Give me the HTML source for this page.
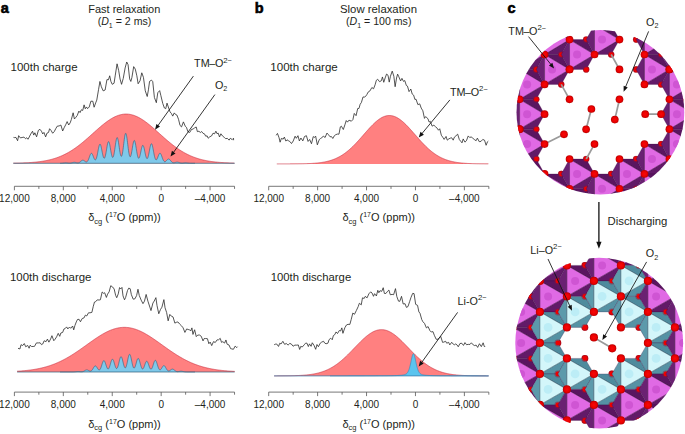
<!DOCTYPE html><html><head><meta charset="utf-8"><style>html,body{margin:0;padding:0;background:#fff;}svg{display:block;}</style></head><body>
<svg width="685" height="434" viewBox="0 0 685 434" font-family='"Liberation Sans", sans-serif' fill="#231f20">
<defs><clipPath id="ct"><ellipse cx="600.4" cy="112.2" rx="83.9" ry="82.2"/></clipPath><clipPath id="cb"><ellipse cx="599.2" cy="343.1" rx="83.9" ry="85.3"/></clipPath><radialGradient id="rg" cx="0.5" cy="0.5" r="0.5"><stop offset="0" stop-color="#f80808"/><stop offset="0.65" stop-color="#ea0000"/><stop offset="1" stop-color="#b80000"/></radialGradient></defs>
<rect width="685" height="434" fill="#fff"/>
<text x="0.8" y="12.9" font-size="14.5" font-weight="bold" fill="#000" stroke="#000" stroke-width="0.6">a</text>
<text x="254.8" y="12.9" font-size="14.5" font-weight="bold" fill="#000" stroke="#000" stroke-width="0.6">b</text>
<text x="507.4" y="12.9" font-size="14.5" font-weight="bold" fill="#000" stroke="#000" stroke-width="0.6">c</text>
<text x="88.3" y="12.9" font-size="10.9" textLength="72" lengthAdjust="spacingAndGlyphs">Fast relaxation</text>
<text x="124.5" y="25.3" text-anchor="middle" font-size="10.6">(<tspan font-style="italic">D</tspan><tspan font-size="7" dy="2.9">1</tspan><tspan dy="-2.9"> = 2 ms)</tspan></text>
<text x="340" y="13.4" font-size="10.9" textLength="77" lengthAdjust="spacingAndGlyphs">Slow relaxation</text>
<text x="378.7" y="25.3" text-anchor="middle" font-size="10.6">(<tspan font-style="italic">D</tspan><tspan font-size="7" dy="2.9">1</tspan><tspan dy="-2.9"> = 100 ms)</tspan></text>
<text x="10.6" y="70.6" font-size="11.2" textLength="67" lengthAdjust="spacingAndGlyphs">100th charge</text>
<text x="10.0" y="281" font-size="11.2" textLength="81.5" lengthAdjust="spacingAndGlyphs">100th discharge</text>
<text x="270.3" y="70.8" font-size="11.2" textLength="67.5" lengthAdjust="spacingAndGlyphs">100th charge</text>
<text x="270.7" y="280.7" font-size="11.2" textLength="80.5" lengthAdjust="spacingAndGlyphs">100th discharge</text>
<path d="M13.3,163.3 L13.3,163.15 L13.8,163.14 L14.3,163.13 L14.8,163.12 L15.3,163.11 L15.8,163.1 L16.3,163.09 L16.8,163.08 L17.3,163.07 L17.8,163.06 L18.3,163.05 L18.8,163.03 L19.3,163.02 L19.8,163.01 L20.3,162.99 L20.8,162.98 L21.3,162.96 L21.8,162.95 L22.3,162.93 L22.8,162.91 L23.3,162.89 L23.8,162.87 L24.3,162.85 L24.8,162.83 L25.3,162.81 L25.8,162.79 L26.3,162.76 L26.8,162.74 L27.3,162.71 L27.8,162.69 L28.3,162.66 L28.8,162.63 L29.3,162.6 L29.8,162.57 L30.3,162.53 L30.8,162.5 L31.3,162.46 L31.8,162.43 L32.3,162.39 L32.8,162.35 L33.3,162.31 L33.8,162.27 L34.3,162.22 L34.8,162.18 L35.3,162.13 L35.8,162.08 L36.3,162.03 L36.8,161.98 L37.3,161.92 L37.8,161.87 L38.3,161.81 L38.8,161.75 L39.3,161.69 L39.8,161.62 L40.3,161.55 L40.8,161.48 L41.3,161.41 L41.8,161.34 L42.3,161.26 L42.8,161.18 L43.3,161.1 L43.8,161.02 L44.3,160.93 L44.8,160.84 L45.3,160.75 L45.8,160.66 L46.3,160.56 L46.8,160.46 L47.3,160.35 L47.8,160.25 L48.3,160.14 L48.8,160.02 L49.3,159.91 L49.8,159.79 L50.3,159.67 L50.8,159.54 L51.3,159.41 L51.8,159.27 L52.3,159.14 L52.8,159 L53.3,158.85 L53.8,158.7 L54.3,158.55 L54.8,158.39 L55.3,158.23 L55.8,158.07 L56.3,157.9 L56.8,157.72 L57.3,157.55 L57.8,157.37 L58.3,157.18 L58.8,156.99 L59.3,156.79 L59.8,156.59 L60.3,156.39 L60.8,156.18 L61.3,155.97 L61.8,155.75 L62.3,155.53 L62.8,155.3 L63.3,155.07 L63.8,154.83 L64.3,154.59 L64.8,154.34 L65.3,154.09 L65.8,153.84 L66.3,153.57 L66.8,153.31 L67.3,153.04 L67.8,152.76 L68.3,152.48 L68.8,152.19 L69.3,151.9 L69.8,151.61 L70.3,151.3 L70.8,151 L71.3,150.69 L71.8,150.37 L72.3,150.05 L72.8,149.73 L73.3,149.39 L73.8,149.06 L74.3,148.72 L74.8,148.37 L75.3,148.02 L75.8,147.67 L76.3,147.31 L76.8,146.95 L77.3,146.58 L77.8,146.21 L78.3,145.83 L78.8,145.45 L79.3,145.06 L79.8,144.68 L80.3,144.28 L80.8,143.89 L81.3,143.48 L81.8,143.08 L82.3,142.67 L82.8,142.26 L83.3,141.85 L83.8,141.43 L84.3,141.01 L84.8,140.58 L85.3,140.15 L85.8,139.72 L86.3,139.29 L86.8,138.86 L87.3,138.42 L87.8,137.98 L88.3,137.54 L88.8,137.1 L89.3,136.66 L89.8,136.21 L90.3,135.76 L90.8,135.32 L91.3,134.87 L91.8,134.42 L92.3,133.97 L92.8,133.52 L93.3,133.07 L93.8,132.62 L94.3,132.17 L94.8,131.72 L95.3,131.27 L95.8,130.83 L96.3,130.38 L96.8,129.94 L97.3,129.49 L97.8,129.05 L98.3,128.61 L98.8,128.18 L99.3,127.74 L99.8,127.31 L100.3,126.89 L100.8,126.46 L101.3,126.04 L101.8,125.62 L102.3,125.21 L102.8,124.8 L103.3,124.4 L103.8,124 L104.3,123.6 L104.8,123.21 L105.3,122.83 L105.8,122.45 L106.3,122.07 L106.8,121.71 L107.3,121.35 L107.8,120.99 L108.3,120.64 L108.8,120.3 L109.3,119.97 L109.8,119.64 L110.3,119.32 L110.8,119.01 L111.3,118.71 L111.8,118.41 L112.3,118.13 L112.8,117.85 L113.3,117.58 L113.8,117.32 L114.3,117.06 L114.8,116.82 L115.3,116.59 L115.8,116.36 L116.3,116.15 L116.8,115.94 L117.3,115.75 L117.8,115.57 L118.3,115.39 L118.8,115.23 L119.3,115.07 L119.8,114.93 L120.3,114.8 L120.8,114.67 L121.3,114.56 L121.8,114.46 L122.3,114.37 L122.8,114.29 L123.3,114.22 L123.8,114.17 L124.3,114.12 L124.8,114.09 L125.3,114.06 L125.8,114.05 L126.3,114.05 L126.8,114.06 L127.3,114.08 L127.8,114.11 L128.3,114.16 L128.8,114.21 L129.3,114.28 L129.8,114.35 L130.3,114.44 L130.8,114.54 L131.3,114.65 L131.8,114.77 L132.3,114.9 L132.8,115.04 L133.3,115.19 L133.8,115.36 L134.3,115.53 L134.8,115.71 L135.3,115.91 L135.8,116.11 L136.3,116.32 L136.8,116.54 L137.3,116.77 L137.8,117.02 L138.3,117.27 L138.8,117.52 L139.3,117.79 L139.8,118.07 L140.3,118.35 L140.8,118.65 L141.3,118.95 L141.8,119.26 L142.3,119.58 L142.8,119.9 L143.3,120.24 L143.8,120.57 L144.3,120.92 L144.8,121.27 L145.3,121.63 L145.8,122 L146.3,122.37 L146.8,122.75 L147.3,123.13 L147.8,123.52 L148.3,123.92 L148.8,124.32 L149.3,124.72 L149.8,125.13 L150.3,125.54 L150.8,125.96 L151.3,126.38 L151.8,126.8 L152.3,127.23 L152.8,127.66 L153.3,128.09 L153.8,128.53 L154.3,128.96 L154.8,129.41 L155.3,129.85 L155.8,130.29 L156.3,130.74 L156.8,131.18 L157.3,131.63 L157.8,132.08 L158.3,132.53 L158.8,132.98 L159.3,133.43 L159.8,133.88 L160.3,134.33 L160.8,134.78 L161.3,135.23 L161.8,135.67 L162.3,136.12 L162.8,136.57 L163.3,137.01 L163.8,137.45 L164.3,137.89 L164.8,138.33 L165.3,138.77 L165.8,139.21 L166.3,139.64 L166.8,140.07 L167.3,140.5 L167.8,140.92 L168.3,141.34 L168.8,141.76 L169.3,142.18 L169.8,142.59 L170.3,143 L170.8,143.4 L171.3,143.81 L171.8,144.2 L172.3,144.6 L172.8,144.99 L173.3,145.37 L173.8,145.75 L174.3,146.13 L174.8,146.51 L175.3,146.87 L175.8,147.24 L176.3,147.6 L176.8,147.95 L177.3,148.3 L177.8,148.65 L178.3,148.99 L178.8,149.33 L179.3,149.66 L179.8,149.99 L180.3,150.31 L180.8,150.62 L181.3,150.94 L181.8,151.24 L182.3,151.55 L182.8,151.84 L183.3,152.14 L183.8,152.42 L184.3,152.7 L184.8,152.98 L185.3,153.25 L185.8,153.52 L186.3,153.78 L186.8,154.04 L187.3,154.29 L187.8,154.54 L188.3,154.78 L188.8,155.02 L189.3,155.26 L189.8,155.48 L190.3,155.71 L190.8,155.93 L191.3,156.14 L191.8,156.35 L192.3,156.55 L192.8,156.75 L193.3,156.95 L193.8,157.14 L194.3,157.33 L194.8,157.51 L195.3,157.69 L195.8,157.86 L196.3,158.03 L196.8,158.2 L197.3,158.36 L197.8,158.52 L198.3,158.67 L198.8,158.82 L199.3,158.97 L199.8,159.11 L200.3,159.25 L200.8,159.38 L201.3,159.51 L201.8,159.64 L202.3,159.76 L202.8,159.88 L203.3,160 L203.8,160.12 L204.3,160.23 L204.8,160.33 L205.3,160.44 L205.8,160.54 L206.3,160.64 L206.8,160.73 L207.3,160.83 L207.8,160.92 L208.3,161 L208.8,161.09 L209.3,161.17 L209.8,161.25 L210.3,161.32 L210.8,161.4 L211.3,161.47 L211.8,161.54 L212.3,161.61 L212.8,161.67 L213.3,161.74 L213.8,161.8 L214.3,161.86 L214.8,161.91 L215.3,161.97 L215.8,162.02 L216.3,162.07 L216.8,162.12 L217.3,162.17 L217.8,162.21 L218.3,162.26 L218.8,162.3 L219.3,162.34 L219.8,162.38 L220.3,162.42 L220.8,162.46 L221.3,162.49 L221.8,162.53 L222.3,162.56 L222.8,162.59 L223.3,162.62 L223.8,162.65 L224.3,162.68 L224.8,162.71 L225.3,162.73 L225.8,162.76 L226.3,162.78 L226.8,162.8 L227.3,162.83 L227.8,162.85 L228.3,162.87 L228.8,162.89 L229.3,162.91 L229.8,162.93 L230.3,162.94 L230.8,162.96 L231.3,162.97 L231.8,162.99 L232.3,163 L232.8,163.02 L233.3,163.03 L233.8,163.04 L234.3,163.06 L234.7,163.3 Z" fill="#ff8080"/><path d="M13.3,163.15 L13.8,163.14 L14.3,163.13 L14.8,163.12 L15.3,163.11 L15.8,163.1 L16.3,163.09 L16.8,163.08 L17.3,163.07 L17.8,163.06 L18.3,163.05 L18.8,163.03 L19.3,163.02 L19.8,163.01 L20.3,162.99 L20.8,162.98 L21.3,162.96 L21.8,162.95 L22.3,162.93 L22.8,162.91 L23.3,162.89 L23.8,162.87 L24.3,162.85 L24.8,162.83 L25.3,162.81 L25.8,162.79 L26.3,162.76 L26.8,162.74 L27.3,162.71 L27.8,162.69 L28.3,162.66 L28.8,162.63 L29.3,162.6 L29.8,162.57 L30.3,162.53 L30.8,162.5 L31.3,162.46 L31.8,162.43 L32.3,162.39 L32.8,162.35 L33.3,162.31 L33.8,162.27 L34.3,162.22 L34.8,162.18 L35.3,162.13 L35.8,162.08 L36.3,162.03 L36.8,161.98 L37.3,161.92 L37.8,161.87 L38.3,161.81 L38.8,161.75 L39.3,161.69 L39.8,161.62 L40.3,161.55 L40.8,161.48 L41.3,161.41 L41.8,161.34 L42.3,161.26 L42.8,161.18 L43.3,161.1 L43.8,161.02 L44.3,160.93 L44.8,160.84 L45.3,160.75 L45.8,160.66 L46.3,160.56 L46.8,160.46 L47.3,160.35 L47.8,160.25 L48.3,160.14 L48.8,160.02 L49.3,159.91 L49.8,159.79 L50.3,159.67 L50.8,159.54 L51.3,159.41 L51.8,159.27 L52.3,159.14 L52.8,159 L53.3,158.85 L53.8,158.7 L54.3,158.55 L54.8,158.39 L55.3,158.23 L55.8,158.07 L56.3,157.9 L56.8,157.72 L57.3,157.55 L57.8,157.37 L58.3,157.18 L58.8,156.99 L59.3,156.79 L59.8,156.59 L60.3,156.39 L60.8,156.18 L61.3,155.97 L61.8,155.75 L62.3,155.53 L62.8,155.3 L63.3,155.07 L63.8,154.83 L64.3,154.59 L64.8,154.34 L65.3,154.09 L65.8,153.84 L66.3,153.57 L66.8,153.31 L67.3,153.04 L67.8,152.76 L68.3,152.48 L68.8,152.19 L69.3,151.9 L69.8,151.61 L70.3,151.3 L70.8,151 L71.3,150.69 L71.8,150.37 L72.3,150.05 L72.8,149.73 L73.3,149.39 L73.8,149.06 L74.3,148.72 L74.8,148.37 L75.3,148.02 L75.8,147.67 L76.3,147.31 L76.8,146.95 L77.3,146.58 L77.8,146.21 L78.3,145.83 L78.8,145.45 L79.3,145.06 L79.8,144.68 L80.3,144.28 L80.8,143.89 L81.3,143.48 L81.8,143.08 L82.3,142.67 L82.8,142.26 L83.3,141.85 L83.8,141.43 L84.3,141.01 L84.8,140.58 L85.3,140.15 L85.8,139.72 L86.3,139.29 L86.8,138.86 L87.3,138.42 L87.8,137.98 L88.3,137.54 L88.8,137.1 L89.3,136.66 L89.8,136.21 L90.3,135.76 L90.8,135.32 L91.3,134.87 L91.8,134.42 L92.3,133.97 L92.8,133.52 L93.3,133.07 L93.8,132.62 L94.3,132.17 L94.8,131.72 L95.3,131.27 L95.8,130.83 L96.3,130.38 L96.8,129.94 L97.3,129.49 L97.8,129.05 L98.3,128.61 L98.8,128.18 L99.3,127.74 L99.8,127.31 L100.3,126.89 L100.8,126.46 L101.3,126.04 L101.8,125.62 L102.3,125.21 L102.8,124.8 L103.3,124.4 L103.8,124 L104.3,123.6 L104.8,123.21 L105.3,122.83 L105.8,122.45 L106.3,122.07 L106.8,121.71 L107.3,121.35 L107.8,120.99 L108.3,120.64 L108.8,120.3 L109.3,119.97 L109.8,119.64 L110.3,119.32 L110.8,119.01 L111.3,118.71 L111.8,118.41 L112.3,118.13 L112.8,117.85 L113.3,117.58 L113.8,117.32 L114.3,117.06 L114.8,116.82 L115.3,116.59 L115.8,116.36 L116.3,116.15 L116.8,115.94 L117.3,115.75 L117.8,115.57 L118.3,115.39 L118.8,115.23 L119.3,115.07 L119.8,114.93 L120.3,114.8 L120.8,114.67 L121.3,114.56 L121.8,114.46 L122.3,114.37 L122.8,114.29 L123.3,114.22 L123.8,114.17 L124.3,114.12 L124.8,114.09 L125.3,114.06 L125.8,114.05 L126.3,114.05 L126.8,114.06 L127.3,114.08 L127.8,114.11 L128.3,114.16 L128.8,114.21 L129.3,114.28 L129.8,114.35 L130.3,114.44 L130.8,114.54 L131.3,114.65 L131.8,114.77 L132.3,114.9 L132.8,115.04 L133.3,115.19 L133.8,115.36 L134.3,115.53 L134.8,115.71 L135.3,115.91 L135.8,116.11 L136.3,116.32 L136.8,116.54 L137.3,116.77 L137.8,117.02 L138.3,117.27 L138.8,117.52 L139.3,117.79 L139.8,118.07 L140.3,118.35 L140.8,118.65 L141.3,118.95 L141.8,119.26 L142.3,119.58 L142.8,119.9 L143.3,120.24 L143.8,120.57 L144.3,120.92 L144.8,121.27 L145.3,121.63 L145.8,122 L146.3,122.37 L146.8,122.75 L147.3,123.13 L147.8,123.52 L148.3,123.92 L148.8,124.32 L149.3,124.72 L149.8,125.13 L150.3,125.54 L150.8,125.96 L151.3,126.38 L151.8,126.8 L152.3,127.23 L152.8,127.66 L153.3,128.09 L153.8,128.53 L154.3,128.96 L154.8,129.41 L155.3,129.85 L155.8,130.29 L156.3,130.74 L156.8,131.18 L157.3,131.63 L157.8,132.08 L158.3,132.53 L158.8,132.98 L159.3,133.43 L159.8,133.88 L160.3,134.33 L160.8,134.78 L161.3,135.23 L161.8,135.67 L162.3,136.12 L162.8,136.57 L163.3,137.01 L163.8,137.45 L164.3,137.89 L164.8,138.33 L165.3,138.77 L165.8,139.21 L166.3,139.64 L166.8,140.07 L167.3,140.5 L167.8,140.92 L168.3,141.34 L168.8,141.76 L169.3,142.18 L169.8,142.59 L170.3,143 L170.8,143.4 L171.3,143.81 L171.8,144.2 L172.3,144.6 L172.8,144.99 L173.3,145.37 L173.8,145.75 L174.3,146.13 L174.8,146.51 L175.3,146.87 L175.8,147.24 L176.3,147.6 L176.8,147.95 L177.3,148.3 L177.8,148.65 L178.3,148.99 L178.8,149.33 L179.3,149.66 L179.8,149.99 L180.3,150.31 L180.8,150.62 L181.3,150.94 L181.8,151.24 L182.3,151.55 L182.8,151.84 L183.3,152.14 L183.8,152.42 L184.3,152.7 L184.8,152.98 L185.3,153.25 L185.8,153.52 L186.3,153.78 L186.8,154.04 L187.3,154.29 L187.8,154.54 L188.3,154.78 L188.8,155.02 L189.3,155.26 L189.8,155.48 L190.3,155.71 L190.8,155.93 L191.3,156.14 L191.8,156.35 L192.3,156.55 L192.8,156.75 L193.3,156.95 L193.8,157.14 L194.3,157.33 L194.8,157.51 L195.3,157.69 L195.8,157.86 L196.3,158.03 L196.8,158.2 L197.3,158.36 L197.8,158.52 L198.3,158.67 L198.8,158.82 L199.3,158.97 L199.8,159.11 L200.3,159.25 L200.8,159.38 L201.3,159.51 L201.8,159.64 L202.3,159.76 L202.8,159.88 L203.3,160 L203.8,160.12 L204.3,160.23 L204.8,160.33 L205.3,160.44 L205.8,160.54 L206.3,160.64 L206.8,160.73 L207.3,160.83 L207.8,160.92 L208.3,161 L208.8,161.09 L209.3,161.17 L209.8,161.25 L210.3,161.32 L210.8,161.4 L211.3,161.47 L211.8,161.54 L212.3,161.61 L212.8,161.67 L213.3,161.74 L213.8,161.8 L214.3,161.86 L214.8,161.91 L215.3,161.97 L215.8,162.02 L216.3,162.07 L216.8,162.12 L217.3,162.17 L217.8,162.21 L218.3,162.26 L218.8,162.3 L219.3,162.34 L219.8,162.38 L220.3,162.42 L220.8,162.46 L221.3,162.49 L221.8,162.53 L222.3,162.56 L222.8,162.59 L223.3,162.62 L223.8,162.65 L224.3,162.68 L224.8,162.71 L225.3,162.73 L225.8,162.76 L226.3,162.78 L226.8,162.8 L227.3,162.83 L227.8,162.85 L228.3,162.87 L228.8,162.89 L229.3,162.91 L229.8,162.93 L230.3,162.94 L230.8,162.96 L231.3,162.97 L231.8,162.99 L232.3,163 L232.8,163.02 L233.3,163.03 L233.8,163.04 L234.3,163.06" fill="none" stroke="#c8283a" stroke-width="0.6"/><path d="M60,163.3 L60,163.29 L60.25,163.28 L60.5,163.28 L60.75,163.27 L61,163.26 L61.25,163.25 L61.5,163.23 L61.75,163.22 L62,163.19 L62.25,163.17 L62.5,163.14 L62.75,163.11 L63,163.08 L63.25,163.05 L63.5,163.01 L63.75,162.98 L64,162.94 L64.25,162.91 L64.5,162.88 L64.75,162.85 L65,162.83 L65.25,162.81 L65.5,162.8 L65.75,162.8 L66,162.8 L66.25,162.82 L66.5,162.83 L66.75,162.86 L67,162.88 L67.25,162.91 L67.5,162.95 L67.75,162.98 L68,163.01 L68.25,163.04 L68.5,163.07 L68.75,163.09 L69,163.11 L69.25,163.12 L69.5,163.13 L69.75,163.12 L70,163.11 L70.25,163.09 L70.5,163.07 L70.75,163.03 L71,162.98 L71.25,162.93 L71.5,162.87 L71.75,162.81 L72,162.74 L72.25,162.67 L72.5,162.6 L72.75,162.53 L73,162.47 L73.25,162.41 L73.5,162.37 L73.75,162.33 L74,162.31 L74.25,162.3 L74.5,162.3 L74.75,162.32 L75,162.35 L75.25,162.4 L75.5,162.45 L75.75,162.51 L76,162.57 L76.25,162.63 L76.5,162.7 L76.75,162.75 L77,162.8 L77.25,162.84 L77.5,162.87 L77.75,162.88 L78,162.88 L78.25,162.85 L78.5,162.8 L78.75,162.74 L79,162.64 L79.25,162.53 L79.5,162.39 L79.75,162.22 L80,162.04 L80.25,161.84 L80.5,161.63 L80.75,161.41 L81,161.19 L81.25,160.98 L81.5,160.78 L81.75,160.6 L82,160.44 L82.25,160.32 L82.5,160.24 L82.75,160.2 L83,160.2 L83.25,160.25 L83.5,160.34 L83.75,160.46 L84,160.61 L84.25,160.79 L84.5,160.98 L84.75,161.18 L85,161.37 L85.25,161.55 L85.5,161.71 L85.75,161.84 L86,161.94 L86.25,161.98 L86.5,161.97 L86.75,161.9 L87,161.77 L87.25,161.56 L87.5,161.28 L87.75,160.92 L88,160.49 L88.25,159.99 L88.5,159.41 L88.75,158.78 L89,158.11 L89.25,157.41 L89.5,156.7 L89.75,156 L90,155.33 L90.25,154.73 L90.5,154.21 L90.75,153.79 L91,153.49 L91.25,153.33 L91.5,153.3 L91.75,153.41 L92,153.66 L92.25,154.03 L92.5,154.51 L92.75,155.07 L93,155.69 L93.25,156.35 L93.5,157.02 L93.75,157.67 L94,158.27 L94.25,158.81 L94.5,159.26 L94.75,159.61 L95,159.83 L95.25,159.91 L95.5,159.84 L95.75,159.62 L96,159.23 L96.25,158.68 L96.5,157.96 L96.75,157.09 L97,156.08 L97.25,154.93 L97.5,153.69 L97.75,152.38 L98,151.04 L98.25,149.7 L98.5,148.42 L98.75,147.23 L99,146.19 L99.25,145.34 L99.5,144.7 L99.75,144.32 L100,144.19 L100.25,144.34 L100.5,144.74 L100.75,145.39 L101,146.25 L101.25,147.3 L101.5,148.47 L101.75,149.74 L102,151.05 L102.25,152.36 L102.5,153.61 L102.75,154.77 L103,155.81 L103.25,156.69 L103.5,157.38 L103.75,157.88 L104,158.16 L104.25,158.22 L104.5,158.05 L104.75,157.65 L105,157.03 L105.25,156.2 L105.5,155.18 L105.75,153.99 L106,152.66 L106.25,151.23 L106.5,149.73 L106.75,148.23 L107,146.76 L107.25,145.39 L107.5,144.16 L107.75,143.13 L108,142.34 L108.25,141.82 L108.5,141.6 L108.75,141.68 L109,142.05 L109.25,142.72 L109.5,143.63 L109.75,144.76 L110,146.07 L110.25,147.48 L110.5,148.96 L110.75,150.45 L111,151.89 L111.25,153.24 L111.5,154.45 L111.75,155.49 L112,156.33 L112.25,156.94 L112.5,157.31 L112.75,157.42 L113,157.26 L113.25,156.84 L113.5,156.17 L113.75,155.24 L114,154.08 L114.25,152.71 L114.5,151.17 L114.75,149.5 L115,147.74 L115.25,145.95 L115.5,144.19 L115.75,142.53 L116,141.02 L116.25,139.73 L116.5,138.71 L116.75,138 L117,137.64 L117.25,137.63 L117.5,137.98 L117.75,138.67 L118,139.68 L118.25,140.95 L118.5,142.44 L118.75,144.09 L119,145.83 L119.25,147.59 L119.5,149.32 L119.75,150.96 L120,152.45 L120.25,153.74 L120.5,154.81 L120.75,155.62 L121,156.14 L121.25,156.37 L121.5,156.29 L121.75,155.9 L122,155.2 L122.25,154.2 L122.5,152.93 L122.75,151.4 L123,149.66 L123.25,147.74 L123.5,145.71 L123.75,143.63 L124,141.56 L124.25,139.58 L124.5,137.76 L124.75,136.18 L125,134.9 L125.25,133.96 L125.5,133.42 L125.75,133.3 L126,133.59 L126.25,134.29 L126.5,135.37 L126.75,136.79 L127,138.47 L127.25,140.37 L127.5,142.4 L127.75,144.49 L128,146.57 L128.25,148.57 L128.5,150.44 L128.75,152.13 L129,153.59 L129.25,154.8 L129.5,155.74 L129.75,156.38 L130,156.73 L130.25,156.78 L130.5,156.55 L130.75,156.04 L131,155.28 L131.25,154.28 L131.5,153.09 L131.75,151.73 L132,150.25 L132.25,148.71 L132.5,147.16 L132.75,145.65 L133,144.24 L133.25,142.99 L133.5,141.95 L133.75,141.17 L134,140.67 L134.25,140.49 L134.5,140.62 L134.75,141.07 L135,141.82 L135.25,142.83 L135.5,144.05 L135.75,145.45 L136,146.97 L136.25,148.55 L136.5,150.14 L136.75,151.68 L137,153.13 L137.25,154.45 L137.5,155.6 L137.75,156.57 L138,157.33 L138.25,157.86 L138.5,158.17 L138.75,158.26 L139,158.11 L139.25,157.75 L139.5,157.19 L139.75,156.45 L140,155.54 L140.25,154.49 L140.5,153.35 L140.75,152.14 L141,150.9 L141.25,149.69 L141.5,148.55 L141.75,147.53 L142,146.66 L142.25,145.98 L142.5,145.52 L142.75,145.31 L143,145.34 L143.25,145.63 L143.5,146.15 L143.75,146.89 L144,147.81 L144.25,148.87 L144.5,150.04 L144.75,151.27 L145,152.51 L145.25,153.72 L145.5,154.86 L145.75,155.89 L146,156.79 L146.25,157.53 L146.5,158.08 L146.75,158.45 L147,158.61 L147.25,158.56 L147.5,158.3 L147.75,157.84 L148,157.18 L148.25,156.33 L148.5,155.32 L148.75,154.17 L149,152.91 L149.25,151.58 L149.5,150.22 L149.75,148.88 L150,147.6 L150.25,146.44 L150.5,145.43 L150.75,144.63 L151,144.06 L151.25,143.75 L151.5,143.71 L151.75,143.95 L152,144.45 L152.25,145.19 L152.5,146.15 L152.75,147.28 L153,148.54 L153.25,149.89 L153.5,151.27 L153.75,152.64 L154,153.96 L154.25,155.2 L154.5,156.33 L154.75,157.31 L155,158.15 L155.25,158.82 L155.5,159.32 L155.75,159.66 L156,159.83 L156.25,159.84 L156.5,159.7 L156.75,159.43 L157,159.04 L157.25,158.55 L157.5,157.98 L157.75,157.35 L158,156.68 L158.25,156.01 L158.5,155.36 L158.75,154.75 L159,154.21 L159.25,153.77 L159.5,153.45 L159.75,153.25 L160,153.19 L160.25,153.28 L160.5,153.5 L160.75,153.85 L161,154.32 L161.25,154.88 L161.5,155.51 L161.75,156.2 L162,156.91 L162.25,157.62 L162.5,158.32 L162.75,158.97 L163,159.58 L163.25,160.12 L163.5,160.58 L163.75,160.97 L164,161.27 L164.25,161.49 L164.5,161.63 L164.75,161.7 L165,161.69 L165.25,161.62 L165.5,161.48 L165.75,161.3 L166,161.08 L166.25,160.82 L166.5,160.55 L166.75,160.27 L167,159.99 L167.25,159.72 L167.5,159.49 L167.75,159.29 L168,159.14 L168.25,159.04 L168.5,159 L168.75,159.02 L169,159.1 L169.25,159.23 L169.5,159.42 L169.75,159.64 L170,159.91 L170.25,160.2 L170.5,160.5 L170.75,160.8 L171,161.11 L171.25,161.39 L171.5,161.66 L171.75,161.91 L172,162.12 L172.25,162.31 L172.5,162.46 L172.75,162.58 L173,162.67 L173.25,162.73 L173.5,162.76 L173.75,162.77 L174,162.75 L174.25,162.72 L174.5,162.67 L174.75,162.61 L175,162.54 L175.25,162.47 L175.5,162.39 L175.75,162.32 L176,162.25 L176.25,162.19 L176.5,162.15 L176.75,162.12 L177,162.1 L177.25,162.1 L177.5,162.12 L177.75,162.15 L178,162.2 L178.25,162.26 L178.5,162.33 L178.75,162.41 L179,162.49 L179.25,162.58 L179.5,162.66 L179.75,162.74 L180,162.82 L180.25,162.89 L180.5,162.95 L180.75,163 L181,163.04 L181.25,163.07 L181.5,163.1 L181.75,163.11 L182,163.11 L182.25,163.11 L182.5,163.1 L182.75,163.08 L183,163.06 L183.25,163.03 L183.5,163 L183.75,162.97 L184,162.93 L184.25,162.9 L184.5,162.87 L184.75,162.85 L185,162.83 L185.25,162.81 L185.5,162.8 L185.75,162.8 L186,162.81 L186.25,162.82 L186.5,162.84 L186.75,162.86 L187,162.89 L187.25,162.92 L187.5,162.96 L187.75,162.99 L188,163.03 L188.25,163.06 L188.5,163.1 L188.75,163.13 L189,163.16 L189.25,163.18 L189.5,163.2 L189.75,163.22 L190,163.24 L190.25,163.25 L190.5,163.26 L190.75,163.27 L191,163.28 L191.25,163.28 L191.5,163.29 L191.75,163.29 L192,163.29 L192.25,163.3 L192.5,163.3 L192.75,163.3 L193,163.3 L193.25,163.3 L193.5,163.3 L193.75,163.3 L194,163.3 L194.25,163.3 L194.5,163.3 L194.75,163.3 L195,163.3 L195,163.3 Z" fill="#7fc9ea"/><path d="M60,163.29 L60.25,163.28 L60.5,163.28 L60.75,163.27 L61,163.26 L61.25,163.25 L61.5,163.23 L61.75,163.22 L62,163.19 L62.25,163.17 L62.5,163.14 L62.75,163.11 L63,163.08 L63.25,163.05 L63.5,163.01 L63.75,162.98 L64,162.94 L64.25,162.91 L64.5,162.88 L64.75,162.85 L65,162.83 L65.25,162.81 L65.5,162.8 L65.75,162.8 L66,162.8 L66.25,162.82 L66.5,162.83 L66.75,162.86 L67,162.88 L67.25,162.91 L67.5,162.95 L67.75,162.98 L68,163.01 L68.25,163.04 L68.5,163.07 L68.75,163.09 L69,163.11 L69.25,163.12 L69.5,163.13 L69.75,163.12 L70,163.11 L70.25,163.09 L70.5,163.07 L70.75,163.03 L71,162.98 L71.25,162.93 L71.5,162.87 L71.75,162.81 L72,162.74 L72.25,162.67 L72.5,162.6 L72.75,162.53 L73,162.47 L73.25,162.41 L73.5,162.37 L73.75,162.33 L74,162.31 L74.25,162.3 L74.5,162.3 L74.75,162.32 L75,162.35 L75.25,162.4 L75.5,162.45 L75.75,162.51 L76,162.57 L76.25,162.63 L76.5,162.7 L76.75,162.75 L77,162.8 L77.25,162.84 L77.5,162.87 L77.75,162.88 L78,162.88 L78.25,162.85 L78.5,162.8 L78.75,162.74 L79,162.64 L79.25,162.53 L79.5,162.39 L79.75,162.22 L80,162.04 L80.25,161.84 L80.5,161.63 L80.75,161.41 L81,161.19 L81.25,160.98 L81.5,160.78 L81.75,160.6 L82,160.44 L82.25,160.32 L82.5,160.24 L82.75,160.2 L83,160.2 L83.25,160.25 L83.5,160.34 L83.75,160.46 L84,160.61 L84.25,160.79 L84.5,160.98 L84.75,161.18 L85,161.37 L85.25,161.55 L85.5,161.71 L85.75,161.84 L86,161.94 L86.25,161.98 L86.5,161.97 L86.75,161.9 L87,161.77 L87.25,161.56 L87.5,161.28 L87.75,160.92 L88,160.49 L88.25,159.99 L88.5,159.41 L88.75,158.78 L89,158.11 L89.25,157.41 L89.5,156.7 L89.75,156 L90,155.33 L90.25,154.73 L90.5,154.21 L90.75,153.79 L91,153.49 L91.25,153.33 L91.5,153.3 L91.75,153.41 L92,153.66 L92.25,154.03 L92.5,154.51 L92.75,155.07 L93,155.69 L93.25,156.35 L93.5,157.02 L93.75,157.67 L94,158.27 L94.25,158.81 L94.5,159.26 L94.75,159.61 L95,159.83 L95.25,159.91 L95.5,159.84 L95.75,159.62 L96,159.23 L96.25,158.68 L96.5,157.96 L96.75,157.09 L97,156.08 L97.25,154.93 L97.5,153.69 L97.75,152.38 L98,151.04 L98.25,149.7 L98.5,148.42 L98.75,147.23 L99,146.19 L99.25,145.34 L99.5,144.7 L99.75,144.32 L100,144.19 L100.25,144.34 L100.5,144.74 L100.75,145.39 L101,146.25 L101.25,147.3 L101.5,148.47 L101.75,149.74 L102,151.05 L102.25,152.36 L102.5,153.61 L102.75,154.77 L103,155.81 L103.25,156.69 L103.5,157.38 L103.75,157.88 L104,158.16 L104.25,158.22 L104.5,158.05 L104.75,157.65 L105,157.03 L105.25,156.2 L105.5,155.18 L105.75,153.99 L106,152.66 L106.25,151.23 L106.5,149.73 L106.75,148.23 L107,146.76 L107.25,145.39 L107.5,144.16 L107.75,143.13 L108,142.34 L108.25,141.82 L108.5,141.6 L108.75,141.68 L109,142.05 L109.25,142.72 L109.5,143.63 L109.75,144.76 L110,146.07 L110.25,147.48 L110.5,148.96 L110.75,150.45 L111,151.89 L111.25,153.24 L111.5,154.45 L111.75,155.49 L112,156.33 L112.25,156.94 L112.5,157.31 L112.75,157.42 L113,157.26 L113.25,156.84 L113.5,156.17 L113.75,155.24 L114,154.08 L114.25,152.71 L114.5,151.17 L114.75,149.5 L115,147.74 L115.25,145.95 L115.5,144.19 L115.75,142.53 L116,141.02 L116.25,139.73 L116.5,138.71 L116.75,138 L117,137.64 L117.25,137.63 L117.5,137.98 L117.75,138.67 L118,139.68 L118.25,140.95 L118.5,142.44 L118.75,144.09 L119,145.83 L119.25,147.59 L119.5,149.32 L119.75,150.96 L120,152.45 L120.25,153.74 L120.5,154.81 L120.75,155.62 L121,156.14 L121.25,156.37 L121.5,156.29 L121.75,155.9 L122,155.2 L122.25,154.2 L122.5,152.93 L122.75,151.4 L123,149.66 L123.25,147.74 L123.5,145.71 L123.75,143.63 L124,141.56 L124.25,139.58 L124.5,137.76 L124.75,136.18 L125,134.9 L125.25,133.96 L125.5,133.42 L125.75,133.3 L126,133.59 L126.25,134.29 L126.5,135.37 L126.75,136.79 L127,138.47 L127.25,140.37 L127.5,142.4 L127.75,144.49 L128,146.57 L128.25,148.57 L128.5,150.44 L128.75,152.13 L129,153.59 L129.25,154.8 L129.5,155.74 L129.75,156.38 L130,156.73 L130.25,156.78 L130.5,156.55 L130.75,156.04 L131,155.28 L131.25,154.28 L131.5,153.09 L131.75,151.73 L132,150.25 L132.25,148.71 L132.5,147.16 L132.75,145.65 L133,144.24 L133.25,142.99 L133.5,141.95 L133.75,141.17 L134,140.67 L134.25,140.49 L134.5,140.62 L134.75,141.07 L135,141.82 L135.25,142.83 L135.5,144.05 L135.75,145.45 L136,146.97 L136.25,148.55 L136.5,150.14 L136.75,151.68 L137,153.13 L137.25,154.45 L137.5,155.6 L137.75,156.57 L138,157.33 L138.25,157.86 L138.5,158.17 L138.75,158.26 L139,158.11 L139.25,157.75 L139.5,157.19 L139.75,156.45 L140,155.54 L140.25,154.49 L140.5,153.35 L140.75,152.14 L141,150.9 L141.25,149.69 L141.5,148.55 L141.75,147.53 L142,146.66 L142.25,145.98 L142.5,145.52 L142.75,145.31 L143,145.34 L143.25,145.63 L143.5,146.15 L143.75,146.89 L144,147.81 L144.25,148.87 L144.5,150.04 L144.75,151.27 L145,152.51 L145.25,153.72 L145.5,154.86 L145.75,155.89 L146,156.79 L146.25,157.53 L146.5,158.08 L146.75,158.45 L147,158.61 L147.25,158.56 L147.5,158.3 L147.75,157.84 L148,157.18 L148.25,156.33 L148.5,155.32 L148.75,154.17 L149,152.91 L149.25,151.58 L149.5,150.22 L149.75,148.88 L150,147.6 L150.25,146.44 L150.5,145.43 L150.75,144.63 L151,144.06 L151.25,143.75 L151.5,143.71 L151.75,143.95 L152,144.45 L152.25,145.19 L152.5,146.15 L152.75,147.28 L153,148.54 L153.25,149.89 L153.5,151.27 L153.75,152.64 L154,153.96 L154.25,155.2 L154.5,156.33 L154.75,157.31 L155,158.15 L155.25,158.82 L155.5,159.32 L155.75,159.66 L156,159.83 L156.25,159.84 L156.5,159.7 L156.75,159.43 L157,159.04 L157.25,158.55 L157.5,157.98 L157.75,157.35 L158,156.68 L158.25,156.01 L158.5,155.36 L158.75,154.75 L159,154.21 L159.25,153.77 L159.5,153.45 L159.75,153.25 L160,153.19 L160.25,153.28 L160.5,153.5 L160.75,153.85 L161,154.32 L161.25,154.88 L161.5,155.51 L161.75,156.2 L162,156.91 L162.25,157.62 L162.5,158.32 L162.75,158.97 L163,159.58 L163.25,160.12 L163.5,160.58 L163.75,160.97 L164,161.27 L164.25,161.49 L164.5,161.63 L164.75,161.7 L165,161.69 L165.25,161.62 L165.5,161.48 L165.75,161.3 L166,161.08 L166.25,160.82 L166.5,160.55 L166.75,160.27 L167,159.99 L167.25,159.72 L167.5,159.49 L167.75,159.29 L168,159.14 L168.25,159.04 L168.5,159 L168.75,159.02 L169,159.1 L169.25,159.23 L169.5,159.42 L169.75,159.64 L170,159.91 L170.25,160.2 L170.5,160.5 L170.75,160.8 L171,161.11 L171.25,161.39 L171.5,161.66 L171.75,161.91 L172,162.12 L172.25,162.31 L172.5,162.46 L172.75,162.58 L173,162.67 L173.25,162.73 L173.5,162.76 L173.75,162.77 L174,162.75 L174.25,162.72 L174.5,162.67 L174.75,162.61 L175,162.54 L175.25,162.47 L175.5,162.39 L175.75,162.32 L176,162.25 L176.25,162.19 L176.5,162.15 L176.75,162.12 L177,162.1 L177.25,162.1 L177.5,162.12 L177.75,162.15 L178,162.2 L178.25,162.26 L178.5,162.33 L178.75,162.41 L179,162.49 L179.25,162.58 L179.5,162.66 L179.75,162.74 L180,162.82 L180.25,162.89 L180.5,162.95 L180.75,163 L181,163.04 L181.25,163.07 L181.5,163.1 L181.75,163.11 L182,163.11 L182.25,163.11 L182.5,163.1 L182.75,163.08 L183,163.06 L183.25,163.03 L183.5,163 L183.75,162.97 L184,162.93 L184.25,162.9 L184.5,162.87 L184.75,162.85 L185,162.83 L185.25,162.81 L185.5,162.8 L185.75,162.8 L186,162.81 L186.25,162.82 L186.5,162.84 L186.75,162.86 L187,162.89 L187.25,162.92 L187.5,162.96 L187.75,162.99 L188,163.03 L188.25,163.06 L188.5,163.1 L188.75,163.13 L189,163.16 L189.25,163.18 L189.5,163.2 L189.75,163.22 L190,163.24 L190.25,163.25 L190.5,163.26 L190.75,163.27 L191,163.28 L191.25,163.28 L191.5,163.29 L191.75,163.29 L192,163.29 L192.25,163.3 L192.5,163.3 L192.75,163.3 L193,163.3 L193.25,163.3 L193.5,163.3 L193.75,163.3 L194,163.3 L194.25,163.3 L194.5,163.3 L194.75,163.3 L195,163.3" fill="none" stroke="#2e5b78" stroke-width="0.6"/><path d="M13.3,163.3H234.7" stroke="#2e5b78" stroke-width="0.7"/>
<path d="M13.5,137.4 L14.67,137.61 L15.95,137.42 L17.59,140.71 L18.66,135.67 L20.4,137.9 L22.1,137.51 L23.96,137.07 L25.5,138.73 L26.74,137.74 L27.99,139.28 L29.25,136.96 L30.71,134.06 L32.52,131.24 L33.74,135.09 L34.89,132.78 L36.58,136.82 L38.38,130.33 L39.96,129.31 L41.46,131.22 L42.73,133.94 L43.94,132.42 L45.6,136.89 L47.1,133 L48.51,132.48 L49.6,128.73 L51.18,130.61 L52.68,133.26 L54.22,131.63 L55.73,128.72 L57.19,126.21 L59.11,125.93 L60.89,125.04 L62.67,130.97 L64.11,127.75 L65.67,124.8 L67.15,121.58 L68.69,125.01 L70.15,122.85 L71.36,119.47 L73.13,112.79 L74.41,118.98 L75.53,117.74 L77.26,115.46 L78.88,111.09 L80.07,112.58 L81.37,109.75 L82.71,110.43 L84.1,104.86 L85.25,108.77 L86.49,106.96 L87.56,108.67 L89.26,106.96 L90.92,101.16 L92.84,101.27 L94.1,107.22 L95.66,102.88 L96.77,100.12 L98.6,89.28 L99.93,81.46 L101.36,86.77 L103.2,90.89 L105.11,90.01 L106.95,79.59 L108.45,79.75 L109.69,75.79 L110.91,81.49 L112.23,84.33 L114.06,83.24 L115.3,75.12 L117.05,63.82 L118.71,70.73 L120.07,79.07 L121.55,84.34 L123.26,78.39 L125.13,67.92 L126.72,61.99 L128.07,64.69 L129.67,78.91 L130.84,81.44 L131.92,77.44 L133.68,66.63 L135.29,69.14 L136.85,75.81 L138.14,83.77 L140.02,80.81 L141.78,72.81 L143.43,77.31 L145.28,90.8 L147.22,96.51 L148.42,89.83 L149.56,81.39 L151.49,80.13 L152.76,81.65 L154.4,97.46 L156.33,102.69 L157.79,92.72 L159.66,90.61 L160.81,95.33 L162.74,103.38 L164.39,107.99 L165.72,108.71 L167.02,103.12 L168.66,108.02 L170.06,111.89 L171.39,113.46 L172.71,116.12 L174.29,112.9 L175.35,114.3 L176.9,115.06 L178.52,119.25 L180.02,125.41 L181.52,126.9 L183.42,121.88 L185.36,126.44 L186.5,127.4 L187.82,131.64 L189.69,132.45 L191.55,129.44 L193.36,128.98 L194.57,127.74 L196.26,127.06 L197.37,131.62 L198.91,131.25 L200.37,132.53 L201.65,131.52 L203.08,133.39 L204.45,133.83 L205.73,136.21 L207.14,135.87 L208.2,138.24 L209.83,136.76 L211.54,135.97 L213.02,133.2 L214.58,133.84 L215.87,131.15 L216.99,133.69 L218.18,133.07 L219.51,136.97 L220.9,133.79 L222.48,135.94 L224.4,137.51 L225.67,138.61 L227.4,138.41 L229.1,140.15 L230.3,138.28 L232.23,139.62 L233.52,138.21 L233.6,140.2" fill="none" stroke="#2a2a2a" stroke-width="0.8" stroke-linejoin="round"/>
<path d="M14.4,186.3H234.54" stroke="#555" stroke-width="0.8" fill="none"/>
<path d="M14.4,186.3v4" stroke="#555" stroke-width="0.8"/>
<text x="14.4" y="201.7" text-anchor="middle" font-size="10">12,000</text>
<path d="M38.86,186.3v2.6" stroke="#555" stroke-width="0.8"/>
<path d="M63.32,186.3v4" stroke="#555" stroke-width="0.8"/>
<text x="63.32" y="201.7" text-anchor="middle" font-size="10">8,000</text>
<path d="M87.78,186.3v2.6" stroke="#555" stroke-width="0.8"/>
<path d="M112.24,186.3v4" stroke="#555" stroke-width="0.8"/>
<text x="112.24" y="201.7" text-anchor="middle" font-size="10">4,000</text>
<path d="M136.7,186.3v2.6" stroke="#555" stroke-width="0.8"/>
<path d="M161.16,186.3v4" stroke="#555" stroke-width="0.8"/>
<text x="161.16" y="201.7" text-anchor="middle" font-size="10">0</text>
<path d="M185.62,186.3v2.6" stroke="#555" stroke-width="0.8"/>
<path d="M210.08,186.3v4" stroke="#555" stroke-width="0.8"/>
<text x="210.08" y="201.7" text-anchor="middle" font-size="10">–4,000</text>
<path d="M234.54,186.3v2.6" stroke="#555" stroke-width="0.8"/>
<text x="124.5" y="221.2" text-anchor="middle" font-size="11">δ<tspan font-size="7.5" dy="2.5">cg</tspan><tspan dy="-2.5"> (</tspan><tspan font-size="7" dy="-4">17</tspan><tspan dy="4">O (ppm))</tspan></text>
<path d="M17.1,372 L17.1,371.21 L17.6,371.18 L18.1,371.15 L18.6,371.12 L19.1,371.09 L19.6,371.05 L20.1,371.02 L20.6,370.98 L21.1,370.94 L21.6,370.9 L22.1,370.86 L22.6,370.82 L23.1,370.78 L23.6,370.73 L24.1,370.69 L24.6,370.64 L25.1,370.59 L25.6,370.54 L26.1,370.49 L26.6,370.44 L27.1,370.38 L27.6,370.33 L28.1,370.27 L28.6,370.21 L29.1,370.15 L29.6,370.09 L30.1,370.02 L30.6,369.96 L31.1,369.89 L31.6,369.82 L32.1,369.75 L32.6,369.67 L33.1,369.6 L33.6,369.52 L34.1,369.44 L34.6,369.36 L35.1,369.27 L35.6,369.19 L36.1,369.1 L36.6,369.01 L37.1,368.91 L37.6,368.82 L38.1,368.72 L38.6,368.62 L39.1,368.52 L39.6,368.41 L40.1,368.3 L40.6,368.19 L41.1,368.08 L41.6,367.96 L42.1,367.84 L42.6,367.72 L43.1,367.6 L43.6,367.47 L44.1,367.34 L44.6,367.21 L45.1,367.07 L45.6,366.93 L46.1,366.79 L46.6,366.65 L47.1,366.5 L47.6,366.35 L48.1,366.2 L48.6,366.04 L49.1,365.88 L49.6,365.72 L50.1,365.55 L50.6,365.38 L51.1,365.21 L51.6,365.03 L52.1,364.85 L52.6,364.67 L53.1,364.48 L53.6,364.29 L54.1,364.1 L54.6,363.9 L55.1,363.7 L55.6,363.5 L56.1,363.29 L56.6,363.08 L57.1,362.87 L57.6,362.65 L58.1,362.43 L58.6,362.2 L59.1,361.98 L59.6,361.75 L60.1,361.51 L60.6,361.27 L61.1,361.03 L61.6,360.79 L62.1,360.54 L62.6,360.28 L63.1,360.03 L63.6,359.77 L64.1,359.51 L64.6,359.24 L65.1,358.97 L65.6,358.7 L66.1,358.42 L66.6,358.14 L67.1,357.86 L67.6,357.58 L68.1,357.29 L68.6,356.99 L69.1,356.7 L69.6,356.4 L70.1,356.1 L70.6,355.8 L71.1,355.49 L71.6,355.18 L72.1,354.87 L72.6,354.55 L73.1,354.23 L73.6,353.91 L74.1,353.59 L74.6,353.26 L75.1,352.93 L75.6,352.6 L76.1,352.27 L76.6,351.93 L77.1,351.6 L77.6,351.26 L78.1,350.92 L78.6,350.57 L79.1,350.23 L79.6,349.88 L80.1,349.53 L80.6,349.18 L81.1,348.83 L81.6,348.48 L82.1,348.13 L82.6,347.77 L83.1,347.42 L83.6,347.06 L84.1,346.7 L84.6,346.35 L85.1,345.99 L85.6,345.63 L86.1,345.27 L86.6,344.91 L87.1,344.55 L87.6,344.19 L88.1,343.84 L88.6,343.48 L89.1,343.12 L89.6,342.76 L90.1,342.41 L90.6,342.05 L91.1,341.7 L91.6,341.35 L92.1,340.99 L92.6,340.64 L93.1,340.29 L93.6,339.95 L94.1,339.6 L94.6,339.26 L95.1,338.92 L95.6,338.58 L96.1,338.25 L96.6,337.91 L97.1,337.58 L97.6,337.25 L98.1,336.93 L98.6,336.61 L99.1,336.29 L99.6,335.97 L100.1,335.66 L100.6,335.36 L101.1,335.05 L101.6,334.75 L102.1,334.46 L102.6,334.17 L103.1,333.88 L103.6,333.6 L104.1,333.32 L104.6,333.05 L105.1,332.78 L105.6,332.52 L106.1,332.26 L106.6,332.01 L107.1,331.76 L107.6,331.52 L108.1,331.29 L108.6,331.06 L109.1,330.84 L109.6,330.62 L110.1,330.41 L110.6,330.2 L111.1,330.01 L111.6,329.81 L112.1,329.63 L112.6,329.45 L113.1,329.28 L113.6,329.11 L114.1,328.95 L114.6,328.8 L115.1,328.66 L115.6,328.52 L116.1,328.39 L116.6,328.27 L117.1,328.15 L117.6,328.05 L118.1,327.95 L118.6,327.85 L119.1,327.77 L119.6,327.69 L120.1,327.62 L120.6,327.56 L121.1,327.5 L121.6,327.46 L122.1,327.42 L122.6,327.39 L123.1,327.36 L123.6,327.35 L124.1,327.34 L124.6,327.34 L125.1,327.35 L125.6,327.36 L126.1,327.39 L126.6,327.42 L127.1,327.46 L127.6,327.51 L128.1,327.56 L128.6,327.62 L129.1,327.69 L129.6,327.77 L130.1,327.86 L130.6,327.95 L131.1,328.05 L131.6,328.16 L132.1,328.27 L132.6,328.4 L133.1,328.53 L133.6,328.66 L134.1,328.81 L134.6,328.96 L135.1,329.12 L135.6,329.28 L136.1,329.46 L136.6,329.64 L137.1,329.82 L137.6,330.01 L138.1,330.21 L138.6,330.42 L139.1,330.63 L139.6,330.85 L140.1,331.07 L140.6,331.3 L141.1,331.53 L141.6,331.77 L142.1,332.02 L142.6,332.27 L143.1,332.53 L143.6,332.79 L144.1,333.06 L144.6,333.33 L145.1,333.61 L145.6,333.89 L146.1,334.18 L146.6,334.47 L147.1,334.77 L147.6,335.07 L148.1,335.37 L148.6,335.68 L149.1,335.99 L149.6,336.3 L150.1,336.62 L150.6,336.94 L151.1,337.27 L151.6,337.59 L152.1,337.93 L152.6,338.26 L153.1,338.59 L153.6,338.93 L154.1,339.27 L154.6,339.62 L155.1,339.96 L155.6,340.31 L156.1,340.66 L156.6,341.01 L157.1,341.36 L157.6,341.71 L158.1,342.07 L158.6,342.42 L159.1,342.78 L159.6,343.13 L160.1,343.49 L160.6,343.85 L161.1,344.21 L161.6,344.57 L162.1,344.93 L162.6,345.29 L163.1,345.64 L163.6,346 L164.1,346.36 L164.6,346.72 L165.1,347.08 L165.6,347.43 L166.1,347.79 L166.6,348.14 L167.1,348.49 L167.6,348.85 L168.1,349.2 L168.6,349.55 L169.1,349.9 L169.6,350.24 L170.1,350.59 L170.6,350.93 L171.1,351.27 L171.6,351.61 L172.1,351.95 L172.6,352.28 L173.1,352.62 L173.6,352.95 L174.1,353.27 L174.6,353.6 L175.1,353.92 L175.6,354.24 L176.1,354.56 L176.6,354.88 L177.1,355.19 L177.6,355.5 L178.1,355.81 L178.6,356.11 L179.1,356.41 L179.6,356.71 L180.1,357.01 L180.6,357.3 L181.1,357.59 L181.6,357.87 L182.1,358.16 L182.6,358.43 L183.1,358.71 L183.6,358.98 L184.1,359.25 L184.6,359.52 L185.1,359.78 L185.6,360.04 L186.1,360.29 L186.6,360.55 L187.1,360.79 L187.6,361.04 L188.1,361.28 L188.6,361.52 L189.1,361.75 L189.6,361.99 L190.1,362.21 L190.6,362.44 L191.1,362.66 L191.6,362.88 L192.1,363.09 L192.6,363.3 L193.1,363.51 L193.6,363.71 L194.1,363.91 L194.6,364.11 L195.1,364.3 L195.6,364.49 L196.1,364.67 L196.6,364.86 L197.1,365.04 L197.6,365.21 L198.1,365.39 L198.6,365.56 L199.1,365.72 L199.6,365.89 L200.1,366.05 L200.6,366.2 L201.1,366.36 L201.6,366.51 L202.1,366.65 L202.6,366.8 L203.1,366.94 L203.6,367.08 L204.1,367.21 L204.6,367.35 L205.1,367.48 L205.6,367.6 L206.1,367.73 L206.6,367.85 L207.1,367.97 L207.6,368.08 L208.1,368.2 L208.6,368.31 L209.1,368.41 L209.6,368.52 L210.1,368.62 L210.6,368.72 L211.1,368.82 L211.6,368.92 L212.1,369.01 L212.6,369.1 L213.1,369.19 L213.6,369.28 L214.1,369.36 L214.6,369.44 L215.1,369.52 L215.6,369.6 L216.1,369.68 L216.6,369.75 L217.1,369.82 L217.6,369.89 L218.1,369.96 L218.6,370.03 L219.1,370.09 L219.6,370.15 L220.1,370.21 L220.6,370.27 L221.1,370.33 L221.6,370.39 L222.1,370.44 L222.6,370.49 L223.1,370.54 L223.6,370.59 L224.1,370.64 L224.6,370.69 L225.1,370.74 L225.6,370.78 L226.1,370.82 L226.6,370.86 L227.1,370.9 L227.6,370.94 L228.1,370.98 L228.6,371.02 L229.1,371.05 L229.6,371.09 L230.1,371.12 L230.6,371.15 L231.1,371.18 L231.6,371.21 L232.1,371.24 L232.6,371.27 L233.1,371.3 L233.6,371.32 L234.1,371.35 L234.6,371.37 L234.7,372 Z" fill="#ff8080"/><path d="M17.1,371.21 L17.6,371.18 L18.1,371.15 L18.6,371.12 L19.1,371.09 L19.6,371.05 L20.1,371.02 L20.6,370.98 L21.1,370.94 L21.6,370.9 L22.1,370.86 L22.6,370.82 L23.1,370.78 L23.6,370.73 L24.1,370.69 L24.6,370.64 L25.1,370.59 L25.6,370.54 L26.1,370.49 L26.6,370.44 L27.1,370.38 L27.6,370.33 L28.1,370.27 L28.6,370.21 L29.1,370.15 L29.6,370.09 L30.1,370.02 L30.6,369.96 L31.1,369.89 L31.6,369.82 L32.1,369.75 L32.6,369.67 L33.1,369.6 L33.6,369.52 L34.1,369.44 L34.6,369.36 L35.1,369.27 L35.6,369.19 L36.1,369.1 L36.6,369.01 L37.1,368.91 L37.6,368.82 L38.1,368.72 L38.6,368.62 L39.1,368.52 L39.6,368.41 L40.1,368.3 L40.6,368.19 L41.1,368.08 L41.6,367.96 L42.1,367.84 L42.6,367.72 L43.1,367.6 L43.6,367.47 L44.1,367.34 L44.6,367.21 L45.1,367.07 L45.6,366.93 L46.1,366.79 L46.6,366.65 L47.1,366.5 L47.6,366.35 L48.1,366.2 L48.6,366.04 L49.1,365.88 L49.6,365.72 L50.1,365.55 L50.6,365.38 L51.1,365.21 L51.6,365.03 L52.1,364.85 L52.6,364.67 L53.1,364.48 L53.6,364.29 L54.1,364.1 L54.6,363.9 L55.1,363.7 L55.6,363.5 L56.1,363.29 L56.6,363.08 L57.1,362.87 L57.6,362.65 L58.1,362.43 L58.6,362.2 L59.1,361.98 L59.6,361.75 L60.1,361.51 L60.6,361.27 L61.1,361.03 L61.6,360.79 L62.1,360.54 L62.6,360.28 L63.1,360.03 L63.6,359.77 L64.1,359.51 L64.6,359.24 L65.1,358.97 L65.6,358.7 L66.1,358.42 L66.6,358.14 L67.1,357.86 L67.6,357.58 L68.1,357.29 L68.6,356.99 L69.1,356.7 L69.6,356.4 L70.1,356.1 L70.6,355.8 L71.1,355.49 L71.6,355.18 L72.1,354.87 L72.6,354.55 L73.1,354.23 L73.6,353.91 L74.1,353.59 L74.6,353.26 L75.1,352.93 L75.6,352.6 L76.1,352.27 L76.6,351.93 L77.1,351.6 L77.6,351.26 L78.1,350.92 L78.6,350.57 L79.1,350.23 L79.6,349.88 L80.1,349.53 L80.6,349.18 L81.1,348.83 L81.6,348.48 L82.1,348.13 L82.6,347.77 L83.1,347.42 L83.6,347.06 L84.1,346.7 L84.6,346.35 L85.1,345.99 L85.6,345.63 L86.1,345.27 L86.6,344.91 L87.1,344.55 L87.6,344.19 L88.1,343.84 L88.6,343.48 L89.1,343.12 L89.6,342.76 L90.1,342.41 L90.6,342.05 L91.1,341.7 L91.6,341.35 L92.1,340.99 L92.6,340.64 L93.1,340.29 L93.6,339.95 L94.1,339.6 L94.6,339.26 L95.1,338.92 L95.6,338.58 L96.1,338.25 L96.6,337.91 L97.1,337.58 L97.6,337.25 L98.1,336.93 L98.6,336.61 L99.1,336.29 L99.6,335.97 L100.1,335.66 L100.6,335.36 L101.1,335.05 L101.6,334.75 L102.1,334.46 L102.6,334.17 L103.1,333.88 L103.6,333.6 L104.1,333.32 L104.6,333.05 L105.1,332.78 L105.6,332.52 L106.1,332.26 L106.6,332.01 L107.1,331.76 L107.6,331.52 L108.1,331.29 L108.6,331.06 L109.1,330.84 L109.6,330.62 L110.1,330.41 L110.6,330.2 L111.1,330.01 L111.6,329.81 L112.1,329.63 L112.6,329.45 L113.1,329.28 L113.6,329.11 L114.1,328.95 L114.6,328.8 L115.1,328.66 L115.6,328.52 L116.1,328.39 L116.6,328.27 L117.1,328.15 L117.6,328.05 L118.1,327.95 L118.6,327.85 L119.1,327.77 L119.6,327.69 L120.1,327.62 L120.6,327.56 L121.1,327.5 L121.6,327.46 L122.1,327.42 L122.6,327.39 L123.1,327.36 L123.6,327.35 L124.1,327.34 L124.6,327.34 L125.1,327.35 L125.6,327.36 L126.1,327.39 L126.6,327.42 L127.1,327.46 L127.6,327.51 L128.1,327.56 L128.6,327.62 L129.1,327.69 L129.6,327.77 L130.1,327.86 L130.6,327.95 L131.1,328.05 L131.6,328.16 L132.1,328.27 L132.6,328.4 L133.1,328.53 L133.6,328.66 L134.1,328.81 L134.6,328.96 L135.1,329.12 L135.6,329.28 L136.1,329.46 L136.6,329.64 L137.1,329.82 L137.6,330.01 L138.1,330.21 L138.6,330.42 L139.1,330.63 L139.6,330.85 L140.1,331.07 L140.6,331.3 L141.1,331.53 L141.6,331.77 L142.1,332.02 L142.6,332.27 L143.1,332.53 L143.6,332.79 L144.1,333.06 L144.6,333.33 L145.1,333.61 L145.6,333.89 L146.1,334.18 L146.6,334.47 L147.1,334.77 L147.6,335.07 L148.1,335.37 L148.6,335.68 L149.1,335.99 L149.6,336.3 L150.1,336.62 L150.6,336.94 L151.1,337.27 L151.6,337.59 L152.1,337.93 L152.6,338.26 L153.1,338.59 L153.6,338.93 L154.1,339.27 L154.6,339.62 L155.1,339.96 L155.6,340.31 L156.1,340.66 L156.6,341.01 L157.1,341.36 L157.6,341.71 L158.1,342.07 L158.6,342.42 L159.1,342.78 L159.6,343.13 L160.1,343.49 L160.6,343.85 L161.1,344.21 L161.6,344.57 L162.1,344.93 L162.6,345.29 L163.1,345.64 L163.6,346 L164.1,346.36 L164.6,346.72 L165.1,347.08 L165.6,347.43 L166.1,347.79 L166.6,348.14 L167.1,348.49 L167.6,348.85 L168.1,349.2 L168.6,349.55 L169.1,349.9 L169.6,350.24 L170.1,350.59 L170.6,350.93 L171.1,351.27 L171.6,351.61 L172.1,351.95 L172.6,352.28 L173.1,352.62 L173.6,352.95 L174.1,353.27 L174.6,353.6 L175.1,353.92 L175.6,354.24 L176.1,354.56 L176.6,354.88 L177.1,355.19 L177.6,355.5 L178.1,355.81 L178.6,356.11 L179.1,356.41 L179.6,356.71 L180.1,357.01 L180.6,357.3 L181.1,357.59 L181.6,357.87 L182.1,358.16 L182.6,358.43 L183.1,358.71 L183.6,358.98 L184.1,359.25 L184.6,359.52 L185.1,359.78 L185.6,360.04 L186.1,360.29 L186.6,360.55 L187.1,360.79 L187.6,361.04 L188.1,361.28 L188.6,361.52 L189.1,361.75 L189.6,361.99 L190.1,362.21 L190.6,362.44 L191.1,362.66 L191.6,362.88 L192.1,363.09 L192.6,363.3 L193.1,363.51 L193.6,363.71 L194.1,363.91 L194.6,364.11 L195.1,364.3 L195.6,364.49 L196.1,364.67 L196.6,364.86 L197.1,365.04 L197.6,365.21 L198.1,365.39 L198.6,365.56 L199.1,365.72 L199.6,365.89 L200.1,366.05 L200.6,366.2 L201.1,366.36 L201.6,366.51 L202.1,366.65 L202.6,366.8 L203.1,366.94 L203.6,367.08 L204.1,367.21 L204.6,367.35 L205.1,367.48 L205.6,367.6 L206.1,367.73 L206.6,367.85 L207.1,367.97 L207.6,368.08 L208.1,368.2 L208.6,368.31 L209.1,368.41 L209.6,368.52 L210.1,368.62 L210.6,368.72 L211.1,368.82 L211.6,368.92 L212.1,369.01 L212.6,369.1 L213.1,369.19 L213.6,369.28 L214.1,369.36 L214.6,369.44 L215.1,369.52 L215.6,369.6 L216.1,369.68 L216.6,369.75 L217.1,369.82 L217.6,369.89 L218.1,369.96 L218.6,370.03 L219.1,370.09 L219.6,370.15 L220.1,370.21 L220.6,370.27 L221.1,370.33 L221.6,370.39 L222.1,370.44 L222.6,370.49 L223.1,370.54 L223.6,370.59 L224.1,370.64 L224.6,370.69 L225.1,370.74 L225.6,370.78 L226.1,370.82 L226.6,370.86 L227.1,370.9 L227.6,370.94 L228.1,370.98 L228.6,371.02 L229.1,371.05 L229.6,371.09 L230.1,371.12 L230.6,371.15 L231.1,371.18 L231.6,371.21 L232.1,371.24 L232.6,371.27 L233.1,371.3 L233.6,371.32 L234.1,371.35 L234.6,371.37" fill="none" stroke="#c8283a" stroke-width="0.6"/><path d="M60,372 L60,372 L60.25,372 L60.5,372 L60.75,372 L61,372 L61.25,372 L61.5,372 L61.75,372 L62,372 L62.25,372 L62.5,372 L62.75,372 L63,372 L63.25,372 L63.5,372 L63.75,372 L64,372 L64.25,372 L64.5,372 L64.75,372 L65,372 L65.25,372 L65.5,372 L65.75,372 L66,372 L66.25,372 L66.5,372 L66.75,372 L67,372 L67.25,372 L67.5,372 L67.75,372 L68,372 L68.25,372 L68.5,372 L68.75,372 L69,372 L69.25,372 L69.5,372 L69.75,372 L70,372 L70.25,372 L70.5,372 L70.75,372 L71,372 L71.25,372 L71.5,372 L71.75,372 L72,371.99 L72.25,371.99 L72.5,371.99 L72.75,371.99 L73,371.98 L73.25,371.97 L73.5,371.97 L73.75,371.96 L74,371.94 L74.25,371.93 L74.5,371.91 L74.75,371.89 L75,371.87 L75.25,371.85 L75.5,371.82 L75.75,371.8 L76,371.77 L76.25,371.74 L76.5,371.71 L76.75,371.68 L77,371.66 L77.25,371.64 L77.5,371.62 L77.75,371.61 L78,371.6 L78.25,371.6 L78.5,371.6 L78.75,371.61 L79,371.63 L79.25,371.65 L79.5,371.67 L79.75,371.69 L80,371.71 L80.25,371.74 L80.5,371.76 L80.75,371.78 L81,371.79 L81.25,371.79 L81.5,371.79 L81.75,371.78 L82,371.76 L82.25,371.73 L82.5,371.68 L82.75,371.62 L83,371.54 L83.25,371.45 L83.5,371.35 L83.75,371.23 L84,371.1 L84.25,370.96 L84.5,370.81 L84.75,370.66 L85,370.51 L85.25,370.37 L85.5,370.24 L85.75,370.12 L86,370.03 L86.25,369.96 L86.5,369.91 L86.75,369.9 L87,369.91 L87.25,369.95 L87.5,370.02 L87.75,370.12 L88,370.23 L88.25,370.35 L88.5,370.48 L88.75,370.62 L89,370.75 L89.25,370.87 L89.5,370.98 L89.75,371.06 L90,371.12 L90.25,371.15 L90.5,371.14 L90.75,371.09 L91,370.99 L91.25,370.86 L91.5,370.67 L91.75,370.44 L92,370.16 L92.25,369.84 L92.5,369.47 L92.75,369.08 L93,368.66 L93.25,368.23 L93.5,367.8 L93.75,367.38 L94,366.99 L94.25,366.64 L94.5,366.34 L94.75,366.12 L95,365.97 L95.25,365.9 L95.5,365.92 L95.75,366.02 L96,366.2 L96.25,366.45 L96.5,366.77 L96.75,367.13 L97,367.52 L97.25,367.92 L97.5,368.33 L97.75,368.72 L98,369.07 L98.25,369.39 L98.5,369.64 L98.75,369.82 L99,369.93 L99.25,369.95 L99.5,369.88 L99.75,369.71 L100,369.44 L100.25,369.07 L100.5,368.61 L100.75,368.06 L101,367.42 L101.25,366.71 L101.5,365.95 L101.75,365.16 L102,364.36 L102.25,363.57 L102.5,362.82 L102.75,362.15 L103,361.57 L103.25,361.11 L103.5,360.79 L103.75,360.62 L104,360.61 L104.25,360.76 L104.5,361.06 L104.75,361.5 L105,362.06 L105.25,362.72 L105.5,363.45 L105.75,364.22 L106,365.01 L106.25,365.78 L106.5,366.51 L106.75,367.17 L107,367.76 L107.25,368.24 L107.5,368.61 L107.75,368.86 L108,368.98 L108.25,368.96 L108.5,368.81 L108.75,368.53 L109,368.12 L109.25,367.58 L109.5,366.94 L109.75,366.2 L110,365.39 L110.25,364.53 L110.5,363.64 L110.75,362.76 L111,361.91 L111.25,361.13 L111.5,360.45 L111.75,359.9 L112,359.5 L112.25,359.26 L112.5,359.2 L112.75,359.31 L113,359.61 L113.25,360.06 L113.5,360.65 L113.75,361.36 L114,362.16 L114.25,363.02 L114.5,363.89 L114.75,364.76 L115,365.59 L115.25,366.36 L115.5,367.03 L115.75,367.6 L116,368.04 L116.25,368.34 L116.5,368.49 L116.75,368.49 L117,368.34 L117.25,368.02 L117.5,367.56 L117.75,366.95 L118,366.2 L118.25,365.34 L118.5,364.39 L118.75,363.37 L119,362.31 L119.25,361.25 L119.5,360.22 L119.75,359.26 L120,358.41 L120.25,357.71 L120.5,357.17 L120.75,356.83 L121,356.69 L121.25,356.78 L121.5,357.07 L121.75,357.56 L122,358.22 L122.25,359.04 L122.5,359.97 L122.75,360.97 L123,362.02 L123.25,363.07 L123.5,364.08 L123.75,365.02 L124,365.87 L124.25,366.59 L124.5,367.17 L124.75,367.58 L125,367.83 L125.25,367.9 L125.5,367.78 L125.75,367.48 L126,367 L126.25,366.34 L126.5,365.53 L126.75,364.58 L127,363.51 L127.25,362.35 L127.5,361.13 L127.75,359.9 L128,358.7 L128.25,357.56 L128.5,356.54 L128.75,355.67 L129,355 L129.25,354.54 L129.5,354.31 L129.75,354.34 L130,354.61 L130.25,355.12 L130.5,355.84 L130.75,356.74 L131,357.79 L131.25,358.94 L131.5,360.16 L131.75,361.39 L132,362.61 L132.25,363.76 L132.5,364.82 L132.75,365.77 L133,366.57 L133.25,367.22 L133.5,367.7 L133.75,368 L134,368.14 L134.25,368.09 L134.5,367.88 L134.75,367.51 L135,367 L135.25,366.35 L135.5,365.6 L135.75,364.76 L136,363.86 L136.25,362.93 L136.5,362.01 L136.75,361.13 L137,360.32 L137.25,359.62 L137.5,359.06 L137.75,358.66 L138,358.44 L138.25,358.4 L138.5,358.56 L138.75,358.9 L139,359.41 L139.25,360.07 L139.5,360.84 L139.75,361.71 L140,362.63 L140.25,363.58 L140.5,364.52 L140.75,365.42 L141,366.26 L141.25,367.01 L141.5,367.65 L141.75,368.18 L142,368.58 L142.25,368.84 L142.5,368.97 L142.75,368.96 L143,368.82 L143.25,368.56 L143.5,368.17 L143.75,367.68 L144,367.1 L144.25,366.45 L144.5,365.74 L144.75,365.01 L145,364.27 L145.25,363.56 L145.5,362.9 L145.75,362.32 L146,361.84 L146.25,361.48 L146.5,361.26 L146.75,361.19 L147,361.28 L147.25,361.51 L147.5,361.87 L147.75,362.36 L148,362.95 L148.25,363.62 L148.5,364.34 L148.75,365.08 L149,365.82 L149.25,366.53 L149.5,367.19 L149.75,367.78 L150,368.28 L150.25,368.69 L150.5,368.98 L150.75,369.15 L151,369.2 L151.25,369.12 L151.5,368.92 L151.75,368.59 L152,368.15 L152.25,367.61 L152.5,366.97 L152.75,366.25 L153,365.48 L153.25,364.68 L153.5,363.87 L153.75,363.08 L154,362.34 L154.25,361.68 L154.5,361.13 L154.75,360.7 L155,360.42 L155.25,360.3 L155.5,360.34 L155.75,360.55 L156,360.91 L156.25,361.41 L156.5,362.02 L156.75,362.73 L157,363.51 L157.25,364.32 L157.5,365.14 L157.75,365.95 L158,366.72 L158.25,367.43 L158.5,368.07 L158.75,368.62 L159,369.07 L159.25,369.42 L159.5,369.67 L159.75,369.82 L160,369.87 L160.25,369.83 L160.5,369.7 L160.75,369.48 L161,369.2 L161.25,368.86 L161.5,368.48 L161.75,368.07 L162,367.64 L162.25,367.21 L162.5,366.81 L162.75,366.44 L163,366.12 L163.25,365.87 L163.5,365.7 L163.75,365.61 L164,365.61 L164.25,365.7 L164.5,365.87 L164.75,366.12 L165,366.44 L165.25,366.82 L165.5,367.23 L165.75,367.68 L166,368.13 L166.25,368.58 L166.5,369.01 L166.75,369.41 L167,369.78 L167.25,370.1 L167.5,370.37 L167.75,370.59 L168,370.76 L168.25,370.87 L168.5,370.94 L168.75,370.95 L169,370.92 L169.25,370.85 L169.5,370.74 L169.75,370.6 L170,370.44 L170.25,370.26 L170.5,370.07 L170.75,369.88 L171,369.69 L171.25,369.52 L171.5,369.37 L171.75,369.25 L172,369.16 L172.25,369.11 L172.5,369.1 L172.75,369.13 L173,369.2 L173.25,369.3 L173.5,369.44 L173.75,369.6 L174,369.79 L174.25,369.99 L174.5,370.19 L174.75,370.4 L175,370.6 L175.25,370.79 L175.5,370.96 L175.75,371.12 L176,371.26 L176.25,371.38 L176.5,371.47 L176.75,371.54 L177,371.59 L177.25,371.63 L177.5,371.64 L177.75,371.64 L178,371.63 L178.25,371.6 L178.5,371.56 L178.75,371.52 L179,371.47 L179.25,371.42 L179.5,371.37 L179.75,371.33 L180,371.28 L180.25,371.25 L180.5,371.22 L180.75,371.21 L181,371.2 L181.25,371.2 L181.5,371.22 L181.75,371.25 L182,371.28 L182.25,371.33 L182.5,371.38 L182.75,371.43 L183,371.49 L183.25,371.54 L183.5,371.6 L183.75,371.66 L184,371.71 L184.25,371.75 L184.5,371.8 L184.75,371.83 L185,371.87 L185.25,371.89 L185.5,371.92 L185.75,371.94 L186,371.95 L186.25,371.96 L186.5,371.97 L186.75,371.98 L187,371.99 L187.25,371.99 L187.5,371.99 L187.75,372 L188,372 L188.25,372 L188.5,372 L188.75,372 L189,372 L189.25,372 L189.5,372 L189.75,372 L190,372 L190.25,372 L190.5,372 L190.75,372 L191,372 L191.25,372 L191.5,372 L191.75,372 L192,372 L192.25,372 L192.5,372 L192.75,372 L193,372 L193.25,372 L193.5,372 L193.75,372 L194,372 L194.25,372 L194.5,372 L194.75,372 L195,372 L195,372 Z" fill="#7fc9ea"/><path d="M60,372 L60.25,372 L60.5,372 L60.75,372 L61,372 L61.25,372 L61.5,372 L61.75,372 L62,372 L62.25,372 L62.5,372 L62.75,372 L63,372 L63.25,372 L63.5,372 L63.75,372 L64,372 L64.25,372 L64.5,372 L64.75,372 L65,372 L65.25,372 L65.5,372 L65.75,372 L66,372 L66.25,372 L66.5,372 L66.75,372 L67,372 L67.25,372 L67.5,372 L67.75,372 L68,372 L68.25,372 L68.5,372 L68.75,372 L69,372 L69.25,372 L69.5,372 L69.75,372 L70,372 L70.25,372 L70.5,372 L70.75,372 L71,372 L71.25,372 L71.5,372 L71.75,372 L72,371.99 L72.25,371.99 L72.5,371.99 L72.75,371.99 L73,371.98 L73.25,371.97 L73.5,371.97 L73.75,371.96 L74,371.94 L74.25,371.93 L74.5,371.91 L74.75,371.89 L75,371.87 L75.25,371.85 L75.5,371.82 L75.75,371.8 L76,371.77 L76.25,371.74 L76.5,371.71 L76.75,371.68 L77,371.66 L77.25,371.64 L77.5,371.62 L77.75,371.61 L78,371.6 L78.25,371.6 L78.5,371.6 L78.75,371.61 L79,371.63 L79.25,371.65 L79.5,371.67 L79.75,371.69 L80,371.71 L80.25,371.74 L80.5,371.76 L80.75,371.78 L81,371.79 L81.25,371.79 L81.5,371.79 L81.75,371.78 L82,371.76 L82.25,371.73 L82.5,371.68 L82.75,371.62 L83,371.54 L83.25,371.45 L83.5,371.35 L83.75,371.23 L84,371.1 L84.25,370.96 L84.5,370.81 L84.75,370.66 L85,370.51 L85.25,370.37 L85.5,370.24 L85.75,370.12 L86,370.03 L86.25,369.96 L86.5,369.91 L86.75,369.9 L87,369.91 L87.25,369.95 L87.5,370.02 L87.75,370.12 L88,370.23 L88.25,370.35 L88.5,370.48 L88.75,370.62 L89,370.75 L89.25,370.87 L89.5,370.98 L89.75,371.06 L90,371.12 L90.25,371.15 L90.5,371.14 L90.75,371.09 L91,370.99 L91.25,370.86 L91.5,370.67 L91.75,370.44 L92,370.16 L92.25,369.84 L92.5,369.47 L92.75,369.08 L93,368.66 L93.25,368.23 L93.5,367.8 L93.75,367.38 L94,366.99 L94.25,366.64 L94.5,366.34 L94.75,366.12 L95,365.97 L95.25,365.9 L95.5,365.92 L95.75,366.02 L96,366.2 L96.25,366.45 L96.5,366.77 L96.75,367.13 L97,367.52 L97.25,367.92 L97.5,368.33 L97.75,368.72 L98,369.07 L98.25,369.39 L98.5,369.64 L98.75,369.82 L99,369.93 L99.25,369.95 L99.5,369.88 L99.75,369.71 L100,369.44 L100.25,369.07 L100.5,368.61 L100.75,368.06 L101,367.42 L101.25,366.71 L101.5,365.95 L101.75,365.16 L102,364.36 L102.25,363.57 L102.5,362.82 L102.75,362.15 L103,361.57 L103.25,361.11 L103.5,360.79 L103.75,360.62 L104,360.61 L104.25,360.76 L104.5,361.06 L104.75,361.5 L105,362.06 L105.25,362.72 L105.5,363.45 L105.75,364.22 L106,365.01 L106.25,365.78 L106.5,366.51 L106.75,367.17 L107,367.76 L107.25,368.24 L107.5,368.61 L107.75,368.86 L108,368.98 L108.25,368.96 L108.5,368.81 L108.75,368.53 L109,368.12 L109.25,367.58 L109.5,366.94 L109.75,366.2 L110,365.39 L110.25,364.53 L110.5,363.64 L110.75,362.76 L111,361.91 L111.25,361.13 L111.5,360.45 L111.75,359.9 L112,359.5 L112.25,359.26 L112.5,359.2 L112.75,359.31 L113,359.61 L113.25,360.06 L113.5,360.65 L113.75,361.36 L114,362.16 L114.25,363.02 L114.5,363.89 L114.75,364.76 L115,365.59 L115.25,366.36 L115.5,367.03 L115.75,367.6 L116,368.04 L116.25,368.34 L116.5,368.49 L116.75,368.49 L117,368.34 L117.25,368.02 L117.5,367.56 L117.75,366.95 L118,366.2 L118.25,365.34 L118.5,364.39 L118.75,363.37 L119,362.31 L119.25,361.25 L119.5,360.22 L119.75,359.26 L120,358.41 L120.25,357.71 L120.5,357.17 L120.75,356.83 L121,356.69 L121.25,356.78 L121.5,357.07 L121.75,357.56 L122,358.22 L122.25,359.04 L122.5,359.97 L122.75,360.97 L123,362.02 L123.25,363.07 L123.5,364.08 L123.75,365.02 L124,365.87 L124.25,366.59 L124.5,367.17 L124.75,367.58 L125,367.83 L125.25,367.9 L125.5,367.78 L125.75,367.48 L126,367 L126.25,366.34 L126.5,365.53 L126.75,364.58 L127,363.51 L127.25,362.35 L127.5,361.13 L127.75,359.9 L128,358.7 L128.25,357.56 L128.5,356.54 L128.75,355.67 L129,355 L129.25,354.54 L129.5,354.31 L129.75,354.34 L130,354.61 L130.25,355.12 L130.5,355.84 L130.75,356.74 L131,357.79 L131.25,358.94 L131.5,360.16 L131.75,361.39 L132,362.61 L132.25,363.76 L132.5,364.82 L132.75,365.77 L133,366.57 L133.25,367.22 L133.5,367.7 L133.75,368 L134,368.14 L134.25,368.09 L134.5,367.88 L134.75,367.51 L135,367 L135.25,366.35 L135.5,365.6 L135.75,364.76 L136,363.86 L136.25,362.93 L136.5,362.01 L136.75,361.13 L137,360.32 L137.25,359.62 L137.5,359.06 L137.75,358.66 L138,358.44 L138.25,358.4 L138.5,358.56 L138.75,358.9 L139,359.41 L139.25,360.07 L139.5,360.84 L139.75,361.71 L140,362.63 L140.25,363.58 L140.5,364.52 L140.75,365.42 L141,366.26 L141.25,367.01 L141.5,367.65 L141.75,368.18 L142,368.58 L142.25,368.84 L142.5,368.97 L142.75,368.96 L143,368.82 L143.25,368.56 L143.5,368.17 L143.75,367.68 L144,367.1 L144.25,366.45 L144.5,365.74 L144.75,365.01 L145,364.27 L145.25,363.56 L145.5,362.9 L145.75,362.32 L146,361.84 L146.25,361.48 L146.5,361.26 L146.75,361.19 L147,361.28 L147.25,361.51 L147.5,361.87 L147.75,362.36 L148,362.95 L148.25,363.62 L148.5,364.34 L148.75,365.08 L149,365.82 L149.25,366.53 L149.5,367.19 L149.75,367.78 L150,368.28 L150.25,368.69 L150.5,368.98 L150.75,369.15 L151,369.2 L151.25,369.12 L151.5,368.92 L151.75,368.59 L152,368.15 L152.25,367.61 L152.5,366.97 L152.75,366.25 L153,365.48 L153.25,364.68 L153.5,363.87 L153.75,363.08 L154,362.34 L154.25,361.68 L154.5,361.13 L154.75,360.7 L155,360.42 L155.25,360.3 L155.5,360.34 L155.75,360.55 L156,360.91 L156.25,361.41 L156.5,362.02 L156.75,362.73 L157,363.51 L157.25,364.32 L157.5,365.14 L157.75,365.95 L158,366.72 L158.25,367.43 L158.5,368.07 L158.75,368.62 L159,369.07 L159.25,369.42 L159.5,369.67 L159.75,369.82 L160,369.87 L160.25,369.83 L160.5,369.7 L160.75,369.48 L161,369.2 L161.25,368.86 L161.5,368.48 L161.75,368.07 L162,367.64 L162.25,367.21 L162.5,366.81 L162.75,366.44 L163,366.12 L163.25,365.87 L163.5,365.7 L163.75,365.61 L164,365.61 L164.25,365.7 L164.5,365.87 L164.75,366.12 L165,366.44 L165.25,366.82 L165.5,367.23 L165.75,367.68 L166,368.13 L166.25,368.58 L166.5,369.01 L166.75,369.41 L167,369.78 L167.25,370.1 L167.5,370.37 L167.75,370.59 L168,370.76 L168.25,370.87 L168.5,370.94 L168.75,370.95 L169,370.92 L169.25,370.85 L169.5,370.74 L169.75,370.6 L170,370.44 L170.25,370.26 L170.5,370.07 L170.75,369.88 L171,369.69 L171.25,369.52 L171.5,369.37 L171.75,369.25 L172,369.16 L172.25,369.11 L172.5,369.1 L172.75,369.13 L173,369.2 L173.25,369.3 L173.5,369.44 L173.75,369.6 L174,369.79 L174.25,369.99 L174.5,370.19 L174.75,370.4 L175,370.6 L175.25,370.79 L175.5,370.96 L175.75,371.12 L176,371.26 L176.25,371.38 L176.5,371.47 L176.75,371.54 L177,371.59 L177.25,371.63 L177.5,371.64 L177.75,371.64 L178,371.63 L178.25,371.6 L178.5,371.56 L178.75,371.52 L179,371.47 L179.25,371.42 L179.5,371.37 L179.75,371.33 L180,371.28 L180.25,371.25 L180.5,371.22 L180.75,371.21 L181,371.2 L181.25,371.2 L181.5,371.22 L181.75,371.25 L182,371.28 L182.25,371.33 L182.5,371.38 L182.75,371.43 L183,371.49 L183.25,371.54 L183.5,371.6 L183.75,371.66 L184,371.71 L184.25,371.75 L184.5,371.8 L184.75,371.83 L185,371.87 L185.25,371.89 L185.5,371.92 L185.75,371.94 L186,371.95 L186.25,371.96 L186.5,371.97 L186.75,371.98 L187,371.99 L187.25,371.99 L187.5,371.99 L187.75,372 L188,372 L188.25,372 L188.5,372 L188.75,372 L189,372 L189.25,372 L189.5,372 L189.75,372 L190,372 L190.25,372 L190.5,372 L190.75,372 L191,372 L191.25,372 L191.5,372 L191.75,372 L192,372 L192.25,372 L192.5,372 L192.75,372 L193,372 L193.25,372 L193.5,372 L193.75,372 L194,372 L194.25,372 L194.5,372 L194.75,372 L195,372" fill="none" stroke="#2e5b78" stroke-width="0.6"/><path d="M17.1,372H234.7" stroke="#2e5b78" stroke-width="0.7"/>
<path d="M18,348.3 L19.91,348.96 L21.04,344.7 L22.69,345.51 L24.29,343.56 L25.72,346.77 L27.67,345.43 L29.12,348.22 L30.19,345.21 L31.59,346.53 L33.14,346.46 L34.48,346.39 L36.43,342.91 L38.29,342.93 L40.15,342.81 L41.52,344.68 L42.72,344 L44.18,340.75 L46.06,341.66 L47.43,339.08 L48.9,342.17 L50.6,339.06 L51.94,335.7 L53.81,340.72 L55.14,339.17 L56.64,336.77 L58.22,333.34 L59.73,336.33 L60.85,332.99 L62.71,332.37 L63.82,329.14 L65.07,328.65 L66.59,326.92 L67.83,328.93 L69.53,327.01 L70.73,328.3 L72.64,326.01 L73.71,329.85 L74.9,325.57 L76.3,321.92 L77.48,319.49 L79.09,319.3 L80.44,321.75 L82.18,318.52 L83.91,317.99 L85.39,315.11 L86.72,315.96 L88.56,312.76 L89.96,312.82 L91.87,312.41 L93.3,306.27 L94.48,302.06 L95.67,301.68 L97.18,299.88 L99.13,300.01 L100.4,299.75 L102.17,291.98 L103.6,293.32 L104.69,292.74 L106.39,297.43 L107.6,294.11 L109.12,291.86 L110.75,285.72 L112.66,287.03 L114.17,289 L115.6,295.24 L116.73,297.72 L118.25,293.87 L119.56,287.58 L120.63,288.97 L121.95,287.41 L123.02,295.87 L124.51,299.8 L125.62,297.47 L127.51,290.51 L128.74,288.14 L130.2,288.71 L131.36,294.62 L133.18,299.17 L134.85,298.86 L136.6,295.61 L137.97,289.26 L139.27,295.52 L141.17,300.12 L142.98,303.67 L144.47,301.18 L146.13,294.45 L147.91,301.16 L149.86,307.14 L150.97,310.59 L152.91,303.07 L154.23,301.02 L155.89,297.65 L157.04,305.69 L158.77,313.76 L160.47,309.54 L161.93,307.19 L163.88,299.64 L165.06,307.8 L166.64,312.56 L168.15,320.82 L169.84,314.41 L171.32,316.14 L173.04,316.91 L174.86,323.14 L176.27,322.34 L177.89,321.93 L179.58,323.98 L181.36,325.66 L183.07,327.78 L184.92,332.41 L186.66,328.94 L188.23,329.52 L189.41,329.66 L190.69,331.03 L191.92,327.89 L192.97,334.43 L194.62,329.76 L196.27,336.61 L197.78,335.06 L199.51,335.06 L201.26,336.3 L203.02,340.91 L204.22,338.5 L205.53,338.49 L207.45,338.71 L208.85,343.74 L210.17,342.06 L211.71,345.6 L213.5,341.63 L215.27,342.47 L217.07,339.85 L218.47,339.84 L220.24,338.37 L221.5,342.35 L222.8,341.68 L224.59,343.09 L225.93,339.97 L227.13,344.23 L228.98,344.95 L230.61,348.61 L231.75,348.9 L233.41,349.3 L235.17,346.12 L236.79,347.59 L237.5,346.7" fill="none" stroke="#2a2a2a" stroke-width="0.8" stroke-linejoin="round"/>
<path d="M14.4,392.1H234.54" stroke="#555" stroke-width="0.8" fill="none"/>
<path d="M14.4,392.1v4" stroke="#555" stroke-width="0.8"/>
<text x="14.4" y="407.8" text-anchor="middle" font-size="10">12,000</text>
<path d="M38.86,392.1v2.6" stroke="#555" stroke-width="0.8"/>
<path d="M63.32,392.1v4" stroke="#555" stroke-width="0.8"/>
<text x="63.32" y="407.8" text-anchor="middle" font-size="10">8,000</text>
<path d="M87.78,392.1v2.6" stroke="#555" stroke-width="0.8"/>
<path d="M112.24,392.1v4" stroke="#555" stroke-width="0.8"/>
<text x="112.24" y="407.8" text-anchor="middle" font-size="10">4,000</text>
<path d="M136.7,392.1v2.6" stroke="#555" stroke-width="0.8"/>
<path d="M161.16,392.1v4" stroke="#555" stroke-width="0.8"/>
<text x="161.16" y="407.8" text-anchor="middle" font-size="10">0</text>
<path d="M185.62,392.1v2.6" stroke="#555" stroke-width="0.8"/>
<path d="M210.08,392.1v4" stroke="#555" stroke-width="0.8"/>
<text x="210.08" y="407.8" text-anchor="middle" font-size="10">–4,000</text>
<path d="M234.54,392.1v2.6" stroke="#555" stroke-width="0.8"/>
<text x="124.5" y="427.7" text-anchor="middle" font-size="11">δ<tspan font-size="7.5" dy="2.5">cg</tspan><tspan dy="-2.5"> (</tspan><tspan font-size="7" dy="-4">17</tspan><tspan dy="4">O (ppm))</tspan></text>
<path d="M276.8,163.9 L276.8,163.9 L277.3,163.9 L277.8,163.9 L278.3,163.9 L278.8,163.9 L279.3,163.9 L279.8,163.89 L280.3,163.89 L280.8,163.89 L281.3,163.89 L281.8,163.89 L282.3,163.89 L282.8,163.89 L283.3,163.89 L283.8,163.89 L284.3,163.89 L284.8,163.89 L285.3,163.89 L285.8,163.89 L286.3,163.89 L286.8,163.88 L287.3,163.88 L287.8,163.88 L288.3,163.88 L288.8,163.88 L289.3,163.88 L289.8,163.88 L290.3,163.87 L290.8,163.87 L291.3,163.87 L291.8,163.87 L292.3,163.86 L292.8,163.86 L293.3,163.86 L293.8,163.85 L294.3,163.85 L294.8,163.85 L295.3,163.84 L295.8,163.84 L296.3,163.84 L296.8,163.83 L297.3,163.83 L297.8,163.82 L298.3,163.81 L298.8,163.81 L299.3,163.8 L299.8,163.79 L300.3,163.79 L300.8,163.78 L301.3,163.77 L301.8,163.76 L302.3,163.75 L302.8,163.74 L303.3,163.73 L303.8,163.72 L304.3,163.71 L304.8,163.69 L305.3,163.68 L305.8,163.67 L306.3,163.65 L306.8,163.63 L307.3,163.62 L307.8,163.6 L308.3,163.58 L308.8,163.56 L309.3,163.54 L309.8,163.52 L310.3,163.49 L310.8,163.47 L311.3,163.44 L311.8,163.41 L312.3,163.38 L312.8,163.35 L313.3,163.32 L313.8,163.28 L314.3,163.25 L314.8,163.21 L315.3,163.17 L315.8,163.12 L316.3,163.08 L316.8,163.03 L317.3,162.98 L317.8,162.93 L318.3,162.88 L318.8,162.82 L319.3,162.76 L319.8,162.7 L320.3,162.63 L320.8,162.56 L321.3,162.49 L321.8,162.42 L322.3,162.34 L322.8,162.26 L323.3,162.17 L323.8,162.08 L324.3,161.99 L324.8,161.89 L325.3,161.79 L325.8,161.69 L326.3,161.58 L326.8,161.46 L327.3,161.35 L327.8,161.22 L328.3,161.09 L328.8,160.96 L329.3,160.82 L329.8,160.68 L330.3,160.53 L330.8,160.37 L331.3,160.21 L331.8,160.05 L332.3,159.87 L332.8,159.7 L333.3,159.51 L333.8,159.32 L334.3,159.12 L334.8,158.92 L335.3,158.71 L335.8,158.49 L336.3,158.26 L336.8,158.03 L337.3,157.79 L337.8,157.55 L338.3,157.29 L338.8,157.03 L339.3,156.76 L339.8,156.49 L340.3,156.2 L340.8,155.91 L341.3,155.61 L341.8,155.3 L342.3,154.98 L342.8,154.66 L343.3,154.33 L343.8,153.99 L344.3,153.64 L344.8,153.28 L345.3,152.91 L345.8,152.54 L346.3,152.16 L346.8,151.77 L347.3,151.37 L347.8,150.96 L348.3,150.55 L348.8,150.13 L349.3,149.7 L349.8,149.26 L350.3,148.81 L350.8,148.36 L351.3,147.9 L351.8,147.43 L352.3,146.95 L352.8,146.47 L353.3,145.98 L353.8,145.48 L354.3,144.98 L354.8,144.47 L355.3,143.95 L355.8,143.43 L356.3,142.9 L356.8,142.37 L357.3,141.83 L357.8,141.29 L358.3,140.74 L358.8,140.19 L359.3,139.63 L359.8,139.07 L360.3,138.51 L360.8,137.95 L361.3,137.38 L361.8,136.81 L362.3,136.24 L362.8,135.67 L363.3,135.09 L363.8,134.52 L364.3,133.95 L364.8,133.37 L365.3,132.8 L365.8,132.23 L366.3,131.66 L366.8,131.1 L367.3,130.53 L367.8,129.97 L368.3,129.41 L368.8,128.86 L369.3,128.31 L369.8,127.77 L370.3,127.23 L370.8,126.7 L371.3,126.18 L371.8,125.66 L372.3,125.15 L372.8,124.65 L373.3,124.16 L373.8,123.68 L374.3,123.21 L374.8,122.74 L375.3,122.29 L375.8,121.85 L376.3,121.42 L376.8,121 L377.3,120.6 L377.8,120.2 L378.3,119.82 L378.8,119.46 L379.3,119.11 L379.8,118.77 L380.3,118.45 L380.8,118.14 L381.3,117.85 L381.8,117.57 L382.3,117.31 L382.8,117.07 L383.3,116.84 L383.8,116.63 L384.3,116.44 L384.8,116.27 L385.3,116.11 L385.8,115.97 L386.3,115.85 L386.8,115.74 L387.3,115.66 L387.8,115.59 L388.3,115.54 L388.8,115.51 L389.3,115.5 L389.8,115.51 L390.3,115.53 L390.8,115.58 L391.3,115.64 L391.8,115.72 L392.3,115.82 L392.8,115.93 L393.3,116.07 L393.8,116.22 L394.3,116.39 L394.8,116.58 L395.3,116.78 L395.8,117 L396.3,117.24 L396.8,117.5 L397.3,117.77 L397.8,118.06 L398.3,118.36 L398.8,118.68 L399.3,119.01 L399.8,119.36 L400.3,119.72 L400.8,120.1 L401.3,120.48 L401.8,120.89 L402.3,121.3 L402.8,121.73 L403.3,122.17 L403.8,122.61 L404.3,123.07 L404.8,123.55 L405.3,124.03 L405.8,124.51 L406.3,125.01 L406.8,125.52 L407.3,126.03 L407.8,126.56 L408.3,127.09 L408.8,127.62 L409.3,128.16 L409.8,128.71 L410.3,129.26 L410.8,129.82 L411.3,130.37 L411.8,130.94 L412.3,131.5 L412.8,132.07 L413.3,132.64 L413.8,133.21 L414.3,133.79 L414.8,134.36 L415.3,134.93 L415.8,135.51 L416.3,136.08 L416.8,136.65 L417.3,137.22 L417.8,137.79 L418.3,138.35 L418.8,138.92 L419.3,139.48 L419.8,140.03 L420.3,140.59 L420.8,141.13 L421.3,141.68 L421.8,142.22 L422.3,142.75 L422.8,143.28 L423.3,143.8 L423.8,144.32 L424.3,144.83 L424.8,145.34 L425.3,145.84 L425.8,146.33 L426.3,146.82 L426.8,147.29 L427.3,147.76 L427.8,148.23 L428.3,148.68 L428.8,149.13 L429.3,149.57 L429.8,150.01 L430.3,150.43 L430.8,150.85 L431.3,151.26 L431.8,151.66 L432.3,152.05 L432.8,152.43 L433.3,152.81 L433.8,153.18 L434.3,153.54 L434.8,153.89 L435.3,154.23 L435.8,154.57 L436.3,154.89 L436.8,155.21 L437.3,155.52 L437.8,155.83 L438.3,156.12 L438.8,156.41 L439.3,156.69 L439.8,156.96 L440.3,157.22 L440.8,157.48 L441.3,157.73 L441.8,157.97 L442.3,158.2 L442.8,158.43 L443.3,158.65 L443.8,158.86 L444.3,159.07 L444.8,159.27 L445.3,159.46 L445.8,159.64 L446.3,159.83 L446.8,160 L447.3,160.17 L447.8,160.33 L448.3,160.49 L448.8,160.64 L449.3,160.78 L449.8,160.92 L450.3,161.06 L450.8,161.19 L451.3,161.31 L451.8,161.43 L452.3,161.55 L452.8,161.66 L453.3,161.76 L453.8,161.87 L454.3,161.96 L454.8,162.06 L455.3,162.15 L455.8,162.23 L456.3,162.32 L456.8,162.4 L457.3,162.47 L457.8,162.54 L458.3,162.61 L458.8,162.68 L459.3,162.74 L459.8,162.8 L460.3,162.86 L460.8,162.92 L461.3,162.97 L461.8,163.02 L462.3,163.07 L462.8,163.11 L463.3,163.15 L463.8,163.2 L464.3,163.23 L464.8,163.27 L465.3,163.31 L465.8,163.34 L466.3,163.37 L466.8,163.4 L467.3,163.43 L467.8,163.46 L468.3,163.48 L468.8,163.51 L469.3,163.53 L469.8,163.55 L470.3,163.57 L470.8,163.59 L471.3,163.61 L471.8,163.63 L472.3,163.65 L472.8,163.66 L473.3,163.68 L473.8,163.69 L474.3,163.7 L474.8,163.72 L475.3,163.73 L475.8,163.74 L476.3,163.75 L476.8,163.76 L477.3,163.77 L477.8,163.78 L478.3,163.78 L478.8,163.79 L479.3,163.8 L479.8,163.81 L480.3,163.81 L480.8,163.82 L481.3,163.82 L481.8,163.83 L482.3,163.83 L482.8,163.84 L483.3,163.84 L483.8,163.85 L484.3,163.85 L484.8,163.85 L485.3,163.86 L485.8,163.86 L486.3,163.86 L486.8,163.87 L487.3,163.87 L487.8,163.87 L488.3,163.87 L488.7,163.9 Z" fill="#ff8080"/>
<path d="M276.8,163.9 L277.3,163.9 L277.8,163.9 L278.3,163.9 L278.8,163.9 L279.3,163.9 L279.8,163.89 L280.3,163.89 L280.8,163.89 L281.3,163.89 L281.8,163.89 L282.3,163.89 L282.8,163.89 L283.3,163.89 L283.8,163.89 L284.3,163.89 L284.8,163.89 L285.3,163.89 L285.8,163.89 L286.3,163.89 L286.8,163.88 L287.3,163.88 L287.8,163.88 L288.3,163.88 L288.8,163.88 L289.3,163.88 L289.8,163.88 L290.3,163.87 L290.8,163.87 L291.3,163.87 L291.8,163.87 L292.3,163.86 L292.8,163.86 L293.3,163.86 L293.8,163.85 L294.3,163.85 L294.8,163.85 L295.3,163.84 L295.8,163.84 L296.3,163.84 L296.8,163.83 L297.3,163.83 L297.8,163.82 L298.3,163.81 L298.8,163.81 L299.3,163.8 L299.8,163.79 L300.3,163.79 L300.8,163.78 L301.3,163.77 L301.8,163.76 L302.3,163.75 L302.8,163.74 L303.3,163.73 L303.8,163.72 L304.3,163.71 L304.8,163.69 L305.3,163.68 L305.8,163.67 L306.3,163.65 L306.8,163.63 L307.3,163.62 L307.8,163.6 L308.3,163.58 L308.8,163.56 L309.3,163.54 L309.8,163.52 L310.3,163.49 L310.8,163.47 L311.3,163.44 L311.8,163.41 L312.3,163.38 L312.8,163.35 L313.3,163.32 L313.8,163.28 L314.3,163.25 L314.8,163.21 L315.3,163.17 L315.8,163.12 L316.3,163.08 L316.8,163.03 L317.3,162.98 L317.8,162.93 L318.3,162.88 L318.8,162.82 L319.3,162.76 L319.8,162.7 L320.3,162.63 L320.8,162.56 L321.3,162.49 L321.8,162.42 L322.3,162.34 L322.8,162.26 L323.3,162.17 L323.8,162.08 L324.3,161.99 L324.8,161.89 L325.3,161.79 L325.8,161.69 L326.3,161.58 L326.8,161.46 L327.3,161.35 L327.8,161.22 L328.3,161.09 L328.8,160.96 L329.3,160.82 L329.8,160.68 L330.3,160.53 L330.8,160.37 L331.3,160.21 L331.8,160.05 L332.3,159.87 L332.8,159.7 L333.3,159.51 L333.8,159.32 L334.3,159.12 L334.8,158.92 L335.3,158.71 L335.8,158.49 L336.3,158.26 L336.8,158.03 L337.3,157.79 L337.8,157.55 L338.3,157.29 L338.8,157.03 L339.3,156.76 L339.8,156.49 L340.3,156.2 L340.8,155.91 L341.3,155.61 L341.8,155.3 L342.3,154.98 L342.8,154.66 L343.3,154.33 L343.8,153.99 L344.3,153.64 L344.8,153.28 L345.3,152.91 L345.8,152.54 L346.3,152.16 L346.8,151.77 L347.3,151.37 L347.8,150.96 L348.3,150.55 L348.8,150.13 L349.3,149.7 L349.8,149.26 L350.3,148.81 L350.8,148.36 L351.3,147.9 L351.8,147.43 L352.3,146.95 L352.8,146.47 L353.3,145.98 L353.8,145.48 L354.3,144.98 L354.8,144.47 L355.3,143.95 L355.8,143.43 L356.3,142.9 L356.8,142.37 L357.3,141.83 L357.8,141.29 L358.3,140.74 L358.8,140.19 L359.3,139.63 L359.8,139.07 L360.3,138.51 L360.8,137.95 L361.3,137.38 L361.8,136.81 L362.3,136.24 L362.8,135.67 L363.3,135.09 L363.8,134.52 L364.3,133.95 L364.8,133.37 L365.3,132.8 L365.8,132.23 L366.3,131.66 L366.8,131.1 L367.3,130.53 L367.8,129.97 L368.3,129.41 L368.8,128.86 L369.3,128.31 L369.8,127.77 L370.3,127.23 L370.8,126.7 L371.3,126.18 L371.8,125.66 L372.3,125.15 L372.8,124.65 L373.3,124.16 L373.8,123.68 L374.3,123.21 L374.8,122.74 L375.3,122.29 L375.8,121.85 L376.3,121.42 L376.8,121 L377.3,120.6 L377.8,120.2 L378.3,119.82 L378.8,119.46 L379.3,119.11 L379.8,118.77 L380.3,118.45 L380.8,118.14 L381.3,117.85 L381.8,117.57 L382.3,117.31 L382.8,117.07 L383.3,116.84 L383.8,116.63 L384.3,116.44 L384.8,116.27 L385.3,116.11 L385.8,115.97 L386.3,115.85 L386.8,115.74 L387.3,115.66 L387.8,115.59 L388.3,115.54 L388.8,115.51 L389.3,115.5 L389.8,115.51 L390.3,115.53 L390.8,115.58 L391.3,115.64 L391.8,115.72 L392.3,115.82 L392.8,115.93 L393.3,116.07 L393.8,116.22 L394.3,116.39 L394.8,116.58 L395.3,116.78 L395.8,117 L396.3,117.24 L396.8,117.5 L397.3,117.77 L397.8,118.06 L398.3,118.36 L398.8,118.68 L399.3,119.01 L399.8,119.36 L400.3,119.72 L400.8,120.1 L401.3,120.48 L401.8,120.89 L402.3,121.3 L402.8,121.73 L403.3,122.17 L403.8,122.61 L404.3,123.07 L404.8,123.55 L405.3,124.03 L405.8,124.51 L406.3,125.01 L406.8,125.52 L407.3,126.03 L407.8,126.56 L408.3,127.09 L408.8,127.62 L409.3,128.16 L409.8,128.71 L410.3,129.26 L410.8,129.82 L411.3,130.37 L411.8,130.94 L412.3,131.5 L412.8,132.07 L413.3,132.64 L413.8,133.21 L414.3,133.79 L414.8,134.36 L415.3,134.93 L415.8,135.51 L416.3,136.08 L416.8,136.65 L417.3,137.22 L417.8,137.79 L418.3,138.35 L418.8,138.92 L419.3,139.48 L419.8,140.03 L420.3,140.59 L420.8,141.13 L421.3,141.68 L421.8,142.22 L422.3,142.75 L422.8,143.28 L423.3,143.8 L423.8,144.32 L424.3,144.83 L424.8,145.34 L425.3,145.84 L425.8,146.33 L426.3,146.82 L426.8,147.29 L427.3,147.76 L427.8,148.23 L428.3,148.68 L428.8,149.13 L429.3,149.57 L429.8,150.01 L430.3,150.43 L430.8,150.85 L431.3,151.26 L431.8,151.66 L432.3,152.05 L432.8,152.43 L433.3,152.81 L433.8,153.18 L434.3,153.54 L434.8,153.89 L435.3,154.23 L435.8,154.57 L436.3,154.89 L436.8,155.21 L437.3,155.52 L437.8,155.83 L438.3,156.12 L438.8,156.41 L439.3,156.69 L439.8,156.96 L440.3,157.22 L440.8,157.48 L441.3,157.73 L441.8,157.97 L442.3,158.2 L442.8,158.43 L443.3,158.65 L443.8,158.86 L444.3,159.07 L444.8,159.27 L445.3,159.46 L445.8,159.64 L446.3,159.83 L446.8,160 L447.3,160.17 L447.8,160.33 L448.3,160.49 L448.8,160.64 L449.3,160.78 L449.8,160.92 L450.3,161.06 L450.8,161.19 L451.3,161.31 L451.8,161.43 L452.3,161.55 L452.8,161.66 L453.3,161.76 L453.8,161.87 L454.3,161.96 L454.8,162.06 L455.3,162.15 L455.8,162.23 L456.3,162.32 L456.8,162.4 L457.3,162.47 L457.8,162.54 L458.3,162.61 L458.8,162.68 L459.3,162.74 L459.8,162.8 L460.3,162.86 L460.8,162.92 L461.3,162.97 L461.8,163.02 L462.3,163.07 L462.8,163.11 L463.3,163.15 L463.8,163.2 L464.3,163.23 L464.8,163.27 L465.3,163.31 L465.8,163.34 L466.3,163.37 L466.8,163.4 L467.3,163.43 L467.8,163.46 L468.3,163.48 L468.8,163.51 L469.3,163.53 L469.8,163.55 L470.3,163.57 L470.8,163.59 L471.3,163.61 L471.8,163.63 L472.3,163.65 L472.8,163.66 L473.3,163.68 L473.8,163.69 L474.3,163.7 L474.8,163.72 L475.3,163.73 L475.8,163.74 L476.3,163.75 L476.8,163.76 L477.3,163.77 L477.8,163.78 L478.3,163.78 L478.8,163.79 L479.3,163.8 L479.8,163.81 L480.3,163.81 L480.8,163.82 L481.3,163.82 L481.8,163.83 L482.3,163.83 L482.8,163.84 L483.3,163.84 L483.8,163.85 L484.3,163.85 L484.8,163.85 L485.3,163.86 L485.8,163.86 L486.3,163.86 L486.8,163.87 L487.3,163.87 L487.8,163.87 L488.3,163.87" fill="none" stroke="#c8283a" stroke-width="0.6"/>
<path d="M276.2,135.3 L277.46,133.43 L279.06,137.72 L280.12,142.19 L281.38,138.43 L283.18,139.12 L284.37,137.07 L285.89,141.11 L287,139.8 L288.32,140.65 L289.79,141.48 L291.49,143.56 L293.26,140.96 L295.1,136.19 L296.34,138.28 L297.96,135.69 L299.35,140.93 L300.93,138.03 L302.82,140.9 L304.47,136.52 L306.39,135.68 L308.08,141.44 L309.65,139.48 L311.47,143.72 L313.24,136.62 L314.55,137.41 L315.64,136.12 L317.34,144.82 L319.27,139.58 L320.6,138.47 L321.68,137.95 L323.28,136.07 L325.11,137.47 L326.96,133.05 L328.48,134.73 L330.04,136.75 L331.54,136.64 L332.81,138.47 L334.33,135.76 L335.75,134.68 L337.35,134.09 L338.97,134.17 L340.34,126.87 L341.41,126.19 L343.32,129.5 L344.91,124.76 L346.24,120.54 L347.56,122.15 L348.63,120.48 L349.96,120.4 L351.23,121.29 L352.9,119.59 L354.25,113.43 L356.07,115.66 L357.71,108.53 L358.96,108.46 L360.18,104.19 L361.4,102.51 L363.03,96.92 L364.19,97.17 L365.49,96.53 L366.91,94.47 L368.11,92.1 L369.95,90.9 L371.85,87.53 L373.57,88.78 L375.09,84.8 L376.35,80.3 L377.65,79.23 L379.52,81.68 L381.37,80.74 L382.44,76.95 L383.76,82.29 L385.18,77.9 L386.54,74.07 L388.01,75.22 L389.24,82.12 L390.45,76.25 L392.22,71.11 L393.84,76.16 L395.13,86.73 L396.56,78 L397.61,74.14 L398.78,76.64 L400.6,80.96 L401.93,78.35 L403.56,81.43 L404.78,80.54 L406.33,85.46 L407.46,86.1 L409.05,91.63 L410.82,89.04 L412.21,94.06 L413.63,95.17 L414.9,99.46 L416.02,99.2 L417.86,104.61 L419.72,103.87 L421.19,108.06 L422.83,110.76 L424.48,118.36 L425.63,116.63 L426.81,117.67 L427.94,118.73 L429.15,122.08 L430.31,121.3 L432.11,126.15 L433.88,125.18 L435.39,126.64 L437.11,128.14 L438.46,130.23 L439.72,128.76 L441.33,135.23 L442.71,137.18 L444.14,139.38 L446.06,136.44 L447.26,140.16 L448.91,138.8 L450.54,138.05 L451.68,137.75 L453.19,140.16 L454.41,137.09 L455.99,135.77 L457.66,134.15 L459.34,139.56 L460.92,141.49 L461.99,142.86 L463.2,138.93 L464.94,142.15 L466.42,140.74 L468.23,135.94 L469.71,137.51 L471.12,136.91 L472.59,138 L474.29,139.48 L476.1,140.73 L477.39,138.1 L479.21,141.67 L481.04,141.35 L482.74,139.46 L484.54,140.19 L486.12,145.27 L487.47,141.77 L488.3,141.1" fill="none" stroke="#2a2a2a" stroke-width="0.8" stroke-linejoin="round"/>
<path d="M268.7,186.3H488.84" stroke="#555" stroke-width="0.8" fill="none"/>
<path d="M268.7,186.3v4" stroke="#555" stroke-width="0.8"/>
<text x="268.7" y="201.7" text-anchor="middle" font-size="10">12,000</text>
<path d="M293.16,186.3v2.6" stroke="#555" stroke-width="0.8"/>
<path d="M317.62,186.3v4" stroke="#555" stroke-width="0.8"/>
<text x="317.62" y="201.7" text-anchor="middle" font-size="10">8,000</text>
<path d="M342.08,186.3v2.6" stroke="#555" stroke-width="0.8"/>
<path d="M366.54,186.3v4" stroke="#555" stroke-width="0.8"/>
<text x="366.54" y="201.7" text-anchor="middle" font-size="10">4,000</text>
<path d="M391,186.3v2.6" stroke="#555" stroke-width="0.8"/>
<path d="M415.46,186.3v4" stroke="#555" stroke-width="0.8"/>
<text x="415.46" y="201.7" text-anchor="middle" font-size="10">0</text>
<path d="M439.92,186.3v2.6" stroke="#555" stroke-width="0.8"/>
<path d="M464.38,186.3v4" stroke="#555" stroke-width="0.8"/>
<text x="464.38" y="201.7" text-anchor="middle" font-size="10">–4,000</text>
<path d="M488.84,186.3v2.6" stroke="#555" stroke-width="0.8"/>
<text x="378.7" y="221.2" text-anchor="middle" font-size="11">δ<tspan font-size="7.5" dy="2.5">cg</tspan><tspan dy="-2.5"> (</tspan><tspan font-size="7" dy="-4">17</tspan><tspan dy="4">O (ppm))</tspan></text>
<path d="M274.1,375.9 L274.1,375.88 L274.6,375.88 L275.1,375.88 L275.6,375.88 L276.1,375.88 L276.6,375.88 L277.1,375.88 L277.6,375.87 L278.1,375.87 L278.6,375.87 L279.1,375.87 L279.6,375.86 L280.1,375.86 L280.6,375.86 L281.1,375.86 L281.6,375.85 L282.1,375.85 L282.6,375.85 L283.1,375.84 L283.6,375.84 L284.1,375.83 L284.6,375.83 L285.1,375.82 L285.6,375.82 L286.1,375.81 L286.6,375.81 L287.1,375.8 L287.6,375.79 L288.1,375.79 L288.6,375.78 L289.1,375.77 L289.6,375.76 L290.1,375.76 L290.6,375.75 L291.1,375.74 L291.6,375.73 L292.1,375.71 L292.6,375.7 L293.1,375.69 L293.6,375.68 L294.1,375.66 L294.6,375.65 L295.1,375.63 L295.6,375.62 L296.1,375.6 L296.6,375.58 L297.1,375.56 L297.6,375.54 L298.1,375.52 L298.6,375.5 L299.1,375.47 L299.6,375.45 L300.1,375.42 L300.6,375.39 L301.1,375.37 L301.6,375.34 L302.1,375.3 L302.6,375.27 L303.1,375.23 L303.6,375.2 L304.1,375.16 L304.6,375.12 L305.1,375.08 L305.6,375.03 L306.1,374.99 L306.6,374.94 L307.1,374.89 L307.6,374.83 L308.1,374.78 L308.6,374.72 L309.1,374.66 L309.6,374.59 L310.1,374.53 L310.6,374.46 L311.1,374.39 L311.6,374.31 L312.1,374.23 L312.6,374.15 L313.1,374.07 L313.6,373.98 L314.1,373.89 L314.6,373.79 L315.1,373.69 L315.6,373.59 L316.1,373.48 L316.6,373.37 L317.1,373.25 L317.6,373.13 L318.1,373.01 L318.6,372.88 L319.1,372.75 L319.6,372.61 L320.1,372.47 L320.6,372.32 L321.1,372.17 L321.6,372.01 L322.1,371.84 L322.6,371.67 L323.1,371.5 L323.6,371.32 L324.1,371.13 L324.6,370.94 L325.1,370.74 L325.6,370.54 L326.1,370.33 L326.6,370.11 L327.1,369.89 L327.6,369.66 L328.1,369.43 L328.6,369.19 L329.1,368.94 L329.6,368.68 L330.1,368.42 L330.6,368.15 L331.1,367.88 L331.6,367.59 L332.1,367.3 L332.6,367.01 L333.1,366.7 L333.6,366.39 L334.1,366.07 L334.6,365.75 L335.1,365.42 L335.6,365.08 L336.1,364.73 L336.6,364.38 L337.1,364.02 L337.6,363.65 L338.1,363.27 L338.6,362.89 L339.1,362.5 L339.6,362.11 L340.1,361.71 L340.6,361.3 L341.1,360.88 L341.6,360.46 L342.1,360.03 L342.6,359.6 L343.1,359.16 L343.6,358.71 L344.1,358.26 L344.6,357.8 L345.1,357.34 L345.6,356.87 L346.1,356.39 L346.6,355.91 L347.1,355.43 L347.6,354.94 L348.1,354.45 L348.6,353.95 L349.1,353.45 L349.6,352.95 L350.1,352.44 L350.6,351.93 L351.1,351.42 L351.6,350.91 L352.1,350.39 L352.6,349.87 L353.1,349.35 L353.6,348.83 L354.1,348.31 L354.6,347.79 L355.1,347.27 L355.6,346.75 L356.1,346.23 L356.6,345.71 L357.1,345.19 L357.6,344.67 L358.1,344.16 L358.6,343.65 L359.1,343.14 L359.6,342.64 L360.1,342.14 L360.6,341.64 L361.1,341.15 L361.6,340.67 L362.1,340.19 L362.6,339.71 L363.1,339.24 L363.6,338.78 L364.1,338.33 L364.6,337.88 L365.1,337.44 L365.6,337.01 L366.1,336.59 L366.6,336.18 L367.1,335.78 L367.6,335.38 L368.1,335 L368.6,334.63 L369.1,334.27 L369.6,333.92 L370.1,333.58 L370.6,333.25 L371.1,332.94 L371.6,332.64 L372.1,332.35 L372.6,332.08 L373.1,331.82 L373.6,331.57 L374.1,331.33 L374.6,331.12 L375.1,330.91 L375.6,330.72 L376.1,330.55 L376.6,330.39 L377.1,330.24 L377.6,330.11 L378.1,330 L378.6,329.9 L379.1,329.82 L379.6,329.75 L380.1,329.7 L380.6,329.66 L381.1,329.64 L381.6,329.64 L382.1,329.65 L382.6,329.68 L383.1,329.73 L383.6,329.79 L384.1,329.86 L384.6,329.96 L385.1,330.06 L385.6,330.19 L386.1,330.33 L386.6,330.48 L387.1,330.65 L387.6,330.83 L388.1,331.03 L388.6,331.25 L389.1,331.47 L389.6,331.72 L390.1,331.97 L390.6,332.24 L391.1,332.52 L391.6,332.82 L392.1,333.13 L392.6,333.45 L393.1,333.78 L393.6,334.13 L394.1,334.48 L394.6,334.85 L395.1,335.23 L395.6,335.62 L396.1,336.02 L396.6,336.42 L397.1,336.84 L397.6,337.27 L398.1,337.7 L398.6,338.15 L399.1,338.6 L399.6,339.06 L400.1,339.52 L400.6,339.99 L401.1,340.47 L401.6,340.96 L402.1,341.45 L402.6,341.94 L403.1,342.44 L403.6,342.94 L404.1,343.45 L404.6,343.96 L405.1,344.47 L405.6,344.98 L406.1,345.5 L406.6,346.02 L407.1,346.54 L407.6,347.06 L408.1,347.58 L408.6,348.1 L409.1,348.62 L409.6,349.14 L410.1,349.66 L410.6,350.18 L411.1,350.7 L411.6,351.22 L412.1,351.73 L412.6,352.24 L413.1,352.75 L413.6,353.25 L414.1,353.75 L414.6,354.25 L415.1,354.75 L415.6,355.24 L416.1,355.72 L416.6,356.2 L417.1,356.68 L417.6,357.15 L418.1,357.61 L418.6,358.07 L419.1,358.53 L419.6,358.98 L420.1,359.42 L420.6,359.86 L421.1,360.29 L421.6,360.71 L422.1,361.13 L422.6,361.54 L423.1,361.95 L423.6,362.35 L424.1,362.74 L424.6,363.12 L425.1,363.5 L425.6,363.87 L426.1,364.23 L426.6,364.59 L427.1,364.94 L427.6,365.28 L428.1,365.62 L428.6,365.94 L429.1,366.27 L429.6,366.58 L430.1,366.89 L430.6,367.18 L431.1,367.48 L431.6,367.76 L432.1,368.04 L432.6,368.31 L433.1,368.58 L433.6,368.84 L434.1,369.09 L434.6,369.33 L435.1,369.57 L435.6,369.8 L436.1,370.03 L436.6,370.24 L437.1,370.46 L437.6,370.66 L438.1,370.86 L438.6,371.06 L439.1,371.25 L439.6,371.43 L440.1,371.61 L440.6,371.78 L441.1,371.94 L441.6,372.1 L442.1,372.26 L442.6,372.41 L443.1,372.55 L443.6,372.69 L444.1,372.83 L444.6,372.96 L445.1,373.09 L445.6,373.21 L446.1,373.32 L446.6,373.44 L447.1,373.55 L447.6,373.65 L448.1,373.75 L448.6,373.85 L449.1,373.94 L449.6,374.03 L450.1,374.12 L450.6,374.2 L451.1,374.28 L451.6,374.36 L452.1,374.43 L452.6,374.5 L453.1,374.57 L453.6,374.63 L454.1,374.69 L454.6,374.75 L455.1,374.81 L455.6,374.86 L456.1,374.92 L456.6,374.97 L457.1,375.01 L457.6,375.06 L458.1,375.1 L458.6,375.14 L459.1,375.18 L459.6,375.22 L460.1,375.26 L460.6,375.29 L461.1,375.32 L461.6,375.35 L462.1,375.38 L462.6,375.41 L463.1,375.44 L463.6,375.46 L464.1,375.49 L464.6,375.51 L465.1,375.53 L465.6,375.55 L466.1,375.57 L466.6,375.59 L467.1,375.61 L467.6,375.63 L468.1,375.64 L468.6,375.66 L469.1,375.67 L469.6,375.68 L470.1,375.7 L470.6,375.71 L471.1,375.72 L471.6,375.73 L472.1,375.74 L472.6,375.75 L473.1,375.76 L473.6,375.77 L474.1,375.78 L474.6,375.78 L475.1,375.79 L475.6,375.8 L476.1,375.81 L476.6,375.81 L477.1,375.82 L477.6,375.82 L478.1,375.83 L478.6,375.83 L479.1,375.84 L479.6,375.84 L480.1,375.84 L480.6,375.85 L481.1,375.85 L481.6,375.85 L482.1,375.86 L482.6,375.86 L483.1,375.86 L483.6,375.87 L484.1,375.87 L484.6,375.87 L485.1,375.87 L485.6,375.87 L486.1,375.88 L486.6,375.88 L487.1,375.88 L487.6,375.88 L488.1,375.88 L488.6,375.88 L488.7,375.9 Z" fill="#ff8080"/>
<path d="M274.1,375.88 L274.6,375.88 L275.1,375.88 L275.6,375.88 L276.1,375.88 L276.6,375.88 L277.1,375.88 L277.6,375.87 L278.1,375.87 L278.6,375.87 L279.1,375.87 L279.6,375.86 L280.1,375.86 L280.6,375.86 L281.1,375.86 L281.6,375.85 L282.1,375.85 L282.6,375.85 L283.1,375.84 L283.6,375.84 L284.1,375.83 L284.6,375.83 L285.1,375.82 L285.6,375.82 L286.1,375.81 L286.6,375.81 L287.1,375.8 L287.6,375.79 L288.1,375.79 L288.6,375.78 L289.1,375.77 L289.6,375.76 L290.1,375.76 L290.6,375.75 L291.1,375.74 L291.6,375.73 L292.1,375.71 L292.6,375.7 L293.1,375.69 L293.6,375.68 L294.1,375.66 L294.6,375.65 L295.1,375.63 L295.6,375.62 L296.1,375.6 L296.6,375.58 L297.1,375.56 L297.6,375.54 L298.1,375.52 L298.6,375.5 L299.1,375.47 L299.6,375.45 L300.1,375.42 L300.6,375.39 L301.1,375.37 L301.6,375.34 L302.1,375.3 L302.6,375.27 L303.1,375.23 L303.6,375.2 L304.1,375.16 L304.6,375.12 L305.1,375.08 L305.6,375.03 L306.1,374.99 L306.6,374.94 L307.1,374.89 L307.6,374.83 L308.1,374.78 L308.6,374.72 L309.1,374.66 L309.6,374.59 L310.1,374.53 L310.6,374.46 L311.1,374.39 L311.6,374.31 L312.1,374.23 L312.6,374.15 L313.1,374.07 L313.6,373.98 L314.1,373.89 L314.6,373.79 L315.1,373.69 L315.6,373.59 L316.1,373.48 L316.6,373.37 L317.1,373.25 L317.6,373.13 L318.1,373.01 L318.6,372.88 L319.1,372.75 L319.6,372.61 L320.1,372.47 L320.6,372.32 L321.1,372.17 L321.6,372.01 L322.1,371.84 L322.6,371.67 L323.1,371.5 L323.6,371.32 L324.1,371.13 L324.6,370.94 L325.1,370.74 L325.6,370.54 L326.1,370.33 L326.6,370.11 L327.1,369.89 L327.6,369.66 L328.1,369.43 L328.6,369.19 L329.1,368.94 L329.6,368.68 L330.1,368.42 L330.6,368.15 L331.1,367.88 L331.6,367.59 L332.1,367.3 L332.6,367.01 L333.1,366.7 L333.6,366.39 L334.1,366.07 L334.6,365.75 L335.1,365.42 L335.6,365.08 L336.1,364.73 L336.6,364.38 L337.1,364.02 L337.6,363.65 L338.1,363.27 L338.6,362.89 L339.1,362.5 L339.6,362.11 L340.1,361.71 L340.6,361.3 L341.1,360.88 L341.6,360.46 L342.1,360.03 L342.6,359.6 L343.1,359.16 L343.6,358.71 L344.1,358.26 L344.6,357.8 L345.1,357.34 L345.6,356.87 L346.1,356.39 L346.6,355.91 L347.1,355.43 L347.6,354.94 L348.1,354.45 L348.6,353.95 L349.1,353.45 L349.6,352.95 L350.1,352.44 L350.6,351.93 L351.1,351.42 L351.6,350.91 L352.1,350.39 L352.6,349.87 L353.1,349.35 L353.6,348.83 L354.1,348.31 L354.6,347.79 L355.1,347.27 L355.6,346.75 L356.1,346.23 L356.6,345.71 L357.1,345.19 L357.6,344.67 L358.1,344.16 L358.6,343.65 L359.1,343.14 L359.6,342.64 L360.1,342.14 L360.6,341.64 L361.1,341.15 L361.6,340.67 L362.1,340.19 L362.6,339.71 L363.1,339.24 L363.6,338.78 L364.1,338.33 L364.6,337.88 L365.1,337.44 L365.6,337.01 L366.1,336.59 L366.6,336.18 L367.1,335.78 L367.6,335.38 L368.1,335 L368.6,334.63 L369.1,334.27 L369.6,333.92 L370.1,333.58 L370.6,333.25 L371.1,332.94 L371.6,332.64 L372.1,332.35 L372.6,332.08 L373.1,331.82 L373.6,331.57 L374.1,331.33 L374.6,331.12 L375.1,330.91 L375.6,330.72 L376.1,330.55 L376.6,330.39 L377.1,330.24 L377.6,330.11 L378.1,330 L378.6,329.9 L379.1,329.82 L379.6,329.75 L380.1,329.7 L380.6,329.66 L381.1,329.64 L381.6,329.64 L382.1,329.65 L382.6,329.68 L383.1,329.73 L383.6,329.79 L384.1,329.86 L384.6,329.96 L385.1,330.06 L385.6,330.19 L386.1,330.33 L386.6,330.48 L387.1,330.65 L387.6,330.83 L388.1,331.03 L388.6,331.25 L389.1,331.47 L389.6,331.72 L390.1,331.97 L390.6,332.24 L391.1,332.52 L391.6,332.82 L392.1,333.13 L392.6,333.45 L393.1,333.78 L393.6,334.13 L394.1,334.48 L394.6,334.85 L395.1,335.23 L395.6,335.62 L396.1,336.02 L396.6,336.42 L397.1,336.84 L397.6,337.27 L398.1,337.7 L398.6,338.15 L399.1,338.6 L399.6,339.06 L400.1,339.52 L400.6,339.99 L401.1,340.47 L401.6,340.96 L402.1,341.45 L402.6,341.94 L403.1,342.44 L403.6,342.94 L404.1,343.45 L404.6,343.96 L405.1,344.47 L405.6,344.98 L406.1,345.5 L406.6,346.02 L407.1,346.54 L407.6,347.06 L408.1,347.58 L408.6,348.1 L409.1,348.62 L409.6,349.14 L410.1,349.66 L410.6,350.18 L411.1,350.7 L411.6,351.22 L412.1,351.73 L412.6,352.24 L413.1,352.75 L413.6,353.25 L414.1,353.75 L414.6,354.25 L415.1,354.75 L415.6,355.24 L416.1,355.72 L416.6,356.2 L417.1,356.68 L417.6,357.15 L418.1,357.61 L418.6,358.07 L419.1,358.53 L419.6,358.98 L420.1,359.42 L420.6,359.86 L421.1,360.29 L421.6,360.71 L422.1,361.13 L422.6,361.54 L423.1,361.95 L423.6,362.35 L424.1,362.74 L424.6,363.12 L425.1,363.5 L425.6,363.87 L426.1,364.23 L426.6,364.59 L427.1,364.94 L427.6,365.28 L428.1,365.62 L428.6,365.94 L429.1,366.27 L429.6,366.58 L430.1,366.89 L430.6,367.18 L431.1,367.48 L431.6,367.76 L432.1,368.04 L432.6,368.31 L433.1,368.58 L433.6,368.84 L434.1,369.09 L434.6,369.33 L435.1,369.57 L435.6,369.8 L436.1,370.03 L436.6,370.24 L437.1,370.46 L437.6,370.66 L438.1,370.86 L438.6,371.06 L439.1,371.25 L439.6,371.43 L440.1,371.61 L440.6,371.78 L441.1,371.94 L441.6,372.1 L442.1,372.26 L442.6,372.41 L443.1,372.55 L443.6,372.69 L444.1,372.83 L444.6,372.96 L445.1,373.09 L445.6,373.21 L446.1,373.32 L446.6,373.44 L447.1,373.55 L447.6,373.65 L448.1,373.75 L448.6,373.85 L449.1,373.94 L449.6,374.03 L450.1,374.12 L450.6,374.2 L451.1,374.28 L451.6,374.36 L452.1,374.43 L452.6,374.5 L453.1,374.57 L453.6,374.63 L454.1,374.69 L454.6,374.75 L455.1,374.81 L455.6,374.86 L456.1,374.92 L456.6,374.97 L457.1,375.01 L457.6,375.06 L458.1,375.1 L458.6,375.14 L459.1,375.18 L459.6,375.22 L460.1,375.26 L460.6,375.29 L461.1,375.32 L461.6,375.35 L462.1,375.38 L462.6,375.41 L463.1,375.44 L463.6,375.46 L464.1,375.49 L464.6,375.51 L465.1,375.53 L465.6,375.55 L466.1,375.57 L466.6,375.59 L467.1,375.61 L467.6,375.63 L468.1,375.64 L468.6,375.66 L469.1,375.67 L469.6,375.68 L470.1,375.7 L470.6,375.71 L471.1,375.72 L471.6,375.73 L472.1,375.74 L472.6,375.75 L473.1,375.76 L473.6,375.77 L474.1,375.78 L474.6,375.78 L475.1,375.79 L475.6,375.8 L476.1,375.81 L476.6,375.81 L477.1,375.82 L477.6,375.82 L478.1,375.83 L478.6,375.83 L479.1,375.84 L479.6,375.84 L480.1,375.84 L480.6,375.85 L481.1,375.85 L481.6,375.85 L482.1,375.86 L482.6,375.86 L483.1,375.86 L483.6,375.87 L484.1,375.87 L484.6,375.87 L485.1,375.87 L485.6,375.87 L486.1,375.88 L486.6,375.88 L487.1,375.88 L487.6,375.88 L488.1,375.88 L488.6,375.88" fill="none" stroke="#c8283a" stroke-width="0.6"/>
<path d="M330,375.9 L330,375.88 L330.25,375.88 L330.5,375.88 L330.75,375.88 L331,375.88 L331.25,375.88 L331.5,375.88 L331.75,375.88 L332,375.88 L332.25,375.88 L332.5,375.88 L332.75,375.88 L333,375.88 L333.25,375.88 L333.5,375.88 L333.75,375.88 L334,375.88 L334.25,375.88 L334.5,375.88 L334.75,375.88 L335,375.88 L335.25,375.88 L335.5,375.88 L335.75,375.88 L336,375.88 L336.25,375.88 L336.5,375.88 L336.75,375.88 L337,375.88 L337.25,375.88 L337.5,375.88 L337.75,375.88 L338,375.88 L338.25,375.88 L338.5,375.88 L338.75,375.88 L339,375.88 L339.25,375.88 L339.5,375.88 L339.75,375.88 L340,375.88 L340.25,375.88 L340.5,375.88 L340.75,375.88 L341,375.88 L341.25,375.88 L341.5,375.88 L341.75,375.88 L342,375.88 L342.25,375.88 L342.5,375.88 L342.75,375.88 L343,375.88 L343.25,375.88 L343.5,375.88 L343.75,375.88 L344,375.88 L344.25,375.88 L344.5,375.88 L344.75,375.88 L345,375.88 L345.25,375.88 L345.5,375.88 L345.75,375.88 L346,375.88 L346.25,375.88 L346.5,375.88 L346.75,375.88 L347,375.88 L347.25,375.88 L347.5,375.88 L347.75,375.88 L348,375.88 L348.25,375.87 L348.5,375.87 L348.75,375.87 L349,375.87 L349.25,375.87 L349.5,375.87 L349.75,375.87 L350,375.87 L350.25,375.87 L350.5,375.87 L350.75,375.87 L351,375.87 L351.25,375.87 L351.5,375.87 L351.75,375.87 L352,375.87 L352.25,375.87 L352.5,375.87 L352.75,375.87 L353,375.87 L353.25,375.87 L353.5,375.87 L353.75,375.87 L354,375.87 L354.25,375.87 L354.5,375.87 L354.75,375.87 L355,375.87 L355.25,375.87 L355.5,375.87 L355.75,375.87 L356,375.87 L356.25,375.87 L356.5,375.87 L356.75,375.87 L357,375.87 L357.25,375.87 L357.5,375.87 L357.75,375.87 L358,375.87 L358.25,375.87 L358.5,375.86 L358.75,375.86 L359,375.86 L359.25,375.86 L359.5,375.86 L359.75,375.86 L360,375.86 L360.25,375.86 L360.5,375.86 L360.75,375.86 L361,375.86 L361.25,375.86 L361.5,375.86 L361.75,375.86 L362,375.86 L362.25,375.86 L362.5,375.86 L362.75,375.86 L363,375.86 L363.25,375.86 L363.5,375.86 L363.75,375.86 L364,375.86 L364.25,375.86 L364.5,375.86 L364.75,375.86 L365,375.85 L365.25,375.85 L365.5,375.85 L365.75,375.85 L366,375.85 L366.25,375.85 L366.5,375.85 L366.75,375.85 L367,375.85 L367.25,375.85 L367.5,375.85 L367.75,375.85 L368,375.85 L368.25,375.85 L368.5,375.85 L368.75,375.85 L369,375.85 L369.25,375.85 L369.5,375.84 L369.75,375.84 L370,375.84 L370.25,375.84 L370.5,375.84 L370.75,375.84 L371,375.84 L371.25,375.84 L371.5,375.84 L371.75,375.84 L372,375.84 L372.25,375.84 L372.5,375.84 L372.75,375.84 L373,375.84 L373.25,375.83 L373.5,375.83 L373.75,375.83 L374,375.83 L374.25,375.83 L374.5,375.83 L374.75,375.83 L375,375.83 L375.25,375.83 L375.5,375.83 L375.75,375.83 L376,375.82 L376.25,375.82 L376.5,375.82 L376.75,375.82 L377,375.82 L377.25,375.82 L377.5,375.82 L377.75,375.82 L378,375.82 L378.25,375.81 L378.5,375.81 L378.75,375.81 L379,375.81 L379.25,375.81 L379.5,375.81 L379.75,375.81 L380,375.81 L380.25,375.8 L380.5,375.8 L380.75,375.8 L381,375.8 L381.25,375.8 L381.5,375.8 L381.75,375.79 L382,375.79 L382.25,375.79 L382.5,375.79 L382.75,375.79 L383,375.79 L383.25,375.78 L383.5,375.78 L383.75,375.78 L384,375.78 L384.25,375.78 L384.5,375.77 L384.75,375.77 L385,375.77 L385.25,375.77 L385.5,375.76 L385.75,375.76 L386,375.76 L386.25,375.76 L386.5,375.75 L386.75,375.75 L387,375.75 L387.25,375.75 L387.5,375.74 L387.75,375.74 L388,375.74 L388.25,375.73 L388.5,375.73 L388.75,375.73 L389,375.72 L389.25,375.72 L389.5,375.72 L389.75,375.71 L390,375.71 L390.25,375.7 L390.5,375.7 L390.75,375.7 L391,375.69 L391.25,375.69 L391.5,375.68 L391.75,375.68 L392,375.67 L392.25,375.67 L392.5,375.66 L392.75,375.66 L393,375.65 L393.25,375.64 L393.5,375.64 L393.75,375.63 L394,375.62 L394.25,375.62 L394.5,375.61 L394.75,375.6 L395,375.59 L395.25,375.59 L395.5,375.58 L395.75,375.57 L396,375.56 L396.25,375.55 L396.5,375.54 L396.75,375.53 L397,375.52 L397.25,375.51 L397.5,375.49 L397.75,375.48 L398,375.47 L398.25,375.45 L398.5,375.44 L398.75,375.42 L399,375.41 L399.25,375.39 L399.5,375.37 L399.75,375.36 L400,375.34 L400.25,375.32 L400.5,375.29 L400.75,375.27 L401,375.25 L401.25,375.22 L401.5,375.19 L401.75,375.17 L402,375.13 L402.25,375.1 L402.5,375.07 L402.75,375.03 L403,374.99 L403.25,374.95 L403.5,374.9 L403.75,374.85 L404,374.79 L404.25,374.73 L404.5,374.66 L404.75,374.59 L405,374.5 L405.25,374.41 L405.5,374.3 L405.75,374.17 L406,374.03 L406.25,373.87 L406.5,373.68 L406.75,373.46 L407,373.22 L407.25,372.93 L407.5,372.6 L407.75,372.23 L408,371.8 L408.25,371.32 L408.5,370.77 L408.75,370.16 L409,369.48 L409.25,368.73 L409.5,367.91 L409.75,367.01 L410,366.05 L410.25,365.02 L410.5,363.94 L410.75,362.81 L411,361.64 L411.25,360.46 L411.5,359.28 L411.75,358.13 L412,357.05 L412.25,356.05 L412.5,355.19 L412.75,354.5 L413,354.01 L413.25,353.74 L413.5,353.72 L413.75,353.94 L414,354.39 L414.25,355.04 L414.5,355.87 L414.75,356.84 L415,357.91 L415.25,359.05 L415.5,360.22 L415.75,361.4 L416,362.57 L416.25,363.71 L416.5,364.81 L416.75,365.85 L417,366.82 L417.25,367.73 L417.5,368.57 L417.75,369.33 L418,370.03 L418.25,370.65 L418.5,371.21 L418.75,371.71 L419,372.15 L419.25,372.53 L419.5,372.87 L419.75,373.16 L420,373.42 L420.25,373.64 L420.5,373.83 L420.75,374 L421,374.15 L421.25,374.27 L421.5,374.39 L421.75,374.48 L422,374.57 L422.25,374.65 L422.5,374.72 L422.75,374.78 L423,374.84 L423.25,374.89 L423.5,374.94 L423.75,374.98 L424,375.02 L424.25,375.06 L424.5,375.1 L424.75,375.13 L425,375.16 L425.25,375.19 L425.5,375.22 L425.75,375.24 L426,375.27 L426.25,375.29 L426.5,375.31 L426.75,375.33 L427,375.35 L427.25,375.37 L427.5,375.39 L427.75,375.41 L428,375.42 L428.25,375.44 L428.5,375.45 L428.75,375.47 L429,375.48 L429.25,375.49 L429.5,375.5 L429.75,375.51 L430,375.53 L430.25,375.54 L430.5,375.55 L430.75,375.56 L431,375.57 L431.25,375.58 L431.5,375.58 L431.75,375.59 L432,375.6 L432.25,375.61 L432.5,375.62 L432.75,375.62 L433,375.63 L433.25,375.64 L433.5,375.64 L433.75,375.65 L434,375.65 L434.25,375.66 L434.5,375.67 L434.75,375.67 L435,375.68 L435.25,375.68 L435.5,375.69 L435.75,375.69 L436,375.7 L436.25,375.7 L436.5,375.7 L436.75,375.71 L437,375.71 L437.25,375.72 L437.5,375.72 L437.75,375.72 L438,375.73 L438.25,375.73 L438.5,375.73 L438.75,375.74 L439,375.74 L439.25,375.74 L439.5,375.75 L439.75,375.75 L440,375.75 L440.25,375.75 L440.5,375.76 L440.75,375.76 L441,375.76 L441.25,375.76 L441.5,375.77 L441.75,375.77 L442,375.77 L442.25,375.77 L442.5,375.78 L442.75,375.78 L443,375.78 L443.25,375.78 L443.5,375.78 L443.75,375.79 L444,375.79 L444.25,375.79 L444.5,375.79 L444.75,375.79 L445,375.79 L445.25,375.8 L445.5,375.8 L445.75,375.8 L446,375.8 L446.25,375.8 L446.5,375.8 L446.75,375.8 L447,375.81 L447.25,375.81 L447.5,375.81 L447.75,375.81 L448,375.81 L448.25,375.81 L448.5,375.81 L448.75,375.82 L449,375.82 L449.25,375.82 L449.5,375.82 L449.75,375.82 L450,375.82 L450.25,375.82 L450.5,375.82 L450.75,375.82 L451,375.83 L451.25,375.83 L451.5,375.83 L451.75,375.83 L452,375.83 L452.25,375.83 L452.5,375.83 L452.75,375.83 L453,375.83 L453.25,375.83 L453.5,375.83 L453.75,375.83 L454,375.84 L454.25,375.84 L454.5,375.84 L454.75,375.84 L455,375.84 L455.25,375.84 L455.5,375.84 L455.75,375.84 L456,375.84 L456.25,375.84 L456.5,375.84 L456.75,375.84 L457,375.84 L457.25,375.84 L457.5,375.85 L457.75,375.85 L458,375.85 L458.25,375.85 L458.5,375.85 L458.75,375.85 L459,375.85 L459.25,375.85 L459.5,375.85 L459.75,375.85 L460,375.85 L460.25,375.85 L460.5,375.85 L460.75,375.85 L461,375.85 L461.25,375.85 L461.5,375.85 L461.75,375.85 L462,375.86 L462.25,375.86 L462.5,375.86 L462.75,375.86 L463,375.86 L463.25,375.86 L463.5,375.86 L463.75,375.86 L464,375.86 L464.25,375.86 L464.5,375.86 L464.75,375.86 L465,375.86 L465.25,375.86 L465.5,375.86 L465.75,375.86 L466,375.86 L466.25,375.86 L466.5,375.86 L466.75,375.86 L467,375.86 L467.25,375.86 L467.5,375.86 L467.75,375.86 L468,375.86 L468.25,375.86 L468.5,375.86 L468.75,375.87 L469,375.87 L469.25,375.87 L469.5,375.87 L469.75,375.87 L470,375.87 L470.25,375.87 L470.5,375.87 L470.75,375.87 L471,375.87 L471.25,375.87 L471.5,375.87 L471.75,375.87 L472,375.87 L472.25,375.87 L472.5,375.87 L472.75,375.87 L473,375.87 L473.25,375.87 L473.5,375.87 L473.75,375.87 L474,375.87 L474.25,375.87 L474.5,375.87 L474.75,375.87 L475,375.87 L475.25,375.87 L475.5,375.87 L475.75,375.87 L476,375.87 L476.25,375.87 L476.5,375.87 L476.75,375.87 L477,375.87 L477.25,375.87 L477.5,375.87 L477.75,375.87 L478,375.87 L478.25,375.87 L478.5,375.87 L478.75,375.88 L479,375.88 L479.25,375.88 L479.5,375.88 L479.75,375.88 L480,375.88 L480.25,375.88 L480.5,375.88 L480.75,375.88 L481,375.88 L481.25,375.88 L481.5,375.88 L481.75,375.88 L482,375.88 L482.25,375.88 L482.5,375.88 L482.75,375.88 L483,375.88 L483.25,375.88 L483.5,375.88 L483.75,375.88 L484,375.88 L484.25,375.88 L484.5,375.88 L484.75,375.88 L485,375.88 L485.25,375.88 L485.5,375.88 L485.75,375.88 L486,375.88 L486.25,375.88 L486.5,375.88 L486.75,375.88 L487,375.88 L487.25,375.88 L487.5,375.88 L487.75,375.88 L488,375.88 L488.25,375.88 L488.5,375.88 L488.7,375.9 Z" fill="#5bc4ee"/>
<path d="M330,375.88 L330.25,375.88 L330.5,375.88 L330.75,375.88 L331,375.88 L331.25,375.88 L331.5,375.88 L331.75,375.88 L332,375.88 L332.25,375.88 L332.5,375.88 L332.75,375.88 L333,375.88 L333.25,375.88 L333.5,375.88 L333.75,375.88 L334,375.88 L334.25,375.88 L334.5,375.88 L334.75,375.88 L335,375.88 L335.25,375.88 L335.5,375.88 L335.75,375.88 L336,375.88 L336.25,375.88 L336.5,375.88 L336.75,375.88 L337,375.88 L337.25,375.88 L337.5,375.88 L337.75,375.88 L338,375.88 L338.25,375.88 L338.5,375.88 L338.75,375.88 L339,375.88 L339.25,375.88 L339.5,375.88 L339.75,375.88 L340,375.88 L340.25,375.88 L340.5,375.88 L340.75,375.88 L341,375.88 L341.25,375.88 L341.5,375.88 L341.75,375.88 L342,375.88 L342.25,375.88 L342.5,375.88 L342.75,375.88 L343,375.88 L343.25,375.88 L343.5,375.88 L343.75,375.88 L344,375.88 L344.25,375.88 L344.5,375.88 L344.75,375.88 L345,375.88 L345.25,375.88 L345.5,375.88 L345.75,375.88 L346,375.88 L346.25,375.88 L346.5,375.88 L346.75,375.88 L347,375.88 L347.25,375.88 L347.5,375.88 L347.75,375.88 L348,375.88 L348.25,375.87 L348.5,375.87 L348.75,375.87 L349,375.87 L349.25,375.87 L349.5,375.87 L349.75,375.87 L350,375.87 L350.25,375.87 L350.5,375.87 L350.75,375.87 L351,375.87 L351.25,375.87 L351.5,375.87 L351.75,375.87 L352,375.87 L352.25,375.87 L352.5,375.87 L352.75,375.87 L353,375.87 L353.25,375.87 L353.5,375.87 L353.75,375.87 L354,375.87 L354.25,375.87 L354.5,375.87 L354.75,375.87 L355,375.87 L355.25,375.87 L355.5,375.87 L355.75,375.87 L356,375.87 L356.25,375.87 L356.5,375.87 L356.75,375.87 L357,375.87 L357.25,375.87 L357.5,375.87 L357.75,375.87 L358,375.87 L358.25,375.87 L358.5,375.86 L358.75,375.86 L359,375.86 L359.25,375.86 L359.5,375.86 L359.75,375.86 L360,375.86 L360.25,375.86 L360.5,375.86 L360.75,375.86 L361,375.86 L361.25,375.86 L361.5,375.86 L361.75,375.86 L362,375.86 L362.25,375.86 L362.5,375.86 L362.75,375.86 L363,375.86 L363.25,375.86 L363.5,375.86 L363.75,375.86 L364,375.86 L364.25,375.86 L364.5,375.86 L364.75,375.86 L365,375.85 L365.25,375.85 L365.5,375.85 L365.75,375.85 L366,375.85 L366.25,375.85 L366.5,375.85 L366.75,375.85 L367,375.85 L367.25,375.85 L367.5,375.85 L367.75,375.85 L368,375.85 L368.25,375.85 L368.5,375.85 L368.75,375.85 L369,375.85 L369.25,375.85 L369.5,375.84 L369.75,375.84 L370,375.84 L370.25,375.84 L370.5,375.84 L370.75,375.84 L371,375.84 L371.25,375.84 L371.5,375.84 L371.75,375.84 L372,375.84 L372.25,375.84 L372.5,375.84 L372.75,375.84 L373,375.84 L373.25,375.83 L373.5,375.83 L373.75,375.83 L374,375.83 L374.25,375.83 L374.5,375.83 L374.75,375.83 L375,375.83 L375.25,375.83 L375.5,375.83 L375.75,375.83 L376,375.82 L376.25,375.82 L376.5,375.82 L376.75,375.82 L377,375.82 L377.25,375.82 L377.5,375.82 L377.75,375.82 L378,375.82 L378.25,375.81 L378.5,375.81 L378.75,375.81 L379,375.81 L379.25,375.81 L379.5,375.81 L379.75,375.81 L380,375.81 L380.25,375.8 L380.5,375.8 L380.75,375.8 L381,375.8 L381.25,375.8 L381.5,375.8 L381.75,375.79 L382,375.79 L382.25,375.79 L382.5,375.79 L382.75,375.79 L383,375.79 L383.25,375.78 L383.5,375.78 L383.75,375.78 L384,375.78 L384.25,375.78 L384.5,375.77 L384.75,375.77 L385,375.77 L385.25,375.77 L385.5,375.76 L385.75,375.76 L386,375.76 L386.25,375.76 L386.5,375.75 L386.75,375.75 L387,375.75 L387.25,375.75 L387.5,375.74 L387.75,375.74 L388,375.74 L388.25,375.73 L388.5,375.73 L388.75,375.73 L389,375.72 L389.25,375.72 L389.5,375.72 L389.75,375.71 L390,375.71 L390.25,375.7 L390.5,375.7 L390.75,375.7 L391,375.69 L391.25,375.69 L391.5,375.68 L391.75,375.68 L392,375.67 L392.25,375.67 L392.5,375.66 L392.75,375.66 L393,375.65 L393.25,375.64 L393.5,375.64 L393.75,375.63 L394,375.62 L394.25,375.62 L394.5,375.61 L394.75,375.6 L395,375.59 L395.25,375.59 L395.5,375.58 L395.75,375.57 L396,375.56 L396.25,375.55 L396.5,375.54 L396.75,375.53 L397,375.52 L397.25,375.51 L397.5,375.49 L397.75,375.48 L398,375.47 L398.25,375.45 L398.5,375.44 L398.75,375.42 L399,375.41 L399.25,375.39 L399.5,375.37 L399.75,375.36 L400,375.34 L400.25,375.32 L400.5,375.29 L400.75,375.27 L401,375.25 L401.25,375.22 L401.5,375.19 L401.75,375.17 L402,375.13 L402.25,375.1 L402.5,375.07 L402.75,375.03 L403,374.99 L403.25,374.95 L403.5,374.9 L403.75,374.85 L404,374.79 L404.25,374.73 L404.5,374.66 L404.75,374.59 L405,374.5 L405.25,374.41 L405.5,374.3 L405.75,374.17 L406,374.03 L406.25,373.87 L406.5,373.68 L406.75,373.46 L407,373.22 L407.25,372.93 L407.5,372.6 L407.75,372.23 L408,371.8 L408.25,371.32 L408.5,370.77 L408.75,370.16 L409,369.48 L409.25,368.73 L409.5,367.91 L409.75,367.01 L410,366.05 L410.25,365.02 L410.5,363.94 L410.75,362.81 L411,361.64 L411.25,360.46 L411.5,359.28 L411.75,358.13 L412,357.05 L412.25,356.05 L412.5,355.19 L412.75,354.5 L413,354.01 L413.25,353.74 L413.5,353.72 L413.75,353.94 L414,354.39 L414.25,355.04 L414.5,355.87 L414.75,356.84 L415,357.91 L415.25,359.05 L415.5,360.22 L415.75,361.4 L416,362.57 L416.25,363.71 L416.5,364.81 L416.75,365.85 L417,366.82 L417.25,367.73 L417.5,368.57 L417.75,369.33 L418,370.03 L418.25,370.65 L418.5,371.21 L418.75,371.71 L419,372.15 L419.25,372.53 L419.5,372.87 L419.75,373.16 L420,373.42 L420.25,373.64 L420.5,373.83 L420.75,374 L421,374.15 L421.25,374.27 L421.5,374.39 L421.75,374.48 L422,374.57 L422.25,374.65 L422.5,374.72 L422.75,374.78 L423,374.84 L423.25,374.89 L423.5,374.94 L423.75,374.98 L424,375.02 L424.25,375.06 L424.5,375.1 L424.75,375.13 L425,375.16 L425.25,375.19 L425.5,375.22 L425.75,375.24 L426,375.27 L426.25,375.29 L426.5,375.31 L426.75,375.33 L427,375.35 L427.25,375.37 L427.5,375.39 L427.75,375.41 L428,375.42 L428.25,375.44 L428.5,375.45 L428.75,375.47 L429,375.48 L429.25,375.49 L429.5,375.5 L429.75,375.51 L430,375.53 L430.25,375.54 L430.5,375.55 L430.75,375.56 L431,375.57 L431.25,375.58 L431.5,375.58 L431.75,375.59 L432,375.6 L432.25,375.61 L432.5,375.62 L432.75,375.62 L433,375.63 L433.25,375.64 L433.5,375.64 L433.75,375.65 L434,375.65 L434.25,375.66 L434.5,375.67 L434.75,375.67 L435,375.68 L435.25,375.68 L435.5,375.69 L435.75,375.69 L436,375.7 L436.25,375.7 L436.5,375.7 L436.75,375.71 L437,375.71 L437.25,375.72 L437.5,375.72 L437.75,375.72 L438,375.73 L438.25,375.73 L438.5,375.73 L438.75,375.74 L439,375.74 L439.25,375.74 L439.5,375.75 L439.75,375.75 L440,375.75 L440.25,375.75 L440.5,375.76 L440.75,375.76 L441,375.76 L441.25,375.76 L441.5,375.77 L441.75,375.77 L442,375.77 L442.25,375.77 L442.5,375.78 L442.75,375.78 L443,375.78 L443.25,375.78 L443.5,375.78 L443.75,375.79 L444,375.79 L444.25,375.79 L444.5,375.79 L444.75,375.79 L445,375.79 L445.25,375.8 L445.5,375.8 L445.75,375.8 L446,375.8 L446.25,375.8 L446.5,375.8 L446.75,375.8 L447,375.81 L447.25,375.81 L447.5,375.81 L447.75,375.81 L448,375.81 L448.25,375.81 L448.5,375.81 L448.75,375.82 L449,375.82 L449.25,375.82 L449.5,375.82 L449.75,375.82 L450,375.82 L450.25,375.82 L450.5,375.82 L450.75,375.82 L451,375.83 L451.25,375.83 L451.5,375.83 L451.75,375.83 L452,375.83 L452.25,375.83 L452.5,375.83 L452.75,375.83 L453,375.83 L453.25,375.83 L453.5,375.83 L453.75,375.83 L454,375.84 L454.25,375.84 L454.5,375.84 L454.75,375.84 L455,375.84 L455.25,375.84 L455.5,375.84 L455.75,375.84 L456,375.84 L456.25,375.84 L456.5,375.84 L456.75,375.84 L457,375.84 L457.25,375.84 L457.5,375.85 L457.75,375.85 L458,375.85 L458.25,375.85 L458.5,375.85 L458.75,375.85 L459,375.85 L459.25,375.85 L459.5,375.85 L459.75,375.85 L460,375.85 L460.25,375.85 L460.5,375.85 L460.75,375.85 L461,375.85 L461.25,375.85 L461.5,375.85 L461.75,375.85 L462,375.86 L462.25,375.86 L462.5,375.86 L462.75,375.86 L463,375.86 L463.25,375.86 L463.5,375.86 L463.75,375.86 L464,375.86 L464.25,375.86 L464.5,375.86 L464.75,375.86 L465,375.86 L465.25,375.86 L465.5,375.86 L465.75,375.86 L466,375.86 L466.25,375.86 L466.5,375.86 L466.75,375.86 L467,375.86 L467.25,375.86 L467.5,375.86 L467.75,375.86 L468,375.86 L468.25,375.86 L468.5,375.86 L468.75,375.87 L469,375.87 L469.25,375.87 L469.5,375.87 L469.75,375.87 L470,375.87 L470.25,375.87 L470.5,375.87 L470.75,375.87 L471,375.87 L471.25,375.87 L471.5,375.87 L471.75,375.87 L472,375.87 L472.25,375.87 L472.5,375.87 L472.75,375.87 L473,375.87 L473.25,375.87 L473.5,375.87 L473.75,375.87 L474,375.87 L474.25,375.87 L474.5,375.87 L474.75,375.87 L475,375.87 L475.25,375.87 L475.5,375.87 L475.75,375.87 L476,375.87 L476.25,375.87 L476.5,375.87 L476.75,375.87 L477,375.87 L477.25,375.87 L477.5,375.87 L477.75,375.87 L478,375.87 L478.25,375.87 L478.5,375.87 L478.75,375.88 L479,375.88 L479.25,375.88 L479.5,375.88 L479.75,375.88 L480,375.88 L480.25,375.88 L480.5,375.88 L480.75,375.88 L481,375.88 L481.25,375.88 L481.5,375.88 L481.75,375.88 L482,375.88 L482.25,375.88 L482.5,375.88 L482.75,375.88 L483,375.88 L483.25,375.88 L483.5,375.88 L483.75,375.88 L484,375.88 L484.25,375.88 L484.5,375.88 L484.75,375.88 L485,375.88 L485.25,375.88 L485.5,375.88 L485.75,375.88 L486,375.88 L486.25,375.88 L486.5,375.88 L486.75,375.88 L487,375.88 L487.25,375.88 L487.5,375.88 L487.75,375.88 L488,375.88 L488.25,375.88 L488.5,375.88" fill="none" stroke="#2f86b8" stroke-width="0.6"/>
<path d="M274.1,375.9H488.7" stroke="#3a7fae" stroke-width="0.8"/>
<path d="M274.2,344.7 L275.46,344.16 L276.65,343.97 L278.53,346.43 L279.78,343.24 L280.98,344 L282.87,341.3 L284.64,344.36 L286.25,343.47 L288.09,345.1 L289.75,343.46 L291.23,343.91 L293.05,346.22 L294.92,345.1 L296.74,345.15 L298.32,344.95 L299.65,349.45 L300.74,346.39 L302.27,347.01 L304.22,344.8 L305.45,343.28 L306.82,343.07 L308.37,346.54 L309.48,343.86 L311.08,346.34 L312.29,342.78 L313.97,345.29 L315.68,349.31 L316.99,344.51 L318.41,346.71 L320.2,343.24 L321.65,342.13 L323.56,341.28 L324.65,343.03 L326.03,343.81 L327.96,343.17 L329.07,339.67 L330.73,338.2 L332.22,339.73 L333.38,335.59 L334.8,334.59 L336.06,331.94 L337.49,333.56 L339.29,330.53 L340.57,331.03 L341.83,327.86 L342.93,333.32 L344.87,327.7 L346.51,324.93 L348,324.32 L349.84,324.45 L351.19,319.54 L352.82,313.04 L354.46,314.3 L356.34,310.55 L358.26,306.46 L359.35,303.25 L361.27,304.84 L362.47,297.83 L364.2,298.43 L365.25,296.36 L367.09,297.84 L368.84,293.85 L370.68,291.88 L372.03,292.98 L373.5,296.31 L374.59,293.66 L376.41,295.99 L377.79,290.31 L378.85,292.72 L379.98,290.69 L381.73,291.37 L383.22,287.71 L384.38,293.44 L385.89,293.49 L387.64,291.26 L388.86,290.05 L390.29,294.74 L392.13,294.42 L393.62,294.69 L395.49,288.64 L396.82,296.54 L398.51,301.13 L399.78,301.37 L401.52,296.34 L403.18,303.99 L405.05,303.73 L406.38,307.38 L407.98,306.58 L409.72,301.34 L410.89,297.74 L412.67,293.4 L414.06,293.6 L415.67,304.37 L417.56,305.35 L418.9,311.91 L419.97,313.19 L421.74,319.53 L422.93,321.78 L424.5,323.38 L426.42,327.9 L428.08,326.55 L429.88,330.59 L431.29,332.02 L432.98,331.62 L434.32,335.29 L436.18,339.29 L437.97,339.26 L439.03,338.41 L440.7,336.36 L442.61,342.41 L443.72,342.12 L445.6,341.27 L446.73,343.22 L448.61,342.34 L449.8,344.88 L451.7,342.29 L453.36,344.25 L454.65,344.76 L455.79,343.89 L456.95,344.84 L458.26,346.78 L459.97,343.5 L461.81,343.25 L463.48,345.41 L464.98,342.58 L466.47,344.69 L468.31,344.39 L469.97,344.43 L471.37,342.79 L473.21,344.89 L474.39,345.55 L476.18,345.14 L477.66,347.41 L479.46,343.73 L481.34,346.62 L483.15,342.81 L484.3,346.52 L485.2,346.5" fill="none" stroke="#2a2a2a" stroke-width="0.8" stroke-linejoin="round"/>
<path d="M268.7,392.1H488.84" stroke="#555" stroke-width="0.8" fill="none"/>
<path d="M268.7,392.1v4" stroke="#555" stroke-width="0.8"/>
<text x="268.7" y="407.8" text-anchor="middle" font-size="10">12,000</text>
<path d="M293.16,392.1v2.6" stroke="#555" stroke-width="0.8"/>
<path d="M317.62,392.1v4" stroke="#555" stroke-width="0.8"/>
<text x="317.62" y="407.8" text-anchor="middle" font-size="10">8,000</text>
<path d="M342.08,392.1v2.6" stroke="#555" stroke-width="0.8"/>
<path d="M366.54,392.1v4" stroke="#555" stroke-width="0.8"/>
<text x="366.54" y="407.8" text-anchor="middle" font-size="10">4,000</text>
<path d="M391,392.1v2.6" stroke="#555" stroke-width="0.8"/>
<path d="M415.46,392.1v4" stroke="#555" stroke-width="0.8"/>
<text x="415.46" y="407.8" text-anchor="middle" font-size="10">0</text>
<path d="M439.92,392.1v2.6" stroke="#555" stroke-width="0.8"/>
<path d="M464.38,392.1v4" stroke="#555" stroke-width="0.8"/>
<text x="464.38" y="407.8" text-anchor="middle" font-size="10">–4,000</text>
<path d="M488.84,392.1v2.6" stroke="#555" stroke-width="0.8"/>
<text x="378.7" y="427.7" text-anchor="middle" font-size="11">δ<tspan font-size="7.5" dy="2.5">cg</tspan><tspan dy="-2.5"> (</tspan><tspan font-size="7" dy="-4">17</tspan><tspan dy="4">O (ppm))</tspan></text>
<text x="194.1" y="67.4" font-size="10.8"><tspan>TM</tspan><tspan dx="-0.4">–</tspan><tspan dx="-0.4">O</tspan><tspan font-size="7.8" dy="-4.6">2</tspan><tspan font-size="6.6" dx="0.2" dy="-0.6">–</tspan></text>
<text x="214.9" y="88.8" font-size="10.8">O<tspan font-size="7.2" dy="2.5">2</tspan></text>
<path d="M193.4,76.1L157.62,126.04" stroke="#111" stroke-width="0.85" fill="none"/><path d="M155,129.7L156.41,123.95L159.99,126.51Z" fill="#111"/>
<path d="M214.9,94.6L173.12,152.94" stroke="#111" stroke-width="0.85" fill="none"/><path d="M170.5,156.6L171.91,150.85L175.49,153.41Z" fill="#111"/>
<text x="449.9" y="95.9" font-size="10.8"><tspan>TM</tspan><tspan dx="-0.4">–</tspan><tspan dx="-0.4">O</tspan><tspan font-size="7.8" dy="-4.6">2</tspan><tspan font-size="6.6" dx="0.2" dy="-0.6">–</tspan></text>
<path d="M449.9,99.9L421.57,134.04" stroke="#111" stroke-width="0.85" fill="none"/><path d="M418.7,137.5L420.52,131.86L423.91,134.67Z" fill="#111"/>
<text x="457.6" y="304.6" font-size="10.8">Li-O<tspan font-size="7.8" dy="-4.6">2</tspan><tspan font-size="6.6" dx="0.2" dy="-0.6">–</tspan></text>
<path d="M457.6,312.4L421.32,362.94" stroke="#111" stroke-width="0.85" fill="none"/><path d="M418.7,366.6L420.12,360.85L423.69,363.41Z" fill="#111"/>
<g clip-path="url(#ct)">
<circle cx="486.31" cy="9.75" r="3.08" fill="url(#rg)"/>
<circle cx="511.28" cy="-5.18" r="3.08" fill="url(#rg)"/>
<circle cx="511.28" cy="24.67" r="3.08" fill="url(#rg)"/>
<circle cx="486.31" cy="39.6" r="3.08" fill="url(#rg)"/>
<circle cx="511.28" cy="54.52" r="3.08" fill="url(#rg)"/>
<circle cx="486.31" cy="69.45" r="3.08" fill="url(#rg)"/>
<circle cx="511.28" cy="84.38" r="3.08" fill="url(#rg)"/>
<circle cx="486.31" cy="99.3" r="3.08" fill="url(#rg)"/>
<circle cx="511.28" cy="114.22" r="3.08" fill="url(#rg)"/>
<circle cx="486.31" cy="129.15" r="3.08" fill="url(#rg)"/>
<circle cx="511.28" cy="144.07" r="3.08" fill="url(#rg)"/>
<circle cx="486.31" cy="159" r="3.08" fill="url(#rg)"/>
<circle cx="511.28" cy="173.93" r="3.08" fill="url(#rg)"/>
<circle cx="486.31" cy="188.85" r="3.08" fill="url(#rg)"/>
<circle cx="511.28" cy="203.78" r="3.08" fill="url(#rg)"/>
<circle cx="486.31" cy="218.7" r="3.08" fill="url(#rg)"/>
<circle cx="511.28" cy="233.62" r="3.08" fill="url(#rg)"/>
<circle cx="536.25" cy="-20.1" r="3.08" fill="url(#rg)"/>
<circle cx="536.25" cy="9.75" r="3.08" fill="url(#rg)"/>
<circle cx="536.25" cy="39.6" r="3.08" fill="url(#rg)"/>
<circle cx="536.25" cy="69.45" r="3.08" fill="url(#rg)"/>
<circle cx="536.25" cy="99.3" r="3.08" fill="url(#rg)"/>
<circle cx="536.25" cy="129.15" r="3.08" fill="url(#rg)"/>
<circle cx="536.25" cy="159" r="3.08" fill="url(#rg)"/>
<circle cx="536.25" cy="188.85" r="3.08" fill="url(#rg)"/>
<circle cx="536.25" cy="218.7" r="3.08" fill="url(#rg)"/>
<circle cx="536.25" cy="248.55" r="3.08" fill="url(#rg)"/>
<circle cx="561.22" cy="-5.18" r="3.08" fill="url(#rg)"/>
<circle cx="561.22" cy="24.67" r="3.08" fill="url(#rg)"/>
<circle cx="561.22" cy="54.52" r="3.08" fill="url(#rg)"/>
<circle cx="536.25" cy="69.45" r="3.08" fill="url(#rg)"/>
<circle cx="561.22" cy="84.38" r="3.08" fill="url(#rg)"/>
<circle cx="561.22" cy="173.93" r="3.08" fill="url(#rg)"/>
<circle cx="561.22" cy="203.78" r="3.08" fill="url(#rg)"/>
<circle cx="561.22" cy="233.62" r="3.08" fill="url(#rg)"/>
<circle cx="586.19" cy="-20.1" r="3.08" fill="url(#rg)"/>
<circle cx="586.19" cy="9.75" r="3.08" fill="url(#rg)"/>
<circle cx="586.19" cy="39.6" r="3.08" fill="url(#rg)"/>
<circle cx="586.19" cy="69.45" r="3.08" fill="url(#rg)"/>
<circle cx="586.19" cy="159" r="3.08" fill="url(#rg)"/>
<circle cx="586.19" cy="188.85" r="3.08" fill="url(#rg)"/>
<circle cx="586.19" cy="218.7" r="3.08" fill="url(#rg)"/>
<circle cx="586.19" cy="248.55" r="3.08" fill="url(#rg)"/>
<circle cx="611.16" cy="-5.18" r="3.08" fill="url(#rg)"/>
<circle cx="611.16" cy="24.67" r="3.08" fill="url(#rg)"/>
<circle cx="611.16" cy="54.52" r="3.08" fill="url(#rg)"/>
<circle cx="611.16" cy="173.93" r="3.08" fill="url(#rg)"/>
<circle cx="611.16" cy="203.78" r="3.08" fill="url(#rg)"/>
<circle cx="611.16" cy="233.62" r="3.08" fill="url(#rg)"/>
<circle cx="636.13" cy="-20.1" r="3.08" fill="url(#rg)"/>
<circle cx="636.13" cy="9.75" r="3.08" fill="url(#rg)"/>
<circle cx="636.13" cy="159" r="3.08" fill="url(#rg)"/>
<circle cx="636.13" cy="188.85" r="3.08" fill="url(#rg)"/>
<circle cx="636.13" cy="218.7" r="3.08" fill="url(#rg)"/>
<circle cx="636.13" cy="248.55" r="3.08" fill="url(#rg)"/>
<circle cx="661.1" cy="-5.18" r="3.08" fill="url(#rg)"/>
<circle cx="661.1" cy="24.67" r="3.08" fill="url(#rg)"/>
<circle cx="636.13" cy="39.6" r="3.08" fill="url(#rg)"/>
<circle cx="661.1" cy="54.52" r="3.08" fill="url(#rg)"/>
<circle cx="636.13" cy="69.45" r="3.08" fill="url(#rg)"/>
<circle cx="661.1" cy="84.38" r="3.08" fill="url(#rg)"/>
<circle cx="661.1" cy="144.07" r="3.08" fill="url(#rg)"/>
<circle cx="661.1" cy="173.93" r="3.08" fill="url(#rg)"/>
<circle cx="661.1" cy="203.78" r="3.08" fill="url(#rg)"/>
<circle cx="661.1" cy="233.62" r="3.08" fill="url(#rg)"/>
<circle cx="686.07" cy="-20.1" r="3.08" fill="url(#rg)"/>
<circle cx="686.07" cy="9.75" r="3.08" fill="url(#rg)"/>
<circle cx="686.07" cy="39.6" r="3.08" fill="url(#rg)"/>
<circle cx="686.07" cy="69.45" r="3.08" fill="url(#rg)"/>
<circle cx="686.07" cy="99.3" r="3.08" fill="url(#rg)"/>
<circle cx="661.1" cy="114.22" r="3.08" fill="url(#rg)"/>
<circle cx="686.07" cy="129.15" r="3.08" fill="url(#rg)"/>
<circle cx="686.07" cy="159" r="3.08" fill="url(#rg)"/>
<circle cx="686.07" cy="188.85" r="3.08" fill="url(#rg)"/>
<circle cx="686.07" cy="218.7" r="3.08" fill="url(#rg)"/>
<circle cx="686.07" cy="248.55" r="3.08" fill="url(#rg)"/>
<path d="M494.63,-5.18L519.6,9.75L511.28,-5.18Z" fill="#5a1560" stroke="#3a0a3c" stroke-width="0.25"/>
<path d="M494.63,24.67L519.6,9.75L511.28,24.67Z" fill="#621a68" stroke="#3a0a3c" stroke-width="0.25"/>
<path d="M494.63,24.67L519.6,39.6L511.28,24.67Z" fill="#5a1560" stroke="#3a0a3c" stroke-width="0.25"/>
<path d="M494.63,54.52L519.6,39.6L511.28,54.52Z" fill="#621a68" stroke="#3a0a3c" stroke-width="0.25"/>
<path d="M494.63,54.52L519.6,69.45L511.28,54.52Z" fill="#5a1560" stroke="#3a0a3c" stroke-width="0.25"/>
<path d="M494.63,84.38L519.6,69.45L511.28,84.38Z" fill="#621a68" stroke="#3a0a3c" stroke-width="0.25"/>
<path d="M494.63,84.38L519.6,99.3L511.28,84.38Z" fill="#5a1560" stroke="#3a0a3c" stroke-width="0.25"/>
<path d="M494.63,114.22L519.6,99.3L511.28,114.22Z" fill="#621a68" stroke="#3a0a3c" stroke-width="0.25"/>
<path d="M494.63,114.22L519.6,129.15L511.28,114.22Z" fill="#5a1560" stroke="#3a0a3c" stroke-width="0.25"/>
<path d="M494.63,144.07L519.6,129.15L511.28,144.07Z" fill="#621a68" stroke="#3a0a3c" stroke-width="0.25"/>
<path d="M494.63,144.07L519.6,159L511.28,144.07Z" fill="#5a1560" stroke="#3a0a3c" stroke-width="0.25"/>
<path d="M494.63,173.93L519.6,159L511.28,173.93Z" fill="#621a68" stroke="#3a0a3c" stroke-width="0.25"/>
<path d="M494.63,173.93L519.6,188.85L511.28,173.93Z" fill="#5a1560" stroke="#3a0a3c" stroke-width="0.25"/>
<path d="M494.63,203.78L519.6,188.85L511.28,203.78Z" fill="#621a68" stroke="#3a0a3c" stroke-width="0.25"/>
<path d="M494.63,203.78L519.6,218.7L511.28,203.78Z" fill="#5a1560" stroke="#3a0a3c" stroke-width="0.25"/>
<path d="M494.63,233.62L519.6,218.7L511.28,233.62Z" fill="#621a68" stroke="#3a0a3c" stroke-width="0.25"/>
<path d="M519.6,-20.1L544.57,-5.18L536.25,-20.1Z" fill="#5a1560" stroke="#3a0a3c" stroke-width="0.25"/>
<path d="M519.6,9.75L544.57,-5.18L536.25,9.75Z" fill="#621a68" stroke="#3a0a3c" stroke-width="0.25"/>
<path d="M519.6,9.75L544.57,24.67L536.25,9.75Z" fill="#5a1560" stroke="#3a0a3c" stroke-width="0.25"/>
<path d="M519.6,39.6L544.57,24.67L536.25,39.6Z" fill="#621a68" stroke="#3a0a3c" stroke-width="0.25"/>
<path d="M519.6,39.6L544.57,54.52L536.25,39.6Z" fill="#5a1560" stroke="#3a0a3c" stroke-width="0.25"/>
<path d="M519.6,69.45L544.57,54.52L536.25,69.45Z" fill="#621a68" stroke="#3a0a3c" stroke-width="0.25"/>
<path d="M519.6,69.45L544.57,84.38L536.25,69.45Z" fill="#5a1560" stroke="#3a0a3c" stroke-width="0.25"/>
<path d="M519.6,99.3L544.57,84.38L536.25,99.3Z" fill="#621a68" stroke="#3a0a3c" stroke-width="0.25"/>
<path d="M519.6,99.3L544.57,114.22L536.25,99.3Z" fill="#5a1560" stroke="#3a0a3c" stroke-width="0.25"/>
<path d="M519.6,129.15L544.57,114.22L536.25,129.15Z" fill="#621a68" stroke="#3a0a3c" stroke-width="0.25"/>
<path d="M519.6,129.15L544.57,144.07L536.25,129.15Z" fill="#5a1560" stroke="#3a0a3c" stroke-width="0.25"/>
<path d="M519.6,159L544.57,144.07L536.25,159Z" fill="#621a68" stroke="#3a0a3c" stroke-width="0.25"/>
<path d="M519.6,159L544.57,173.93L536.25,159Z" fill="#5a1560" stroke="#3a0a3c" stroke-width="0.25"/>
<path d="M519.6,188.85L544.57,173.93L536.25,188.85Z" fill="#621a68" stroke="#3a0a3c" stroke-width="0.25"/>
<path d="M519.6,188.85L544.57,203.78L536.25,188.85Z" fill="#5a1560" stroke="#3a0a3c" stroke-width="0.25"/>
<path d="M519.6,218.7L544.57,203.78L536.25,218.7Z" fill="#621a68" stroke="#3a0a3c" stroke-width="0.25"/>
<path d="M519.6,218.7L544.57,233.62L536.25,218.7Z" fill="#5a1560" stroke="#3a0a3c" stroke-width="0.25"/>
<path d="M519.6,248.55L544.57,233.62L536.25,248.55Z" fill="#621a68" stroke="#3a0a3c" stroke-width="0.25"/>
<path d="M544.57,-5.18L569.54,9.75L561.22,-5.18Z" fill="#5a1560" stroke="#3a0a3c" stroke-width="0.25"/>
<path d="M544.57,24.67L569.54,9.75L561.22,24.67Z" fill="#621a68" stroke="#3a0a3c" stroke-width="0.25"/>
<path d="M544.57,24.67L569.54,39.6L561.22,24.67Z" fill="#5a1560" stroke="#3a0a3c" stroke-width="0.25"/>
<path d="M544.57,54.52L569.54,39.6L561.22,54.52Z" fill="#621a68" stroke="#3a0a3c" stroke-width="0.25"/>
<path d="M544.57,54.52L569.54,69.45L561.22,54.52Z" fill="#5a1560" stroke="#3a0a3c" stroke-width="0.25"/>
<path d="M544.57,84.38L569.54,69.45L561.22,84.38Z" fill="#621a68" stroke="#3a0a3c" stroke-width="0.25"/>
<path d="M544.57,173.93L569.54,188.85L561.22,173.93Z" fill="#5a1560" stroke="#3a0a3c" stroke-width="0.25"/>
<path d="M544.57,203.78L569.54,188.85L561.22,203.78Z" fill="#621a68" stroke="#3a0a3c" stroke-width="0.25"/>
<path d="M544.57,203.78L569.54,218.7L561.22,203.78Z" fill="#5a1560" stroke="#3a0a3c" stroke-width="0.25"/>
<path d="M544.57,233.62L569.54,218.7L561.22,233.62Z" fill="#621a68" stroke="#3a0a3c" stroke-width="0.25"/>
<path d="M569.54,-20.1L594.51,-5.18L586.19,-20.1Z" fill="#5a1560" stroke="#3a0a3c" stroke-width="0.25"/>
<path d="M569.54,9.75L594.51,-5.18L586.19,9.75Z" fill="#621a68" stroke="#3a0a3c" stroke-width="0.25"/>
<path d="M569.54,39.6L594.51,54.52L586.19,39.6Z" fill="#5a1560" stroke="#3a0a3c" stroke-width="0.25"/>
<path d="M569.54,69.45L594.51,54.52L586.19,69.45Z" fill="#621a68" stroke="#3a0a3c" stroke-width="0.25"/>
<path d="M569.54,159L594.51,173.93L586.19,159Z" fill="#5a1560" stroke="#3a0a3c" stroke-width="0.25"/>
<path d="M569.54,188.85L594.51,173.93L586.19,188.85Z" fill="#621a68" stroke="#3a0a3c" stroke-width="0.25"/>
<path d="M569.54,188.85L594.51,203.78L586.19,188.85Z" fill="#5a1560" stroke="#3a0a3c" stroke-width="0.25"/>
<path d="M569.54,218.7L594.51,203.78L586.19,218.7Z" fill="#621a68" stroke="#3a0a3c" stroke-width="0.25"/>
<path d="M569.54,218.7L594.51,233.62L586.19,218.7Z" fill="#5a1560" stroke="#3a0a3c" stroke-width="0.25"/>
<path d="M569.54,248.55L594.51,233.62L586.19,248.55Z" fill="#621a68" stroke="#3a0a3c" stroke-width="0.25"/>
<path d="M594.51,-5.18L619.48,9.75L611.16,-5.18Z" fill="#5a1560" stroke="#3a0a3c" stroke-width="0.25"/>
<path d="M594.51,24.67L619.48,9.75L611.16,24.67Z" fill="#621a68" stroke="#3a0a3c" stroke-width="0.25"/>
<path d="M594.51,24.67L619.48,39.6L611.16,24.67Z" fill="#5a1560" stroke="#3a0a3c" stroke-width="0.25"/>
<path d="M594.51,54.52L619.48,39.6L611.16,54.52Z" fill="#621a68" stroke="#3a0a3c" stroke-width="0.25"/>
<path d="M594.51,173.93L619.48,188.85L611.16,173.93Z" fill="#5a1560" stroke="#3a0a3c" stroke-width="0.25"/>
<path d="M594.51,203.78L619.48,188.85L611.16,203.78Z" fill="#621a68" stroke="#3a0a3c" stroke-width="0.25"/>
<path d="M594.51,203.78L619.48,218.7L611.16,203.78Z" fill="#5a1560" stroke="#3a0a3c" stroke-width="0.25"/>
<path d="M594.51,233.62L619.48,218.7L611.16,233.62Z" fill="#621a68" stroke="#3a0a3c" stroke-width="0.25"/>
<path d="M619.48,-20.1L644.45,-5.18L636.13,-20.1Z" fill="#5a1560" stroke="#3a0a3c" stroke-width="0.25"/>
<path d="M619.48,9.75L644.45,-5.18L636.13,9.75Z" fill="#621a68" stroke="#3a0a3c" stroke-width="0.25"/>
<path d="M619.48,159L644.45,173.93L636.13,159Z" fill="#5a1560" stroke="#3a0a3c" stroke-width="0.25"/>
<path d="M619.48,188.85L644.45,173.93L636.13,188.85Z" fill="#621a68" stroke="#3a0a3c" stroke-width="0.25"/>
<path d="M619.48,188.85L644.45,203.78L636.13,188.85Z" fill="#5a1560" stroke="#3a0a3c" stroke-width="0.25"/>
<path d="M619.48,218.7L644.45,203.78L636.13,218.7Z" fill="#621a68" stroke="#3a0a3c" stroke-width="0.25"/>
<path d="M619.48,218.7L644.45,233.62L636.13,218.7Z" fill="#5a1560" stroke="#3a0a3c" stroke-width="0.25"/>
<path d="M619.48,248.55L644.45,233.62L636.13,248.55Z" fill="#621a68" stroke="#3a0a3c" stroke-width="0.25"/>
<path d="M644.45,-5.18L669.42,9.75L661.1,-5.18Z" fill="#5a1560" stroke="#3a0a3c" stroke-width="0.25"/>
<path d="M644.45,24.67L669.42,9.75L661.1,24.67Z" fill="#621a68" stroke="#3a0a3c" stroke-width="0.25"/>
<path d="M644.45,24.67L669.42,39.6L661.1,24.67Z" fill="#5a1560" stroke="#3a0a3c" stroke-width="0.25"/>
<path d="M644.45,54.52L669.42,39.6L661.1,54.52Z" fill="#621a68" stroke="#3a0a3c" stroke-width="0.25"/>
<path d="M644.45,54.52L669.42,69.45L661.1,54.52Z" fill="#5a1560" stroke="#3a0a3c" stroke-width="0.25"/>
<path d="M644.45,84.38L669.42,69.45L661.1,84.38Z" fill="#621a68" stroke="#3a0a3c" stroke-width="0.25"/>
<path d="M644.45,144.07L669.42,159L661.1,144.07Z" fill="#5a1560" stroke="#3a0a3c" stroke-width="0.25"/>
<path d="M644.45,173.93L669.42,159L661.1,173.93Z" fill="#621a68" stroke="#3a0a3c" stroke-width="0.25"/>
<path d="M644.45,173.93L669.42,188.85L661.1,173.93Z" fill="#5a1560" stroke="#3a0a3c" stroke-width="0.25"/>
<path d="M644.45,203.78L669.42,188.85L661.1,203.78Z" fill="#621a68" stroke="#3a0a3c" stroke-width="0.25"/>
<path d="M644.45,203.78L669.42,218.7L661.1,203.78Z" fill="#5a1560" stroke="#3a0a3c" stroke-width="0.25"/>
<path d="M644.45,233.62L669.42,218.7L661.1,233.62Z" fill="#621a68" stroke="#3a0a3c" stroke-width="0.25"/>
<path d="M669.42,-20.1L694.39,-5.18L686.07,-20.1Z" fill="#5a1560" stroke="#3a0a3c" stroke-width="0.25"/>
<path d="M669.42,9.75L694.39,-5.18L686.07,9.75Z" fill="#621a68" stroke="#3a0a3c" stroke-width="0.25"/>
<path d="M669.42,9.75L694.39,24.67L686.07,9.75Z" fill="#5a1560" stroke="#3a0a3c" stroke-width="0.25"/>
<path d="M669.42,39.6L694.39,24.67L686.07,39.6Z" fill="#621a68" stroke="#3a0a3c" stroke-width="0.25"/>
<path d="M669.42,39.6L694.39,54.52L686.07,39.6Z" fill="#5a1560" stroke="#3a0a3c" stroke-width="0.25"/>
<path d="M669.42,69.45L694.39,54.52L686.07,69.45Z" fill="#621a68" stroke="#3a0a3c" stroke-width="0.25"/>
<path d="M669.42,69.45L694.39,84.38L686.07,69.45Z" fill="#5a1560" stroke="#3a0a3c" stroke-width="0.25"/>
<path d="M669.42,99.3L694.39,84.38L686.07,99.3Z" fill="#621a68" stroke="#3a0a3c" stroke-width="0.25"/>
<path d="M669.42,99.3L694.39,114.22L686.07,99.3Z" fill="#5a1560" stroke="#3a0a3c" stroke-width="0.25"/>
<path d="M669.42,129.15L694.39,114.22L686.07,129.15Z" fill="#621a68" stroke="#3a0a3c" stroke-width="0.25"/>
<path d="M669.42,129.15L694.39,144.07L686.07,129.15Z" fill="#5a1560" stroke="#3a0a3c" stroke-width="0.25"/>
<path d="M669.42,159L694.39,144.07L686.07,159Z" fill="#621a68" stroke="#3a0a3c" stroke-width="0.25"/>
<path d="M669.42,159L694.39,173.93L686.07,159Z" fill="#5a1560" stroke="#3a0a3c" stroke-width="0.25"/>
<path d="M669.42,188.85L694.39,173.93L686.07,188.85Z" fill="#621a68" stroke="#3a0a3c" stroke-width="0.25"/>
<path d="M669.42,188.85L694.39,203.78L686.07,188.85Z" fill="#5a1560" stroke="#3a0a3c" stroke-width="0.25"/>
<path d="M669.42,218.7L694.39,203.78L686.07,218.7Z" fill="#621a68" stroke="#3a0a3c" stroke-width="0.25"/>
<path d="M669.42,218.7L694.39,233.62L686.07,218.7Z" fill="#5a1560" stroke="#3a0a3c" stroke-width="0.25"/>
<path d="M669.42,248.55L694.39,233.62L686.07,248.55Z" fill="#621a68" stroke="#3a0a3c" stroke-width="0.25"/>
<circle cx="486.31" cy="9.75" r="3.27" fill="#a0102a" opacity="0.45"/>
<circle cx="486.31" cy="9.75" r="2.23" fill="#f00000"/>
<circle cx="511.28" cy="-5.18" r="3.27" fill="#a0102a" opacity="0.45"/>
<circle cx="511.28" cy="-5.18" r="2.23" fill="#f00000"/>
<circle cx="511.28" cy="24.67" r="3.27" fill="#a0102a" opacity="0.45"/>
<circle cx="511.28" cy="24.67" r="2.23" fill="#f00000"/>
<circle cx="486.31" cy="39.6" r="3.27" fill="#a0102a" opacity="0.45"/>
<circle cx="486.31" cy="39.6" r="2.23" fill="#f00000"/>
<circle cx="511.28" cy="54.52" r="3.27" fill="#a0102a" opacity="0.45"/>
<circle cx="511.28" cy="54.52" r="2.23" fill="#f00000"/>
<circle cx="486.31" cy="69.45" r="3.27" fill="#a0102a" opacity="0.45"/>
<circle cx="486.31" cy="69.45" r="2.23" fill="#f00000"/>
<circle cx="511.28" cy="84.38" r="3.27" fill="#a0102a" opacity="0.45"/>
<circle cx="511.28" cy="84.38" r="2.23" fill="#f00000"/>
<circle cx="486.31" cy="99.3" r="3.27" fill="#a0102a" opacity="0.45"/>
<circle cx="486.31" cy="99.3" r="2.23" fill="#f00000"/>
<circle cx="511.28" cy="114.22" r="3.27" fill="#a0102a" opacity="0.45"/>
<circle cx="511.28" cy="114.22" r="2.23" fill="#f00000"/>
<circle cx="486.31" cy="129.15" r="3.27" fill="#a0102a" opacity="0.45"/>
<circle cx="486.31" cy="129.15" r="2.23" fill="#f00000"/>
<circle cx="511.28" cy="144.07" r="3.27" fill="#a0102a" opacity="0.45"/>
<circle cx="511.28" cy="144.07" r="2.23" fill="#f00000"/>
<circle cx="486.31" cy="159" r="3.27" fill="#a0102a" opacity="0.45"/>
<circle cx="486.31" cy="159" r="2.23" fill="#f00000"/>
<circle cx="511.28" cy="173.93" r="3.27" fill="#a0102a" opacity="0.45"/>
<circle cx="511.28" cy="173.93" r="2.23" fill="#f00000"/>
<circle cx="486.31" cy="188.85" r="3.27" fill="#a0102a" opacity="0.45"/>
<circle cx="486.31" cy="188.85" r="2.23" fill="#f00000"/>
<circle cx="511.28" cy="203.78" r="3.27" fill="#a0102a" opacity="0.45"/>
<circle cx="511.28" cy="203.78" r="2.23" fill="#f00000"/>
<circle cx="486.31" cy="218.7" r="3.27" fill="#a0102a" opacity="0.45"/>
<circle cx="486.31" cy="218.7" r="2.23" fill="#f00000"/>
<circle cx="511.28" cy="233.62" r="3.27" fill="#a0102a" opacity="0.45"/>
<circle cx="511.28" cy="233.62" r="2.23" fill="#f00000"/>
<circle cx="536.25" cy="-20.1" r="3.27" fill="#a0102a" opacity="0.45"/>
<circle cx="536.25" cy="-20.1" r="2.23" fill="#f00000"/>
<circle cx="536.25" cy="9.75" r="3.27" fill="#a0102a" opacity="0.45"/>
<circle cx="536.25" cy="9.75" r="2.23" fill="#f00000"/>
<circle cx="536.25" cy="39.6" r="3.27" fill="#a0102a" opacity="0.45"/>
<circle cx="536.25" cy="39.6" r="2.23" fill="#f00000"/>
<circle cx="536.25" cy="69.45" r="3.27" fill="#a0102a" opacity="0.45"/>
<circle cx="536.25" cy="69.45" r="2.23" fill="#f00000"/>
<circle cx="536.25" cy="99.3" r="3.27" fill="#a0102a" opacity="0.45"/>
<circle cx="536.25" cy="99.3" r="2.23" fill="#f00000"/>
<circle cx="536.25" cy="129.15" r="3.27" fill="#a0102a" opacity="0.45"/>
<circle cx="536.25" cy="129.15" r="2.23" fill="#f00000"/>
<circle cx="536.25" cy="159" r="3.27" fill="#a0102a" opacity="0.45"/>
<circle cx="536.25" cy="159" r="2.23" fill="#f00000"/>
<circle cx="536.25" cy="188.85" r="3.27" fill="#a0102a" opacity="0.45"/>
<circle cx="536.25" cy="188.85" r="2.23" fill="#f00000"/>
<circle cx="536.25" cy="218.7" r="3.27" fill="#a0102a" opacity="0.45"/>
<circle cx="536.25" cy="218.7" r="2.23" fill="#f00000"/>
<circle cx="536.25" cy="248.55" r="3.27" fill="#a0102a" opacity="0.45"/>
<circle cx="536.25" cy="248.55" r="2.23" fill="#f00000"/>
<circle cx="561.22" cy="-5.18" r="3.27" fill="#a0102a" opacity="0.45"/>
<circle cx="561.22" cy="-5.18" r="2.23" fill="#f00000"/>
<circle cx="561.22" cy="24.67" r="3.27" fill="#a0102a" opacity="0.45"/>
<circle cx="561.22" cy="24.67" r="2.23" fill="#f00000"/>
<circle cx="561.22" cy="54.52" r="3.27" fill="#a0102a" opacity="0.45"/>
<circle cx="561.22" cy="54.52" r="2.23" fill="#f00000"/>
<circle cx="536.25" cy="69.45" r="3.27" fill="#a0102a" opacity="0.45"/>
<circle cx="536.25" cy="69.45" r="2.23" fill="#f00000"/>
<circle cx="561.22" cy="84.38" r="3.27" fill="#a0102a" opacity="0.45"/>
<circle cx="561.22" cy="84.38" r="2.23" fill="#f00000"/>
<circle cx="561.22" cy="173.93" r="3.27" fill="#a0102a" opacity="0.45"/>
<circle cx="561.22" cy="173.93" r="2.23" fill="#f00000"/>
<circle cx="561.22" cy="203.78" r="3.27" fill="#a0102a" opacity="0.45"/>
<circle cx="561.22" cy="203.78" r="2.23" fill="#f00000"/>
<circle cx="561.22" cy="233.62" r="3.27" fill="#a0102a" opacity="0.45"/>
<circle cx="561.22" cy="233.62" r="2.23" fill="#f00000"/>
<circle cx="586.19" cy="-20.1" r="3.27" fill="#a0102a" opacity="0.45"/>
<circle cx="586.19" cy="-20.1" r="2.23" fill="#f00000"/>
<circle cx="586.19" cy="9.75" r="3.27" fill="#a0102a" opacity="0.45"/>
<circle cx="586.19" cy="9.75" r="2.23" fill="#f00000"/>
<circle cx="586.19" cy="39.6" r="3.27" fill="#a0102a" opacity="0.45"/>
<circle cx="586.19" cy="39.6" r="2.23" fill="#f00000"/>
<circle cx="586.19" cy="69.45" r="3.27" fill="#a0102a" opacity="0.45"/>
<circle cx="586.19" cy="69.45" r="2.23" fill="#f00000"/>
<circle cx="586.19" cy="159" r="3.27" fill="#a0102a" opacity="0.45"/>
<circle cx="586.19" cy="159" r="2.23" fill="#f00000"/>
<circle cx="586.19" cy="188.85" r="3.27" fill="#a0102a" opacity="0.45"/>
<circle cx="586.19" cy="188.85" r="2.23" fill="#f00000"/>
<circle cx="586.19" cy="218.7" r="3.27" fill="#a0102a" opacity="0.45"/>
<circle cx="586.19" cy="218.7" r="2.23" fill="#f00000"/>
<circle cx="586.19" cy="248.55" r="3.27" fill="#a0102a" opacity="0.45"/>
<circle cx="586.19" cy="248.55" r="2.23" fill="#f00000"/>
<circle cx="611.16" cy="-5.18" r="3.27" fill="#a0102a" opacity="0.45"/>
<circle cx="611.16" cy="-5.18" r="2.23" fill="#f00000"/>
<circle cx="611.16" cy="24.67" r="3.27" fill="#a0102a" opacity="0.45"/>
<circle cx="611.16" cy="24.67" r="2.23" fill="#f00000"/>
<circle cx="611.16" cy="54.52" r="3.27" fill="#a0102a" opacity="0.45"/>
<circle cx="611.16" cy="54.52" r="2.23" fill="#f00000"/>
<circle cx="611.16" cy="173.93" r="3.27" fill="#a0102a" opacity="0.45"/>
<circle cx="611.16" cy="173.93" r="2.23" fill="#f00000"/>
<circle cx="611.16" cy="203.78" r="3.27" fill="#a0102a" opacity="0.45"/>
<circle cx="611.16" cy="203.78" r="2.23" fill="#f00000"/>
<circle cx="611.16" cy="233.62" r="3.27" fill="#a0102a" opacity="0.45"/>
<circle cx="611.16" cy="233.62" r="2.23" fill="#f00000"/>
<circle cx="636.13" cy="-20.1" r="3.27" fill="#a0102a" opacity="0.45"/>
<circle cx="636.13" cy="-20.1" r="2.23" fill="#f00000"/>
<circle cx="636.13" cy="9.75" r="3.27" fill="#a0102a" opacity="0.45"/>
<circle cx="636.13" cy="9.75" r="2.23" fill="#f00000"/>
<circle cx="636.13" cy="159" r="3.27" fill="#a0102a" opacity="0.45"/>
<circle cx="636.13" cy="159" r="2.23" fill="#f00000"/>
<circle cx="636.13" cy="188.85" r="3.27" fill="#a0102a" opacity="0.45"/>
<circle cx="636.13" cy="188.85" r="2.23" fill="#f00000"/>
<circle cx="636.13" cy="218.7" r="3.27" fill="#a0102a" opacity="0.45"/>
<circle cx="636.13" cy="218.7" r="2.23" fill="#f00000"/>
<circle cx="636.13" cy="248.55" r="3.27" fill="#a0102a" opacity="0.45"/>
<circle cx="636.13" cy="248.55" r="2.23" fill="#f00000"/>
<circle cx="661.1" cy="-5.18" r="3.27" fill="#a0102a" opacity="0.45"/>
<circle cx="661.1" cy="-5.18" r="2.23" fill="#f00000"/>
<circle cx="661.1" cy="24.67" r="3.27" fill="#a0102a" opacity="0.45"/>
<circle cx="661.1" cy="24.67" r="2.23" fill="#f00000"/>
<circle cx="636.13" cy="39.6" r="3.27" fill="#a0102a" opacity="0.45"/>
<circle cx="636.13" cy="39.6" r="2.23" fill="#f00000"/>
<circle cx="661.1" cy="54.52" r="3.27" fill="#a0102a" opacity="0.45"/>
<circle cx="661.1" cy="54.52" r="2.23" fill="#f00000"/>
<circle cx="636.13" cy="69.45" r="3.27" fill="#a0102a" opacity="0.45"/>
<circle cx="636.13" cy="69.45" r="2.23" fill="#f00000"/>
<circle cx="661.1" cy="84.38" r="3.27" fill="#a0102a" opacity="0.45"/>
<circle cx="661.1" cy="84.38" r="2.23" fill="#f00000"/>
<circle cx="661.1" cy="144.07" r="3.27" fill="#a0102a" opacity="0.45"/>
<circle cx="661.1" cy="144.07" r="2.23" fill="#f00000"/>
<circle cx="661.1" cy="173.93" r="3.27" fill="#a0102a" opacity="0.45"/>
<circle cx="661.1" cy="173.93" r="2.23" fill="#f00000"/>
<circle cx="661.1" cy="203.78" r="3.27" fill="#a0102a" opacity="0.45"/>
<circle cx="661.1" cy="203.78" r="2.23" fill="#f00000"/>
<circle cx="661.1" cy="233.62" r="3.27" fill="#a0102a" opacity="0.45"/>
<circle cx="661.1" cy="233.62" r="2.23" fill="#f00000"/>
<circle cx="686.07" cy="-20.1" r="3.27" fill="#a0102a" opacity="0.45"/>
<circle cx="686.07" cy="-20.1" r="2.23" fill="#f00000"/>
<circle cx="686.07" cy="9.75" r="3.27" fill="#a0102a" opacity="0.45"/>
<circle cx="686.07" cy="9.75" r="2.23" fill="#f00000"/>
<circle cx="686.07" cy="39.6" r="3.27" fill="#a0102a" opacity="0.45"/>
<circle cx="686.07" cy="39.6" r="2.23" fill="#f00000"/>
<circle cx="686.07" cy="69.45" r="3.27" fill="#a0102a" opacity="0.45"/>
<circle cx="686.07" cy="69.45" r="2.23" fill="#f00000"/>
<circle cx="686.07" cy="99.3" r="3.27" fill="#a0102a" opacity="0.45"/>
<circle cx="686.07" cy="99.3" r="2.23" fill="#f00000"/>
<circle cx="661.1" cy="114.22" r="3.27" fill="#a0102a" opacity="0.45"/>
<circle cx="661.1" cy="114.22" r="2.23" fill="#f00000"/>
<circle cx="686.07" cy="129.15" r="3.27" fill="#a0102a" opacity="0.45"/>
<circle cx="686.07" cy="129.15" r="2.23" fill="#f00000"/>
<circle cx="686.07" cy="159" r="3.27" fill="#a0102a" opacity="0.45"/>
<circle cx="686.07" cy="159" r="2.23" fill="#f00000"/>
<circle cx="686.07" cy="188.85" r="3.27" fill="#a0102a" opacity="0.45"/>
<circle cx="686.07" cy="188.85" r="2.23" fill="#f00000"/>
<circle cx="686.07" cy="218.7" r="3.27" fill="#a0102a" opacity="0.45"/>
<circle cx="686.07" cy="218.7" r="2.23" fill="#f00000"/>
<circle cx="686.07" cy="248.55" r="3.27" fill="#a0102a" opacity="0.45"/>
<circle cx="686.07" cy="248.55" r="2.23" fill="#f00000"/>
<path d="M494.63,-5.18L494.63,24.67L486.31,9.75Z" fill="#6a2172" stroke="#3a0a3c" stroke-width="0.25"/>
<path d="M494.63,24.67L494.63,54.52L486.31,39.6Z" fill="#6a2172" stroke="#3a0a3c" stroke-width="0.25"/>
<path d="M494.63,54.52L494.63,84.38L486.31,69.45Z" fill="#6a2172" stroke="#3a0a3c" stroke-width="0.25"/>
<path d="M494.63,84.38L494.63,114.22L486.31,99.3Z" fill="#6a2172" stroke="#3a0a3c" stroke-width="0.25"/>
<path d="M494.63,114.22L494.63,144.07L486.31,129.15Z" fill="#6a2172" stroke="#3a0a3c" stroke-width="0.25"/>
<path d="M494.63,144.07L494.63,173.93L486.31,159Z" fill="#6a2172" stroke="#3a0a3c" stroke-width="0.25"/>
<path d="M494.63,173.93L494.63,203.78L486.31,188.85Z" fill="#6a2172" stroke="#3a0a3c" stroke-width="0.25"/>
<path d="M494.63,203.78L494.63,233.62L486.31,218.7Z" fill="#6a2172" stroke="#3a0a3c" stroke-width="0.25"/>
<path d="M519.6,-20.1L519.6,9.75L511.28,-5.18Z" fill="#6a2172" stroke="#3a0a3c" stroke-width="0.25"/>
<path d="M519.6,9.75L519.6,39.6L511.28,24.67Z" fill="#6a2172" stroke="#3a0a3c" stroke-width="0.25"/>
<path d="M519.6,39.6L519.6,69.45L511.28,54.52Z" fill="#6a2172" stroke="#3a0a3c" stroke-width="0.25"/>
<path d="M519.6,69.45L519.6,99.3L511.28,84.38Z" fill="#6a2172" stroke="#3a0a3c" stroke-width="0.25"/>
<path d="M519.6,99.3L519.6,129.15L511.28,114.22Z" fill="#6a2172" stroke="#3a0a3c" stroke-width="0.25"/>
<path d="M519.6,129.15L519.6,159L511.28,144.07Z" fill="#6a2172" stroke="#3a0a3c" stroke-width="0.25"/>
<path d="M519.6,159L519.6,188.85L511.28,173.93Z" fill="#6a2172" stroke="#3a0a3c" stroke-width="0.25"/>
<path d="M519.6,188.85L519.6,218.7L511.28,203.78Z" fill="#6a2172" stroke="#3a0a3c" stroke-width="0.25"/>
<path d="M519.6,218.7L519.6,248.55L511.28,233.62Z" fill="#6a2172" stroke="#3a0a3c" stroke-width="0.25"/>
<path d="M544.57,-5.18L544.57,24.67L536.25,9.75Z" fill="#6a2172" stroke="#3a0a3c" stroke-width="0.25"/>
<path d="M544.57,24.67L544.57,54.52L536.25,39.6Z" fill="#6a2172" stroke="#3a0a3c" stroke-width="0.25"/>
<path d="M544.57,54.52L544.57,84.38L536.25,69.45Z" fill="#6a2172" stroke="#3a0a3c" stroke-width="0.25"/>
<path d="M544.57,173.93L544.57,203.78L536.25,188.85Z" fill="#6a2172" stroke="#3a0a3c" stroke-width="0.25"/>
<path d="M544.57,203.78L544.57,233.62L536.25,218.7Z" fill="#6a2172" stroke="#3a0a3c" stroke-width="0.25"/>
<path d="M569.54,-20.1L569.54,9.75L561.22,-5.18Z" fill="#6a2172" stroke="#3a0a3c" stroke-width="0.25"/>
<path d="M569.54,39.6L569.54,69.45L561.22,54.52Z" fill="#6a2172" stroke="#3a0a3c" stroke-width="0.25"/>
<path d="M569.54,159L569.54,188.85L561.22,173.93Z" fill="#6a2172" stroke="#3a0a3c" stroke-width="0.25"/>
<path d="M569.54,188.85L569.54,218.7L561.22,203.78Z" fill="#6a2172" stroke="#3a0a3c" stroke-width="0.25"/>
<path d="M569.54,218.7L569.54,248.55L561.22,233.62Z" fill="#6a2172" stroke="#3a0a3c" stroke-width="0.25"/>
<path d="M594.51,-5.18L594.51,24.67L586.19,9.75Z" fill="#6a2172" stroke="#3a0a3c" stroke-width="0.25"/>
<path d="M594.51,24.67L594.51,54.52L586.19,39.6Z" fill="#6a2172" stroke="#3a0a3c" stroke-width="0.25"/>
<path d="M594.51,173.93L594.51,203.78L586.19,188.85Z" fill="#6a2172" stroke="#3a0a3c" stroke-width="0.25"/>
<path d="M594.51,203.78L594.51,233.62L586.19,218.7Z" fill="#6a2172" stroke="#3a0a3c" stroke-width="0.25"/>
<path d="M619.48,-20.1L619.48,9.75L611.16,-5.18Z" fill="#6a2172" stroke="#3a0a3c" stroke-width="0.25"/>
<path d="M619.48,159L619.48,188.85L611.16,173.93Z" fill="#6a2172" stroke="#3a0a3c" stroke-width="0.25"/>
<path d="M619.48,188.85L619.48,218.7L611.16,203.78Z" fill="#6a2172" stroke="#3a0a3c" stroke-width="0.25"/>
<path d="M619.48,218.7L619.48,248.55L611.16,233.62Z" fill="#6a2172" stroke="#3a0a3c" stroke-width="0.25"/>
<path d="M644.45,-5.18L644.45,24.67L636.13,9.75Z" fill="#6a2172" stroke="#3a0a3c" stroke-width="0.25"/>
<path d="M644.45,24.67L644.45,54.52L636.13,39.6Z" fill="#6a2172" stroke="#3a0a3c" stroke-width="0.25"/>
<path d="M644.45,54.52L644.45,84.38L636.13,69.45Z" fill="#6a2172" stroke="#3a0a3c" stroke-width="0.25"/>
<path d="M644.45,144.07L644.45,173.93L636.13,159Z" fill="#6a2172" stroke="#3a0a3c" stroke-width="0.25"/>
<path d="M644.45,173.93L644.45,203.78L636.13,188.85Z" fill="#6a2172" stroke="#3a0a3c" stroke-width="0.25"/>
<path d="M644.45,203.78L644.45,233.62L636.13,218.7Z" fill="#6a2172" stroke="#3a0a3c" stroke-width="0.25"/>
<path d="M669.42,-20.1L669.42,9.75L661.1,-5.18Z" fill="#6a2172" stroke="#3a0a3c" stroke-width="0.25"/>
<path d="M669.42,9.75L669.42,39.6L661.1,24.67Z" fill="#6a2172" stroke="#3a0a3c" stroke-width="0.25"/>
<path d="M669.42,39.6L669.42,69.45L661.1,54.52Z" fill="#6a2172" stroke="#3a0a3c" stroke-width="0.25"/>
<path d="M669.42,69.45L669.42,99.3L661.1,84.38Z" fill="#6a2172" stroke="#3a0a3c" stroke-width="0.25"/>
<path d="M669.42,99.3L669.42,129.15L661.1,114.22Z" fill="#6a2172" stroke="#3a0a3c" stroke-width="0.25"/>
<path d="M669.42,129.15L669.42,159L661.1,144.07Z" fill="#6a2172" stroke="#3a0a3c" stroke-width="0.25"/>
<path d="M669.42,159L669.42,188.85L661.1,173.93Z" fill="#6a2172" stroke="#3a0a3c" stroke-width="0.25"/>
<path d="M669.42,188.85L669.42,218.7L661.1,203.78Z" fill="#6a2172" stroke="#3a0a3c" stroke-width="0.25"/>
<path d="M669.42,218.7L669.42,248.55L661.1,233.62Z" fill="#6a2172" stroke="#3a0a3c" stroke-width="0.25"/>
<path d="M494.63,-5.18L494.63,24.67L519.6,9.75Z" fill="#e06ae4" stroke="#3a0a3c" stroke-width="0.5"/>
<circle cx="502.15" cy="9.75" r="4" fill="#cf55d3"/>
<path d="M494.63,24.67L494.63,54.52L519.6,39.6Z" fill="#e06ae4" stroke="#3a0a3c" stroke-width="0.5"/>
<circle cx="502.15" cy="39.6" r="4" fill="#cf55d3"/>
<path d="M494.63,54.52L494.63,84.38L519.6,69.45Z" fill="#e06ae4" stroke="#3a0a3c" stroke-width="0.5"/>
<circle cx="502.15" cy="69.45" r="4" fill="#cf55d3"/>
<path d="M494.63,84.38L494.63,114.22L519.6,99.3Z" fill="#e06ae4" stroke="#3a0a3c" stroke-width="0.5"/>
<circle cx="502.15" cy="99.3" r="4" fill="#cf55d3"/>
<path d="M494.63,114.22L494.63,144.07L519.6,129.15Z" fill="#e06ae4" stroke="#3a0a3c" stroke-width="0.5"/>
<circle cx="502.15" cy="129.15" r="4" fill="#cf55d3"/>
<path d="M494.63,144.07L494.63,173.93L519.6,159Z" fill="#e06ae4" stroke="#3a0a3c" stroke-width="0.5"/>
<circle cx="502.15" cy="159" r="4" fill="#cf55d3"/>
<path d="M494.63,173.93L494.63,203.78L519.6,188.85Z" fill="#e06ae4" stroke="#3a0a3c" stroke-width="0.5"/>
<circle cx="502.15" cy="188.85" r="4" fill="#cf55d3"/>
<path d="M494.63,203.78L494.63,233.62L519.6,218.7Z" fill="#e06ae4" stroke="#3a0a3c" stroke-width="0.5"/>
<circle cx="502.15" cy="218.7" r="4" fill="#cf55d3"/>
<path d="M519.6,-20.1L519.6,9.75L544.57,-5.18Z" fill="#e06ae4" stroke="#3a0a3c" stroke-width="0.5"/>
<circle cx="527.12" cy="-5.18" r="4" fill="#cf55d3"/>
<path d="M519.6,9.75L519.6,39.6L544.57,24.67Z" fill="#e06ae4" stroke="#3a0a3c" stroke-width="0.5"/>
<circle cx="527.12" cy="24.67" r="4" fill="#cf55d3"/>
<path d="M519.6,39.6L519.6,69.45L544.57,54.52Z" fill="#e06ae4" stroke="#3a0a3c" stroke-width="0.5"/>
<circle cx="527.12" cy="54.52" r="4" fill="#cf55d3"/>
<path d="M519.6,69.45L519.6,99.3L544.57,84.38Z" fill="#e06ae4" stroke="#3a0a3c" stroke-width="0.5"/>
<circle cx="527.12" cy="84.38" r="4" fill="#cf55d3"/>
<path d="M519.6,99.3L519.6,129.15L544.57,114.22Z" fill="#e06ae4" stroke="#3a0a3c" stroke-width="0.5"/>
<circle cx="527.12" cy="114.22" r="4" fill="#cf55d3"/>
<path d="M519.6,129.15L519.6,159L544.57,144.07Z" fill="#e06ae4" stroke="#3a0a3c" stroke-width="0.5"/>
<circle cx="527.12" cy="144.07" r="4" fill="#cf55d3"/>
<path d="M519.6,159L519.6,188.85L544.57,173.93Z" fill="#e06ae4" stroke="#3a0a3c" stroke-width="0.5"/>
<circle cx="527.12" cy="173.93" r="4" fill="#cf55d3"/>
<path d="M519.6,188.85L519.6,218.7L544.57,203.78Z" fill="#e06ae4" stroke="#3a0a3c" stroke-width="0.5"/>
<circle cx="527.12" cy="203.78" r="4" fill="#cf55d3"/>
<path d="M519.6,218.7L519.6,248.55L544.57,233.62Z" fill="#e06ae4" stroke="#3a0a3c" stroke-width="0.5"/>
<circle cx="527.12" cy="233.62" r="4" fill="#cf55d3"/>
<path d="M544.57,-5.18L544.57,24.67L569.54,9.75Z" fill="#e06ae4" stroke="#3a0a3c" stroke-width="0.5"/>
<circle cx="552.09" cy="9.75" r="4" fill="#cf55d3"/>
<path d="M544.57,24.67L544.57,54.52L569.54,39.6Z" fill="#e06ae4" stroke="#3a0a3c" stroke-width="0.5"/>
<circle cx="552.09" cy="39.6" r="4" fill="#cf55d3"/>
<path d="M544.57,54.52L544.57,84.38L569.54,69.45Z" fill="#e06ae4" stroke="#3a0a3c" stroke-width="0.5"/>
<circle cx="552.09" cy="69.45" r="4" fill="#cf55d3"/>
<path d="M544.57,173.93L544.57,203.78L569.54,188.85Z" fill="#e06ae4" stroke="#3a0a3c" stroke-width="0.5"/>
<circle cx="552.09" cy="188.85" r="4" fill="#cf55d3"/>
<path d="M544.57,203.78L544.57,233.62L569.54,218.7Z" fill="#e06ae4" stroke="#3a0a3c" stroke-width="0.5"/>
<circle cx="552.09" cy="218.7" r="4" fill="#cf55d3"/>
<path d="M569.54,-20.1L569.54,9.75L594.51,-5.18Z" fill="#e06ae4" stroke="#3a0a3c" stroke-width="0.5"/>
<circle cx="577.06" cy="-5.18" r="4" fill="#cf55d3"/>
<path d="M569.54,39.6L569.54,69.45L594.51,54.52Z" fill="#e06ae4" stroke="#3a0a3c" stroke-width="0.5"/>
<circle cx="577.06" cy="54.52" r="4" fill="#cf55d3"/>
<path d="M569.54,159L569.54,188.85L594.51,173.93Z" fill="#e06ae4" stroke="#3a0a3c" stroke-width="0.5"/>
<circle cx="577.06" cy="173.93" r="4" fill="#cf55d3"/>
<path d="M569.54,188.85L569.54,218.7L594.51,203.78Z" fill="#e06ae4" stroke="#3a0a3c" stroke-width="0.5"/>
<circle cx="577.06" cy="203.78" r="4" fill="#cf55d3"/>
<path d="M569.54,218.7L569.54,248.55L594.51,233.62Z" fill="#e06ae4" stroke="#3a0a3c" stroke-width="0.5"/>
<circle cx="577.06" cy="233.62" r="4" fill="#cf55d3"/>
<path d="M594.51,-5.18L594.51,24.67L619.48,9.75Z" fill="#e06ae4" stroke="#3a0a3c" stroke-width="0.5"/>
<circle cx="602.03" cy="9.75" r="4" fill="#cf55d3"/>
<path d="M594.51,24.67L594.51,54.52L619.48,39.6Z" fill="#e06ae4" stroke="#3a0a3c" stroke-width="0.5"/>
<circle cx="602.03" cy="39.6" r="4" fill="#cf55d3"/>
<path d="M594.51,173.93L594.51,203.78L619.48,188.85Z" fill="#e06ae4" stroke="#3a0a3c" stroke-width="0.5"/>
<circle cx="602.03" cy="188.85" r="4" fill="#cf55d3"/>
<path d="M594.51,203.78L594.51,233.62L619.48,218.7Z" fill="#e06ae4" stroke="#3a0a3c" stroke-width="0.5"/>
<circle cx="602.03" cy="218.7" r="4" fill="#cf55d3"/>
<path d="M619.48,-20.1L619.48,9.75L644.45,-5.18Z" fill="#e06ae4" stroke="#3a0a3c" stroke-width="0.5"/>
<circle cx="627" cy="-5.18" r="4" fill="#cf55d3"/>
<path d="M619.48,159L619.48,188.85L644.45,173.93Z" fill="#e06ae4" stroke="#3a0a3c" stroke-width="0.5"/>
<circle cx="627" cy="173.93" r="4" fill="#cf55d3"/>
<path d="M619.48,188.85L619.48,218.7L644.45,203.78Z" fill="#e06ae4" stroke="#3a0a3c" stroke-width="0.5"/>
<circle cx="627" cy="203.78" r="4" fill="#cf55d3"/>
<path d="M619.48,218.7L619.48,248.55L644.45,233.62Z" fill="#e06ae4" stroke="#3a0a3c" stroke-width="0.5"/>
<circle cx="627" cy="233.62" r="4" fill="#cf55d3"/>
<path d="M644.45,-5.18L644.45,24.67L669.42,9.75Z" fill="#e06ae4" stroke="#3a0a3c" stroke-width="0.5"/>
<circle cx="651.97" cy="9.75" r="4" fill="#cf55d3"/>
<path d="M644.45,24.67L644.45,54.52L669.42,39.6Z" fill="#e06ae4" stroke="#3a0a3c" stroke-width="0.5"/>
<circle cx="651.97" cy="39.6" r="4" fill="#cf55d3"/>
<path d="M644.45,54.52L644.45,84.38L669.42,69.45Z" fill="#e06ae4" stroke="#3a0a3c" stroke-width="0.5"/>
<circle cx="651.97" cy="69.45" r="4" fill="#cf55d3"/>
<path d="M644.45,144.07L644.45,173.93L669.42,159Z" fill="#e06ae4" stroke="#3a0a3c" stroke-width="0.5"/>
<circle cx="651.97" cy="159" r="4" fill="#cf55d3"/>
<path d="M644.45,173.93L644.45,203.78L669.42,188.85Z" fill="#e06ae4" stroke="#3a0a3c" stroke-width="0.5"/>
<circle cx="651.97" cy="188.85" r="4" fill="#cf55d3"/>
<path d="M644.45,203.78L644.45,233.62L669.42,218.7Z" fill="#e06ae4" stroke="#3a0a3c" stroke-width="0.5"/>
<circle cx="651.97" cy="218.7" r="4" fill="#cf55d3"/>
<path d="M669.42,-20.1L669.42,9.75L694.39,-5.18Z" fill="#e06ae4" stroke="#3a0a3c" stroke-width="0.5"/>
<circle cx="676.94" cy="-5.18" r="4" fill="#cf55d3"/>
<path d="M669.42,9.75L669.42,39.6L694.39,24.67Z" fill="#e06ae4" stroke="#3a0a3c" stroke-width="0.5"/>
<circle cx="676.94" cy="24.67" r="4" fill="#cf55d3"/>
<path d="M669.42,39.6L669.42,69.45L694.39,54.52Z" fill="#e06ae4" stroke="#3a0a3c" stroke-width="0.5"/>
<circle cx="676.94" cy="54.52" r="4" fill="#cf55d3"/>
<path d="M669.42,69.45L669.42,99.3L694.39,84.38Z" fill="#e06ae4" stroke="#3a0a3c" stroke-width="0.5"/>
<circle cx="676.94" cy="84.38" r="4" fill="#cf55d3"/>
<path d="M669.42,99.3L669.42,129.15L694.39,114.22Z" fill="#e06ae4" stroke="#3a0a3c" stroke-width="0.5"/>
<circle cx="676.94" cy="114.22" r="4" fill="#cf55d3"/>
<path d="M669.42,129.15L669.42,159L694.39,144.07Z" fill="#e06ae4" stroke="#3a0a3c" stroke-width="0.5"/>
<circle cx="676.94" cy="144.07" r="4" fill="#cf55d3"/>
<path d="M669.42,159L669.42,188.85L694.39,173.93Z" fill="#e06ae4" stroke="#3a0a3c" stroke-width="0.5"/>
<circle cx="676.94" cy="173.93" r="4" fill="#cf55d3"/>
<path d="M669.42,188.85L669.42,218.7L694.39,203.78Z" fill="#e06ae4" stroke="#3a0a3c" stroke-width="0.5"/>
<circle cx="676.94" cy="203.78" r="4" fill="#cf55d3"/>
<path d="M669.42,218.7L669.42,248.55L694.39,233.62Z" fill="#e06ae4" stroke="#3a0a3c" stroke-width="0.5"/>
<circle cx="676.94" cy="233.62" r="4" fill="#cf55d3"/>
<path d="M561.2,84.4L569.54,99.3" stroke="#9a9a9a" stroke-width="1.7"/>
<path d="M611.2,54.5L619.48,69.45" stroke="#9a9a9a" stroke-width="1.7"/>
<path d="M619.48,99.3L614.8,119.6" stroke="#9a9a9a" stroke-width="1.7"/>
<path d="M591.4,109L586.1,129.3" stroke="#9a9a9a" stroke-width="1.7"/>
<path d="M645.2,114.2L661.1,114.2" stroke="#9a9a9a" stroke-width="1.7"/>
<path d="M564,134.3L544.6,144.1" stroke="#9a9a9a" stroke-width="1.7"/>
<path d="M594.5,144.1L586.2,159" stroke="#9a9a9a" stroke-width="1.7"/>
<circle cx="494.63" cy="-5.18" r="3.85" fill="url(#rg)"/>
<circle cx="494.63" cy="24.67" r="3.85" fill="url(#rg)"/>
<circle cx="519.6" cy="9.75" r="3.85" fill="url(#rg)"/>
<circle cx="494.63" cy="54.52" r="3.85" fill="url(#rg)"/>
<circle cx="519.6" cy="39.6" r="3.85" fill="url(#rg)"/>
<circle cx="494.63" cy="84.38" r="3.85" fill="url(#rg)"/>
<circle cx="519.6" cy="69.45" r="3.85" fill="url(#rg)"/>
<circle cx="494.63" cy="114.22" r="3.85" fill="url(#rg)"/>
<circle cx="519.6" cy="99.3" r="3.85" fill="url(#rg)"/>
<circle cx="494.63" cy="144.07" r="3.85" fill="url(#rg)"/>
<circle cx="519.6" cy="129.15" r="3.85" fill="url(#rg)"/>
<circle cx="494.63" cy="173.93" r="3.85" fill="url(#rg)"/>
<circle cx="519.6" cy="159" r="3.85" fill="url(#rg)"/>
<circle cx="494.63" cy="203.78" r="3.85" fill="url(#rg)"/>
<circle cx="519.6" cy="188.85" r="3.85" fill="url(#rg)"/>
<circle cx="494.63" cy="233.62" r="3.85" fill="url(#rg)"/>
<circle cx="519.6" cy="218.7" r="3.85" fill="url(#rg)"/>
<circle cx="519.6" cy="-20.1" r="3.85" fill="url(#rg)"/>
<circle cx="544.57" cy="-5.18" r="3.85" fill="url(#rg)"/>
<circle cx="544.57" cy="24.67" r="3.85" fill="url(#rg)"/>
<circle cx="519.6" cy="69.45" r="3.85" fill="url(#rg)"/>
<circle cx="544.57" cy="54.52" r="3.85" fill="url(#rg)"/>
<circle cx="544.57" cy="84.38" r="3.85" fill="url(#rg)"/>
<circle cx="519.6" cy="129.15" r="3.85" fill="url(#rg)"/>
<circle cx="544.57" cy="114.22" r="3.85" fill="url(#rg)"/>
<circle cx="544.57" cy="144.07" r="3.85" fill="url(#rg)"/>
<circle cx="544.57" cy="173.93" r="3.85" fill="url(#rg)"/>
<circle cx="544.57" cy="203.78" r="3.85" fill="url(#rg)"/>
<circle cx="519.6" cy="248.55" r="3.85" fill="url(#rg)"/>
<circle cx="544.57" cy="233.62" r="3.85" fill="url(#rg)"/>
<circle cx="569.54" cy="9.75" r="3.85" fill="url(#rg)"/>
<circle cx="569.54" cy="39.6" r="3.85" fill="url(#rg)"/>
<circle cx="569.54" cy="69.45" r="3.85" fill="url(#rg)"/>
<circle cx="569.54" cy="188.85" r="3.85" fill="url(#rg)"/>
<circle cx="569.54" cy="218.7" r="3.85" fill="url(#rg)"/>
<circle cx="569.54" cy="-20.1" r="3.85" fill="url(#rg)"/>
<circle cx="594.51" cy="-5.18" r="3.85" fill="url(#rg)"/>
<circle cx="569.54" cy="69.45" r="3.85" fill="url(#rg)"/>
<circle cx="594.51" cy="54.52" r="3.85" fill="url(#rg)"/>
<circle cx="569.54" cy="159" r="3.85" fill="url(#rg)"/>
<circle cx="594.51" cy="173.93" r="3.85" fill="url(#rg)"/>
<circle cx="594.51" cy="203.78" r="3.85" fill="url(#rg)"/>
<circle cx="569.54" cy="248.55" r="3.85" fill="url(#rg)"/>
<circle cx="594.51" cy="233.62" r="3.85" fill="url(#rg)"/>
<circle cx="594.51" cy="24.67" r="3.85" fill="url(#rg)"/>
<circle cx="619.48" cy="9.75" r="3.85" fill="url(#rg)"/>
<circle cx="619.48" cy="39.6" r="3.85" fill="url(#rg)"/>
<circle cx="619.48" cy="188.85" r="3.85" fill="url(#rg)"/>
<circle cx="619.48" cy="218.7" r="3.85" fill="url(#rg)"/>
<circle cx="619.48" cy="-20.1" r="3.85" fill="url(#rg)"/>
<circle cx="644.45" cy="-5.18" r="3.85" fill="url(#rg)"/>
<circle cx="619.48" cy="159" r="3.85" fill="url(#rg)"/>
<circle cx="644.45" cy="173.93" r="3.85" fill="url(#rg)"/>
<circle cx="644.45" cy="203.78" r="3.85" fill="url(#rg)"/>
<circle cx="619.48" cy="248.55" r="3.85" fill="url(#rg)"/>
<circle cx="644.45" cy="233.62" r="3.85" fill="url(#rg)"/>
<circle cx="644.45" cy="24.67" r="3.85" fill="url(#rg)"/>
<circle cx="669.42" cy="9.75" r="3.85" fill="url(#rg)"/>
<circle cx="644.45" cy="54.52" r="3.85" fill="url(#rg)"/>
<circle cx="669.42" cy="39.6" r="3.85" fill="url(#rg)"/>
<circle cx="644.45" cy="84.38" r="3.85" fill="url(#rg)"/>
<circle cx="669.42" cy="69.45" r="3.85" fill="url(#rg)"/>
<circle cx="644.45" cy="144.07" r="3.85" fill="url(#rg)"/>
<circle cx="669.42" cy="159" r="3.85" fill="url(#rg)"/>
<circle cx="669.42" cy="188.85" r="3.85" fill="url(#rg)"/>
<circle cx="669.42" cy="218.7" r="3.85" fill="url(#rg)"/>
<circle cx="669.42" cy="-20.1" r="3.85" fill="url(#rg)"/>
<circle cx="694.39" cy="-5.18" r="3.85" fill="url(#rg)"/>
<circle cx="694.39" cy="24.67" r="3.85" fill="url(#rg)"/>
<circle cx="669.42" cy="69.45" r="3.85" fill="url(#rg)"/>
<circle cx="694.39" cy="54.52" r="3.85" fill="url(#rg)"/>
<circle cx="669.42" cy="99.3" r="3.85" fill="url(#rg)"/>
<circle cx="694.39" cy="84.38" r="3.85" fill="url(#rg)"/>
<circle cx="669.42" cy="129.15" r="3.85" fill="url(#rg)"/>
<circle cx="694.39" cy="114.22" r="3.85" fill="url(#rg)"/>
<circle cx="694.39" cy="144.07" r="3.85" fill="url(#rg)"/>
<circle cx="694.39" cy="173.93" r="3.85" fill="url(#rg)"/>
<circle cx="694.39" cy="203.78" r="3.85" fill="url(#rg)"/>
<circle cx="669.42" cy="248.55" r="3.85" fill="url(#rg)"/>
<circle cx="694.39" cy="233.62" r="3.85" fill="url(#rg)"/>
<circle cx="569.54" cy="99.3" r="3.85" fill="url(#rg)"/>
<circle cx="619.48" cy="69.45" r="3.85" fill="url(#rg)"/>
<circle cx="619.48" cy="99.3" r="3.85" fill="url(#rg)"/>
<circle cx="614.8" cy="119.6" r="3.85" fill="url(#rg)"/>
<circle cx="591.4" cy="109" r="3.85" fill="url(#rg)"/>
<circle cx="586.1" cy="129.3" r="3.85" fill="url(#rg)"/>
<circle cx="645.2" cy="114.2" r="3.85" fill="url(#rg)"/>
<circle cx="661.1" cy="114.2" r="3.85" fill="url(#rg)"/>
<circle cx="564" cy="134.3" r="3.85" fill="url(#rg)"/>
<circle cx="594.5" cy="144.1" r="3.85" fill="url(#rg)"/>
</g>
<g clip-path="url(#cb)">
<circle cx="476.9" cy="234.4" r="3.28" fill="url(#rg)"/>
<circle cx="503.9" cy="218.9" r="3.28" fill="url(#rg)"/>
<circle cx="503.9" cy="249.9" r="3.28" fill="url(#rg)"/>
<circle cx="476.9" cy="265.4" r="3.28" fill="url(#rg)"/>
<circle cx="503.9" cy="280.9" r="3.28" fill="url(#rg)"/>
<circle cx="476.9" cy="296.4" r="3.28" fill="url(#rg)"/>
<circle cx="503.9" cy="311.9" r="3.28" fill="url(#rg)"/>
<circle cx="476.9" cy="327.4" r="3.28" fill="url(#rg)"/>
<circle cx="503.9" cy="342.9" r="3.28" fill="url(#rg)"/>
<circle cx="476.9" cy="358.4" r="3.28" fill="url(#rg)"/>
<circle cx="503.9" cy="373.9" r="3.28" fill="url(#rg)"/>
<circle cx="476.9" cy="389.4" r="3.28" fill="url(#rg)"/>
<circle cx="503.9" cy="404.9" r="3.28" fill="url(#rg)"/>
<circle cx="476.9" cy="420.4" r="3.28" fill="url(#rg)"/>
<circle cx="503.9" cy="435.9" r="3.28" fill="url(#rg)"/>
<circle cx="476.9" cy="451.4" r="3.28" fill="url(#rg)"/>
<circle cx="503.9" cy="466.9" r="3.28" fill="url(#rg)"/>
<circle cx="530.9" cy="203.4" r="3.28" fill="url(#rg)"/>
<circle cx="530.9" cy="234.4" r="3.28" fill="url(#rg)"/>
<circle cx="530.9" cy="265.4" r="3.28" fill="url(#rg)"/>
<circle cx="530.9" cy="296.4" r="3.28" fill="url(#rg)"/>
<circle cx="530.9" cy="327.4" r="3.28" fill="url(#rg)"/>
<circle cx="530.9" cy="358.4" r="3.28" fill="url(#rg)"/>
<circle cx="530.9" cy="389.4" r="3.28" fill="url(#rg)"/>
<circle cx="530.9" cy="420.4" r="3.28" fill="url(#rg)"/>
<circle cx="530.9" cy="451.4" r="3.28" fill="url(#rg)"/>
<circle cx="530.9" cy="482.4" r="3.28" fill="url(#rg)"/>
<circle cx="557.9" cy="218.9" r="3.28" fill="url(#rg)"/>
<circle cx="557.9" cy="249.9" r="3.28" fill="url(#rg)"/>
<circle cx="557.9" cy="280.9" r="3.28" fill="url(#rg)"/>
<circle cx="557.9" cy="311.9" r="3.28" fill="url(#rg)"/>
<circle cx="557.9" cy="342.9" r="3.28" fill="url(#rg)"/>
<circle cx="557.9" cy="373.9" r="3.28" fill="url(#rg)"/>
<circle cx="557.9" cy="404.9" r="3.28" fill="url(#rg)"/>
<circle cx="557.9" cy="435.9" r="3.28" fill="url(#rg)"/>
<circle cx="557.9" cy="466.9" r="3.28" fill="url(#rg)"/>
<circle cx="584.9" cy="203.4" r="3.28" fill="url(#rg)"/>
<circle cx="584.9" cy="234.4" r="3.28" fill="url(#rg)"/>
<circle cx="584.9" cy="265.4" r="3.28" fill="url(#rg)"/>
<circle cx="584.9" cy="296.4" r="3.28" fill="url(#rg)"/>
<circle cx="584.9" cy="327.4" r="3.28" fill="url(#rg)"/>
<circle cx="584.9" cy="358.4" r="3.28" fill="url(#rg)"/>
<circle cx="584.9" cy="389.4" r="3.28" fill="url(#rg)"/>
<circle cx="584.9" cy="420.4" r="3.28" fill="url(#rg)"/>
<circle cx="584.9" cy="451.4" r="3.28" fill="url(#rg)"/>
<circle cx="584.9" cy="482.4" r="3.28" fill="url(#rg)"/>
<circle cx="611.9" cy="218.9" r="3.28" fill="url(#rg)"/>
<circle cx="611.9" cy="249.9" r="3.28" fill="url(#rg)"/>
<circle cx="611.9" cy="280.9" r="3.28" fill="url(#rg)"/>
<circle cx="611.9" cy="311.9" r="3.28" fill="url(#rg)"/>
<circle cx="611.9" cy="373.9" r="3.28" fill="url(#rg)"/>
<circle cx="611.9" cy="404.9" r="3.28" fill="url(#rg)"/>
<circle cx="611.9" cy="435.9" r="3.28" fill="url(#rg)"/>
<circle cx="611.9" cy="466.9" r="3.28" fill="url(#rg)"/>
<circle cx="638.9" cy="203.4" r="3.28" fill="url(#rg)"/>
<circle cx="638.9" cy="234.4" r="3.28" fill="url(#rg)"/>
<circle cx="638.9" cy="265.4" r="3.28" fill="url(#rg)"/>
<circle cx="638.9" cy="296.4" r="3.28" fill="url(#rg)"/>
<circle cx="638.9" cy="327.4" r="3.28" fill="url(#rg)"/>
<circle cx="638.9" cy="358.4" r="3.28" fill="url(#rg)"/>
<circle cx="638.9" cy="389.4" r="3.28" fill="url(#rg)"/>
<circle cx="638.9" cy="420.4" r="3.28" fill="url(#rg)"/>
<circle cx="638.9" cy="451.4" r="3.28" fill="url(#rg)"/>
<circle cx="638.9" cy="482.4" r="3.28" fill="url(#rg)"/>
<circle cx="665.9" cy="218.9" r="3.28" fill="url(#rg)"/>
<circle cx="665.9" cy="249.9" r="3.28" fill="url(#rg)"/>
<circle cx="665.9" cy="280.9" r="3.28" fill="url(#rg)"/>
<circle cx="665.9" cy="311.9" r="3.28" fill="url(#rg)"/>
<circle cx="665.9" cy="342.9" r="3.28" fill="url(#rg)"/>
<circle cx="665.9" cy="373.9" r="3.28" fill="url(#rg)"/>
<circle cx="665.9" cy="404.9" r="3.28" fill="url(#rg)"/>
<circle cx="665.9" cy="435.9" r="3.28" fill="url(#rg)"/>
<circle cx="665.9" cy="466.9" r="3.28" fill="url(#rg)"/>
<circle cx="692.9" cy="203.4" r="3.28" fill="url(#rg)"/>
<circle cx="692.9" cy="234.4" r="3.28" fill="url(#rg)"/>
<circle cx="692.9" cy="265.4" r="3.28" fill="url(#rg)"/>
<circle cx="692.9" cy="296.4" r="3.28" fill="url(#rg)"/>
<circle cx="692.9" cy="327.4" r="3.28" fill="url(#rg)"/>
<circle cx="692.9" cy="358.4" r="3.28" fill="url(#rg)"/>
<circle cx="692.9" cy="389.4" r="3.28" fill="url(#rg)"/>
<circle cx="692.9" cy="420.4" r="3.28" fill="url(#rg)"/>
<circle cx="692.9" cy="451.4" r="3.28" fill="url(#rg)"/>
<circle cx="692.9" cy="482.4" r="3.28" fill="url(#rg)"/>
<path d="M485.9,218.9L512.9,234.4L503.9,218.9Z" fill="#5a1560" stroke="#3a0a3c" stroke-width="0.25"/>
<path d="M485.9,249.9L512.9,234.4L503.9,249.9Z" fill="#621a68" stroke="#3a0a3c" stroke-width="0.25"/>
<path d="M485.9,249.9L512.9,265.4L503.9,249.9Z" fill="#5a1560" stroke="#3a0a3c" stroke-width="0.25"/>
<path d="M485.9,280.9L512.9,265.4L503.9,280.9Z" fill="#621a68" stroke="#3a0a3c" stroke-width="0.25"/>
<path d="M485.9,280.9L512.9,296.4L503.9,280.9Z" fill="#5a1560" stroke="#3a0a3c" stroke-width="0.25"/>
<path d="M485.9,311.9L512.9,296.4L503.9,311.9Z" fill="#621a68" stroke="#3a0a3c" stroke-width="0.25"/>
<path d="M485.9,311.9L512.9,327.4L503.9,311.9Z" fill="#5a1560" stroke="#3a0a3c" stroke-width="0.25"/>
<path d="M485.9,342.9L512.9,327.4L503.9,342.9Z" fill="#621a68" stroke="#3a0a3c" stroke-width="0.25"/>
<path d="M485.9,342.9L512.9,358.4L503.9,342.9Z" fill="#5a1560" stroke="#3a0a3c" stroke-width="0.25"/>
<path d="M485.9,373.9L512.9,358.4L503.9,373.9Z" fill="#621a68" stroke="#3a0a3c" stroke-width="0.25"/>
<path d="M485.9,373.9L512.9,389.4L503.9,373.9Z" fill="#5a1560" stroke="#3a0a3c" stroke-width="0.25"/>
<path d="M485.9,404.9L512.9,389.4L503.9,404.9Z" fill="#621a68" stroke="#3a0a3c" stroke-width="0.25"/>
<path d="M485.9,404.9L512.9,420.4L503.9,404.9Z" fill="#5a1560" stroke="#3a0a3c" stroke-width="0.25"/>
<path d="M485.9,435.9L512.9,420.4L503.9,435.9Z" fill="#621a68" stroke="#3a0a3c" stroke-width="0.25"/>
<path d="M485.9,435.9L512.9,451.4L503.9,435.9Z" fill="#5a1560" stroke="#3a0a3c" stroke-width="0.25"/>
<path d="M485.9,466.9L512.9,451.4L503.9,466.9Z" fill="#621a68" stroke="#3a0a3c" stroke-width="0.25"/>
<path d="M512.9,203.4L539.9,218.9L530.9,203.4Z" fill="#5a1560" stroke="#3a0a3c" stroke-width="0.25"/>
<path d="M512.9,234.4L539.9,218.9L530.9,234.4Z" fill="#621a68" stroke="#3a0a3c" stroke-width="0.25"/>
<path d="M512.9,234.4L539.9,249.9L530.9,234.4Z" fill="#5a1560" stroke="#3a0a3c" stroke-width="0.25"/>
<path d="M512.9,265.4L539.9,249.9L530.9,265.4Z" fill="#621a68" stroke="#3a0a3c" stroke-width="0.25"/>
<path d="M512.9,265.4L539.9,280.9L530.9,265.4Z" fill="#5a1560" stroke="#3a0a3c" stroke-width="0.25"/>
<path d="M512.9,296.4L539.9,280.9L530.9,296.4Z" fill="#621a68" stroke="#3a0a3c" stroke-width="0.25"/>
<path d="M512.9,296.4L539.9,311.9L530.9,296.4Z" fill="#5a1560" stroke="#3a0a3c" stroke-width="0.25"/>
<path d="M512.9,327.4L539.9,311.9L530.9,327.4Z" fill="#621a68" stroke="#3a0a3c" stroke-width="0.25"/>
<path d="M512.9,327.4L539.9,342.9L530.9,327.4Z" fill="#5a1560" stroke="#3a0a3c" stroke-width="0.25"/>
<path d="M512.9,358.4L539.9,342.9L530.9,358.4Z" fill="#621a68" stroke="#3a0a3c" stroke-width="0.25"/>
<path d="M512.9,358.4L539.9,373.9L530.9,358.4Z" fill="#5a1560" stroke="#3a0a3c" stroke-width="0.25"/>
<path d="M512.9,389.4L539.9,373.9L530.9,389.4Z" fill="#621a68" stroke="#3a0a3c" stroke-width="0.25"/>
<path d="M512.9,389.4L539.9,404.9L530.9,389.4Z" fill="#5a1560" stroke="#3a0a3c" stroke-width="0.25"/>
<path d="M512.9,420.4L539.9,404.9L530.9,420.4Z" fill="#621a68" stroke="#3a0a3c" stroke-width="0.25"/>
<path d="M512.9,420.4L539.9,435.9L530.9,420.4Z" fill="#5a1560" stroke="#3a0a3c" stroke-width="0.25"/>
<path d="M512.9,451.4L539.9,435.9L530.9,451.4Z" fill="#621a68" stroke="#3a0a3c" stroke-width="0.25"/>
<path d="M512.9,451.4L539.9,466.9L530.9,451.4Z" fill="#5a1560" stroke="#3a0a3c" stroke-width="0.25"/>
<path d="M512.9,482.4L539.9,466.9L530.9,482.4Z" fill="#621a68" stroke="#3a0a3c" stroke-width="0.25"/>
<path d="M539.9,218.9L566.9,234.4L557.9,218.9Z" fill="#5a1560" stroke="#3a0a3c" stroke-width="0.25"/>
<path d="M539.9,249.9L566.9,234.4L557.9,249.9Z" fill="#621a68" stroke="#3a0a3c" stroke-width="0.25"/>
<path d="M539.9,249.9L566.9,265.4L557.9,249.9Z" fill="#5a1560" stroke="#3a0a3c" stroke-width="0.25"/>
<path d="M539.9,280.9L566.9,265.4L557.9,280.9Z" fill="#621a68" stroke="#3a0a3c" stroke-width="0.25"/>
<path d="M539.9,280.9L566.9,296.4L557.9,280.9Z" fill="#5a1560" stroke="#3a0a3c" stroke-width="0.25"/>
<path d="M539.9,311.9L566.9,296.4L557.9,311.9Z" fill="#621a68" stroke="#3a0a3c" stroke-width="0.25"/>
<path d="M539.9,311.9L566.9,327.4L557.9,311.9Z" fill="#4e8b9d" stroke="#3a0a3c" stroke-width="0.25"/>
<path d="M539.9,342.9L566.9,327.4L557.9,342.9Z" fill="#5592a4" stroke="#3a0a3c" stroke-width="0.25"/>
<path d="M539.9,342.9L566.9,358.4L557.9,342.9Z" fill="#4e8b9d" stroke="#3a0a3c" stroke-width="0.25"/>
<path d="M539.9,373.9L566.9,358.4L557.9,373.9Z" fill="#5592a4" stroke="#3a0a3c" stroke-width="0.25"/>
<path d="M539.9,373.9L566.9,389.4L557.9,373.9Z" fill="#4e8b9d" stroke="#3a0a3c" stroke-width="0.25"/>
<path d="M539.9,404.9L566.9,389.4L557.9,404.9Z" fill="#5592a4" stroke="#3a0a3c" stroke-width="0.25"/>
<path d="M539.9,404.9L566.9,420.4L557.9,404.9Z" fill="#5a1560" stroke="#3a0a3c" stroke-width="0.25"/>
<path d="M539.9,435.9L566.9,420.4L557.9,435.9Z" fill="#621a68" stroke="#3a0a3c" stroke-width="0.25"/>
<path d="M539.9,435.9L566.9,451.4L557.9,435.9Z" fill="#5a1560" stroke="#3a0a3c" stroke-width="0.25"/>
<path d="M539.9,466.9L566.9,451.4L557.9,466.9Z" fill="#621a68" stroke="#3a0a3c" stroke-width="0.25"/>
<path d="M566.9,203.4L593.9,218.9L584.9,203.4Z" fill="#5a1560" stroke="#3a0a3c" stroke-width="0.25"/>
<path d="M566.9,234.4L593.9,218.9L584.9,234.4Z" fill="#621a68" stroke="#3a0a3c" stroke-width="0.25"/>
<path d="M566.9,265.4L593.9,280.9L584.9,265.4Z" fill="#5a1560" stroke="#3a0a3c" stroke-width="0.25"/>
<path d="M566.9,296.4L593.9,280.9L584.9,296.4Z" fill="#621a68" stroke="#3a0a3c" stroke-width="0.25"/>
<path d="M566.9,296.4L593.9,311.9L584.9,296.4Z" fill="#4e8b9d" stroke="#3a0a3c" stroke-width="0.25"/>
<path d="M566.9,327.4L593.9,311.9L584.9,327.4Z" fill="#5592a4" stroke="#3a0a3c" stroke-width="0.25"/>
<path d="M566.9,358.4L593.9,373.9L584.9,358.4Z" fill="#4e8b9d" stroke="#3a0a3c" stroke-width="0.25"/>
<path d="M566.9,389.4L593.9,373.9L584.9,389.4Z" fill="#5592a4" stroke="#3a0a3c" stroke-width="0.25"/>
<path d="M566.9,389.4L593.9,404.9L584.9,389.4Z" fill="#5a1560" stroke="#3a0a3c" stroke-width="0.25"/>
<path d="M566.9,420.4L593.9,404.9L584.9,420.4Z" fill="#621a68" stroke="#3a0a3c" stroke-width="0.25"/>
<path d="M566.9,451.4L593.9,466.9L584.9,451.4Z" fill="#5a1560" stroke="#3a0a3c" stroke-width="0.25"/>
<path d="M566.9,482.4L593.9,466.9L584.9,482.4Z" fill="#621a68" stroke="#3a0a3c" stroke-width="0.25"/>
<path d="M593.9,218.9L620.9,234.4L611.9,218.9Z" fill="#5a1560" stroke="#3a0a3c" stroke-width="0.25"/>
<path d="M593.9,249.9L620.9,234.4L611.9,249.9Z" fill="#621a68" stroke="#3a0a3c" stroke-width="0.25"/>
<path d="M593.9,249.9L620.9,265.4L611.9,249.9Z" fill="#5a1560" stroke="#3a0a3c" stroke-width="0.25"/>
<path d="M593.9,280.9L620.9,265.4L611.9,280.9Z" fill="#621a68" stroke="#3a0a3c" stroke-width="0.25"/>
<path d="M593.9,280.9L620.9,296.4L611.9,280.9Z" fill="#4e8b9d" stroke="#3a0a3c" stroke-width="0.25"/>
<path d="M593.9,311.9L620.9,296.4L611.9,311.9Z" fill="#5592a4" stroke="#3a0a3c" stroke-width="0.25"/>
<path d="M593.9,373.9L620.9,389.4L611.9,373.9Z" fill="#4e8b9d" stroke="#3a0a3c" stroke-width="0.25"/>
<path d="M593.9,404.9L620.9,389.4L611.9,404.9Z" fill="#5592a4" stroke="#3a0a3c" stroke-width="0.25"/>
<path d="M593.9,404.9L620.9,420.4L611.9,404.9Z" fill="#5a1560" stroke="#3a0a3c" stroke-width="0.25"/>
<path d="M593.9,435.9L620.9,420.4L611.9,435.9Z" fill="#621a68" stroke="#3a0a3c" stroke-width="0.25"/>
<path d="M593.9,435.9L620.9,451.4L611.9,435.9Z" fill="#5a1560" stroke="#3a0a3c" stroke-width="0.25"/>
<path d="M593.9,466.9L620.9,451.4L611.9,466.9Z" fill="#621a68" stroke="#3a0a3c" stroke-width="0.25"/>
<path d="M620.9,203.4L647.9,218.9L638.9,203.4Z" fill="#5a1560" stroke="#3a0a3c" stroke-width="0.25"/>
<path d="M620.9,234.4L647.9,218.9L638.9,234.4Z" fill="#621a68" stroke="#3a0a3c" stroke-width="0.25"/>
<path d="M620.9,234.4L647.9,249.9L638.9,234.4Z" fill="#5a1560" stroke="#3a0a3c" stroke-width="0.25"/>
<path d="M620.9,265.4L647.9,249.9L638.9,265.4Z" fill="#621a68" stroke="#3a0a3c" stroke-width="0.25"/>
<path d="M620.9,265.4L647.9,280.9L638.9,265.4Z" fill="#4e8b9d" stroke="#3a0a3c" stroke-width="0.25"/>
<path d="M620.9,296.4L647.9,280.9L638.9,296.4Z" fill="#5592a4" stroke="#3a0a3c" stroke-width="0.25"/>
<path d="M620.9,296.4L647.9,311.9L638.9,296.4Z" fill="#4e8b9d" stroke="#3a0a3c" stroke-width="0.25"/>
<path d="M620.9,327.4L647.9,311.9L638.9,327.4Z" fill="#5592a4" stroke="#3a0a3c" stroke-width="0.25"/>
<path d="M620.9,358.4L647.9,373.9L638.9,358.4Z" fill="#4e8b9d" stroke="#3a0a3c" stroke-width="0.25"/>
<path d="M620.9,389.4L647.9,373.9L638.9,389.4Z" fill="#5592a4" stroke="#3a0a3c" stroke-width="0.25"/>
<path d="M620.9,389.4L647.9,404.9L638.9,389.4Z" fill="#5a1560" stroke="#3a0a3c" stroke-width="0.25"/>
<path d="M620.9,420.4L647.9,404.9L638.9,420.4Z" fill="#621a68" stroke="#3a0a3c" stroke-width="0.25"/>
<path d="M620.9,451.4L647.9,466.9L638.9,451.4Z" fill="#5a1560" stroke="#3a0a3c" stroke-width="0.25"/>
<path d="M620.9,482.4L647.9,466.9L638.9,482.4Z" fill="#621a68" stroke="#3a0a3c" stroke-width="0.25"/>
<path d="M647.9,218.9L674.9,234.4L665.9,218.9Z" fill="#5a1560" stroke="#3a0a3c" stroke-width="0.25"/>
<path d="M647.9,249.9L674.9,234.4L665.9,249.9Z" fill="#621a68" stroke="#3a0a3c" stroke-width="0.25"/>
<path d="M647.9,249.9L674.9,265.4L665.9,249.9Z" fill="#5a1560" stroke="#3a0a3c" stroke-width="0.25"/>
<path d="M647.9,280.9L674.9,265.4L665.9,280.9Z" fill="#621a68" stroke="#3a0a3c" stroke-width="0.25"/>
<path d="M647.9,280.9L674.9,296.4L665.9,280.9Z" fill="#5a1560" stroke="#3a0a3c" stroke-width="0.25"/>
<path d="M647.9,311.9L674.9,296.4L665.9,311.9Z" fill="#621a68" stroke="#3a0a3c" stroke-width="0.25"/>
<path d="M647.9,311.9L674.9,327.4L665.9,311.9Z" fill="#4e8b9d" stroke="#3a0a3c" stroke-width="0.25"/>
<path d="M647.9,342.9L674.9,327.4L665.9,342.9Z" fill="#5592a4" stroke="#3a0a3c" stroke-width="0.25"/>
<path d="M647.9,342.9L674.9,358.4L665.9,342.9Z" fill="#4e8b9d" stroke="#3a0a3c" stroke-width="0.25"/>
<path d="M647.9,373.9L674.9,358.4L665.9,373.9Z" fill="#5592a4" stroke="#3a0a3c" stroke-width="0.25"/>
<path d="M647.9,373.9L674.9,389.4L665.9,373.9Z" fill="#5a1560" stroke="#3a0a3c" stroke-width="0.25"/>
<path d="M647.9,404.9L674.9,389.4L665.9,404.9Z" fill="#621a68" stroke="#3a0a3c" stroke-width="0.25"/>
<path d="M647.9,404.9L674.9,420.4L665.9,404.9Z" fill="#5a1560" stroke="#3a0a3c" stroke-width="0.25"/>
<path d="M647.9,435.9L674.9,420.4L665.9,435.9Z" fill="#621a68" stroke="#3a0a3c" stroke-width="0.25"/>
<path d="M647.9,435.9L674.9,451.4L665.9,435.9Z" fill="#5a1560" stroke="#3a0a3c" stroke-width="0.25"/>
<path d="M647.9,466.9L674.9,451.4L665.9,466.9Z" fill="#621a68" stroke="#3a0a3c" stroke-width="0.25"/>
<path d="M674.9,203.4L701.9,218.9L692.9,203.4Z" fill="#5a1560" stroke="#3a0a3c" stroke-width="0.25"/>
<path d="M674.9,234.4L701.9,218.9L692.9,234.4Z" fill="#621a68" stroke="#3a0a3c" stroke-width="0.25"/>
<path d="M674.9,234.4L701.9,249.9L692.9,234.4Z" fill="#5a1560" stroke="#3a0a3c" stroke-width="0.25"/>
<path d="M674.9,265.4L701.9,249.9L692.9,265.4Z" fill="#621a68" stroke="#3a0a3c" stroke-width="0.25"/>
<path d="M674.9,265.4L701.9,280.9L692.9,265.4Z" fill="#5a1560" stroke="#3a0a3c" stroke-width="0.25"/>
<path d="M674.9,296.4L701.9,280.9L692.9,296.4Z" fill="#621a68" stroke="#3a0a3c" stroke-width="0.25"/>
<path d="M674.9,296.4L701.9,311.9L692.9,296.4Z" fill="#5a1560" stroke="#3a0a3c" stroke-width="0.25"/>
<path d="M674.9,327.4L701.9,311.9L692.9,327.4Z" fill="#621a68" stroke="#3a0a3c" stroke-width="0.25"/>
<path d="M674.9,327.4L701.9,342.9L692.9,327.4Z" fill="#5a1560" stroke="#3a0a3c" stroke-width="0.25"/>
<path d="M674.9,358.4L701.9,342.9L692.9,358.4Z" fill="#621a68" stroke="#3a0a3c" stroke-width="0.25"/>
<path d="M674.9,358.4L701.9,373.9L692.9,358.4Z" fill="#5a1560" stroke="#3a0a3c" stroke-width="0.25"/>
<path d="M674.9,389.4L701.9,373.9L692.9,389.4Z" fill="#621a68" stroke="#3a0a3c" stroke-width="0.25"/>
<path d="M674.9,389.4L701.9,404.9L692.9,389.4Z" fill="#5a1560" stroke="#3a0a3c" stroke-width="0.25"/>
<path d="M674.9,420.4L701.9,404.9L692.9,420.4Z" fill="#621a68" stroke="#3a0a3c" stroke-width="0.25"/>
<path d="M674.9,420.4L701.9,435.9L692.9,420.4Z" fill="#5a1560" stroke="#3a0a3c" stroke-width="0.25"/>
<path d="M674.9,451.4L701.9,435.9L692.9,451.4Z" fill="#621a68" stroke="#3a0a3c" stroke-width="0.25"/>
<path d="M674.9,451.4L701.9,466.9L692.9,451.4Z" fill="#5a1560" stroke="#3a0a3c" stroke-width="0.25"/>
<path d="M674.9,482.4L701.9,466.9L692.9,482.4Z" fill="#621a68" stroke="#3a0a3c" stroke-width="0.25"/>
<circle cx="476.9" cy="234.4" r="3.48" fill="#a0102a" opacity="0.45"/>
<circle cx="476.9" cy="234.4" r="2.38" fill="#f00000"/>
<circle cx="503.9" cy="218.9" r="3.48" fill="#a0102a" opacity="0.45"/>
<circle cx="503.9" cy="218.9" r="2.38" fill="#f00000"/>
<circle cx="503.9" cy="249.9" r="3.48" fill="#a0102a" opacity="0.45"/>
<circle cx="503.9" cy="249.9" r="2.38" fill="#f00000"/>
<circle cx="476.9" cy="265.4" r="3.48" fill="#a0102a" opacity="0.45"/>
<circle cx="476.9" cy="265.4" r="2.38" fill="#f00000"/>
<circle cx="503.9" cy="280.9" r="3.48" fill="#a0102a" opacity="0.45"/>
<circle cx="503.9" cy="280.9" r="2.38" fill="#f00000"/>
<circle cx="476.9" cy="296.4" r="3.48" fill="#a0102a" opacity="0.45"/>
<circle cx="476.9" cy="296.4" r="2.38" fill="#f00000"/>
<circle cx="503.9" cy="311.9" r="3.48" fill="#a0102a" opacity="0.45"/>
<circle cx="503.9" cy="311.9" r="2.38" fill="#f00000"/>
<circle cx="476.9" cy="327.4" r="3.48" fill="#a0102a" opacity="0.45"/>
<circle cx="476.9" cy="327.4" r="2.38" fill="#f00000"/>
<circle cx="503.9" cy="342.9" r="3.48" fill="#a0102a" opacity="0.45"/>
<circle cx="503.9" cy="342.9" r="2.38" fill="#f00000"/>
<circle cx="476.9" cy="358.4" r="3.48" fill="#a0102a" opacity="0.45"/>
<circle cx="476.9" cy="358.4" r="2.38" fill="#f00000"/>
<circle cx="503.9" cy="373.9" r="3.48" fill="#a0102a" opacity="0.45"/>
<circle cx="503.9" cy="373.9" r="2.38" fill="#f00000"/>
<circle cx="476.9" cy="389.4" r="3.48" fill="#a0102a" opacity="0.45"/>
<circle cx="476.9" cy="389.4" r="2.38" fill="#f00000"/>
<circle cx="503.9" cy="404.9" r="3.48" fill="#a0102a" opacity="0.45"/>
<circle cx="503.9" cy="404.9" r="2.38" fill="#f00000"/>
<circle cx="476.9" cy="420.4" r="3.48" fill="#a0102a" opacity="0.45"/>
<circle cx="476.9" cy="420.4" r="2.38" fill="#f00000"/>
<circle cx="503.9" cy="435.9" r="3.48" fill="#a0102a" opacity="0.45"/>
<circle cx="503.9" cy="435.9" r="2.38" fill="#f00000"/>
<circle cx="476.9" cy="451.4" r="3.48" fill="#a0102a" opacity="0.45"/>
<circle cx="476.9" cy="451.4" r="2.38" fill="#f00000"/>
<circle cx="503.9" cy="466.9" r="3.48" fill="#a0102a" opacity="0.45"/>
<circle cx="503.9" cy="466.9" r="2.38" fill="#f00000"/>
<circle cx="530.9" cy="203.4" r="3.48" fill="#a0102a" opacity="0.45"/>
<circle cx="530.9" cy="203.4" r="2.38" fill="#f00000"/>
<circle cx="530.9" cy="234.4" r="3.48" fill="#a0102a" opacity="0.45"/>
<circle cx="530.9" cy="234.4" r="2.38" fill="#f00000"/>
<circle cx="530.9" cy="265.4" r="3.48" fill="#a0102a" opacity="0.45"/>
<circle cx="530.9" cy="265.4" r="2.38" fill="#f00000"/>
<circle cx="530.9" cy="296.4" r="3.48" fill="#a0102a" opacity="0.45"/>
<circle cx="530.9" cy="296.4" r="2.38" fill="#f00000"/>
<circle cx="530.9" cy="327.4" r="3.48" fill="#a0102a" opacity="0.45"/>
<circle cx="530.9" cy="327.4" r="2.38" fill="#f00000"/>
<circle cx="530.9" cy="358.4" r="3.48" fill="#a0102a" opacity="0.45"/>
<circle cx="530.9" cy="358.4" r="2.38" fill="#f00000"/>
<circle cx="530.9" cy="389.4" r="3.48" fill="#a0102a" opacity="0.45"/>
<circle cx="530.9" cy="389.4" r="2.38" fill="#f00000"/>
<circle cx="530.9" cy="420.4" r="3.48" fill="#a0102a" opacity="0.45"/>
<circle cx="530.9" cy="420.4" r="2.38" fill="#f00000"/>
<circle cx="530.9" cy="451.4" r="3.48" fill="#a0102a" opacity="0.45"/>
<circle cx="530.9" cy="451.4" r="2.38" fill="#f00000"/>
<circle cx="530.9" cy="482.4" r="3.48" fill="#a0102a" opacity="0.45"/>
<circle cx="530.9" cy="482.4" r="2.38" fill="#f00000"/>
<circle cx="557.9" cy="218.9" r="3.48" fill="#a0102a" opacity="0.45"/>
<circle cx="557.9" cy="218.9" r="2.38" fill="#f00000"/>
<circle cx="557.9" cy="249.9" r="3.48" fill="#a0102a" opacity="0.45"/>
<circle cx="557.9" cy="249.9" r="2.38" fill="#f00000"/>
<circle cx="557.9" cy="280.9" r="3.48" fill="#a0102a" opacity="0.45"/>
<circle cx="557.9" cy="280.9" r="2.38" fill="#f00000"/>
<circle cx="557.9" cy="311.9" r="3.48" fill="#a0102a" opacity="0.45"/>
<circle cx="557.9" cy="311.9" r="2.38" fill="#f00000"/>
<circle cx="557.9" cy="342.9" r="3.48" fill="#a0102a" opacity="0.45"/>
<circle cx="557.9" cy="342.9" r="2.38" fill="#f00000"/>
<circle cx="557.9" cy="373.9" r="3.48" fill="#a0102a" opacity="0.45"/>
<circle cx="557.9" cy="373.9" r="2.38" fill="#f00000"/>
<circle cx="557.9" cy="404.9" r="3.48" fill="#a0102a" opacity="0.45"/>
<circle cx="557.9" cy="404.9" r="2.38" fill="#f00000"/>
<circle cx="557.9" cy="435.9" r="3.48" fill="#a0102a" opacity="0.45"/>
<circle cx="557.9" cy="435.9" r="2.38" fill="#f00000"/>
<circle cx="557.9" cy="466.9" r="3.48" fill="#a0102a" opacity="0.45"/>
<circle cx="557.9" cy="466.9" r="2.38" fill="#f00000"/>
<circle cx="584.9" cy="203.4" r="3.48" fill="#a0102a" opacity="0.45"/>
<circle cx="584.9" cy="203.4" r="2.38" fill="#f00000"/>
<circle cx="584.9" cy="234.4" r="3.48" fill="#a0102a" opacity="0.45"/>
<circle cx="584.9" cy="234.4" r="2.38" fill="#f00000"/>
<circle cx="584.9" cy="265.4" r="3.48" fill="#a0102a" opacity="0.45"/>
<circle cx="584.9" cy="265.4" r="2.38" fill="#f00000"/>
<circle cx="584.9" cy="296.4" r="3.48" fill="#a0102a" opacity="0.45"/>
<circle cx="584.9" cy="296.4" r="2.38" fill="#f00000"/>
<circle cx="584.9" cy="327.4" r="3.48" fill="#a0102a" opacity="0.45"/>
<circle cx="584.9" cy="327.4" r="2.38" fill="#f00000"/>
<circle cx="584.9" cy="358.4" r="3.48" fill="#a0102a" opacity="0.45"/>
<circle cx="584.9" cy="358.4" r="2.38" fill="#f00000"/>
<circle cx="584.9" cy="389.4" r="3.48" fill="#a0102a" opacity="0.45"/>
<circle cx="584.9" cy="389.4" r="2.38" fill="#f00000"/>
<circle cx="584.9" cy="420.4" r="3.48" fill="#a0102a" opacity="0.45"/>
<circle cx="584.9" cy="420.4" r="2.38" fill="#f00000"/>
<circle cx="584.9" cy="451.4" r="3.48" fill="#a0102a" opacity="0.45"/>
<circle cx="584.9" cy="451.4" r="2.38" fill="#f00000"/>
<circle cx="584.9" cy="482.4" r="3.48" fill="#a0102a" opacity="0.45"/>
<circle cx="584.9" cy="482.4" r="2.38" fill="#f00000"/>
<circle cx="611.9" cy="218.9" r="3.48" fill="#a0102a" opacity="0.45"/>
<circle cx="611.9" cy="218.9" r="2.38" fill="#f00000"/>
<circle cx="611.9" cy="249.9" r="3.48" fill="#a0102a" opacity="0.45"/>
<circle cx="611.9" cy="249.9" r="2.38" fill="#f00000"/>
<circle cx="611.9" cy="280.9" r="3.48" fill="#a0102a" opacity="0.45"/>
<circle cx="611.9" cy="280.9" r="2.38" fill="#f00000"/>
<circle cx="611.9" cy="311.9" r="3.48" fill="#a0102a" opacity="0.45"/>
<circle cx="611.9" cy="311.9" r="2.38" fill="#f00000"/>
<circle cx="611.9" cy="373.9" r="3.48" fill="#a0102a" opacity="0.45"/>
<circle cx="611.9" cy="373.9" r="2.38" fill="#f00000"/>
<circle cx="611.9" cy="404.9" r="3.48" fill="#a0102a" opacity="0.45"/>
<circle cx="611.9" cy="404.9" r="2.38" fill="#f00000"/>
<circle cx="611.9" cy="435.9" r="3.48" fill="#a0102a" opacity="0.45"/>
<circle cx="611.9" cy="435.9" r="2.38" fill="#f00000"/>
<circle cx="611.9" cy="466.9" r="3.48" fill="#a0102a" opacity="0.45"/>
<circle cx="611.9" cy="466.9" r="2.38" fill="#f00000"/>
<circle cx="638.9" cy="203.4" r="3.48" fill="#a0102a" opacity="0.45"/>
<circle cx="638.9" cy="203.4" r="2.38" fill="#f00000"/>
<circle cx="638.9" cy="234.4" r="3.48" fill="#a0102a" opacity="0.45"/>
<circle cx="638.9" cy="234.4" r="2.38" fill="#f00000"/>
<circle cx="638.9" cy="265.4" r="3.48" fill="#a0102a" opacity="0.45"/>
<circle cx="638.9" cy="265.4" r="2.38" fill="#f00000"/>
<circle cx="638.9" cy="296.4" r="3.48" fill="#a0102a" opacity="0.45"/>
<circle cx="638.9" cy="296.4" r="2.38" fill="#f00000"/>
<circle cx="638.9" cy="327.4" r="3.48" fill="#a0102a" opacity="0.45"/>
<circle cx="638.9" cy="327.4" r="2.38" fill="#f00000"/>
<circle cx="638.9" cy="358.4" r="3.48" fill="#a0102a" opacity="0.45"/>
<circle cx="638.9" cy="358.4" r="2.38" fill="#f00000"/>
<circle cx="638.9" cy="389.4" r="3.48" fill="#a0102a" opacity="0.45"/>
<circle cx="638.9" cy="389.4" r="2.38" fill="#f00000"/>
<circle cx="638.9" cy="420.4" r="3.48" fill="#a0102a" opacity="0.45"/>
<circle cx="638.9" cy="420.4" r="2.38" fill="#f00000"/>
<circle cx="638.9" cy="451.4" r="3.48" fill="#a0102a" opacity="0.45"/>
<circle cx="638.9" cy="451.4" r="2.38" fill="#f00000"/>
<circle cx="638.9" cy="482.4" r="3.48" fill="#a0102a" opacity="0.45"/>
<circle cx="638.9" cy="482.4" r="2.38" fill="#f00000"/>
<circle cx="665.9" cy="218.9" r="3.48" fill="#a0102a" opacity="0.45"/>
<circle cx="665.9" cy="218.9" r="2.38" fill="#f00000"/>
<circle cx="665.9" cy="249.9" r="3.48" fill="#a0102a" opacity="0.45"/>
<circle cx="665.9" cy="249.9" r="2.38" fill="#f00000"/>
<circle cx="665.9" cy="280.9" r="3.48" fill="#a0102a" opacity="0.45"/>
<circle cx="665.9" cy="280.9" r="2.38" fill="#f00000"/>
<circle cx="665.9" cy="311.9" r="3.48" fill="#a0102a" opacity="0.45"/>
<circle cx="665.9" cy="311.9" r="2.38" fill="#f00000"/>
<circle cx="665.9" cy="342.9" r="3.48" fill="#a0102a" opacity="0.45"/>
<circle cx="665.9" cy="342.9" r="2.38" fill="#f00000"/>
<circle cx="665.9" cy="373.9" r="3.48" fill="#a0102a" opacity="0.45"/>
<circle cx="665.9" cy="373.9" r="2.38" fill="#f00000"/>
<circle cx="665.9" cy="404.9" r="3.48" fill="#a0102a" opacity="0.45"/>
<circle cx="665.9" cy="404.9" r="2.38" fill="#f00000"/>
<circle cx="665.9" cy="435.9" r="3.48" fill="#a0102a" opacity="0.45"/>
<circle cx="665.9" cy="435.9" r="2.38" fill="#f00000"/>
<circle cx="665.9" cy="466.9" r="3.48" fill="#a0102a" opacity="0.45"/>
<circle cx="665.9" cy="466.9" r="2.38" fill="#f00000"/>
<circle cx="692.9" cy="203.4" r="3.48" fill="#a0102a" opacity="0.45"/>
<circle cx="692.9" cy="203.4" r="2.38" fill="#f00000"/>
<circle cx="692.9" cy="234.4" r="3.48" fill="#a0102a" opacity="0.45"/>
<circle cx="692.9" cy="234.4" r="2.38" fill="#f00000"/>
<circle cx="692.9" cy="265.4" r="3.48" fill="#a0102a" opacity="0.45"/>
<circle cx="692.9" cy="265.4" r="2.38" fill="#f00000"/>
<circle cx="692.9" cy="296.4" r="3.48" fill="#a0102a" opacity="0.45"/>
<circle cx="692.9" cy="296.4" r="2.38" fill="#f00000"/>
<circle cx="692.9" cy="327.4" r="3.48" fill="#a0102a" opacity="0.45"/>
<circle cx="692.9" cy="327.4" r="2.38" fill="#f00000"/>
<circle cx="692.9" cy="358.4" r="3.48" fill="#a0102a" opacity="0.45"/>
<circle cx="692.9" cy="358.4" r="2.38" fill="#f00000"/>
<circle cx="692.9" cy="389.4" r="3.48" fill="#a0102a" opacity="0.45"/>
<circle cx="692.9" cy="389.4" r="2.38" fill="#f00000"/>
<circle cx="692.9" cy="420.4" r="3.48" fill="#a0102a" opacity="0.45"/>
<circle cx="692.9" cy="420.4" r="2.38" fill="#f00000"/>
<circle cx="692.9" cy="451.4" r="3.48" fill="#a0102a" opacity="0.45"/>
<circle cx="692.9" cy="451.4" r="2.38" fill="#f00000"/>
<circle cx="692.9" cy="482.4" r="3.48" fill="#a0102a" opacity="0.45"/>
<circle cx="692.9" cy="482.4" r="2.38" fill="#f00000"/>
<path d="M485.9,218.9L485.9,249.9L476.9,234.4Z" fill="#6a2172" stroke="#3a0a3c" stroke-width="0.25"/>
<path d="M485.9,249.9L485.9,280.9L476.9,265.4Z" fill="#6a2172" stroke="#3a0a3c" stroke-width="0.25"/>
<path d="M485.9,280.9L485.9,311.9L476.9,296.4Z" fill="#6a2172" stroke="#3a0a3c" stroke-width="0.25"/>
<path d="M485.9,311.9L485.9,342.9L476.9,327.4Z" fill="#6a2172" stroke="#3a0a3c" stroke-width="0.25"/>
<path d="M485.9,342.9L485.9,373.9L476.9,358.4Z" fill="#6a2172" stroke="#3a0a3c" stroke-width="0.25"/>
<path d="M485.9,373.9L485.9,404.9L476.9,389.4Z" fill="#6a2172" stroke="#3a0a3c" stroke-width="0.25"/>
<path d="M485.9,404.9L485.9,435.9L476.9,420.4Z" fill="#6a2172" stroke="#3a0a3c" stroke-width="0.25"/>
<path d="M485.9,435.9L485.9,466.9L476.9,451.4Z" fill="#6a2172" stroke="#3a0a3c" stroke-width="0.25"/>
<path d="M512.9,203.4L512.9,234.4L503.9,218.9Z" fill="#6a2172" stroke="#3a0a3c" stroke-width="0.25"/>
<path d="M512.9,234.4L512.9,265.4L503.9,249.9Z" fill="#6a2172" stroke="#3a0a3c" stroke-width="0.25"/>
<path d="M512.9,265.4L512.9,296.4L503.9,280.9Z" fill="#6a2172" stroke="#3a0a3c" stroke-width="0.25"/>
<path d="M512.9,296.4L512.9,327.4L503.9,311.9Z" fill="#6a2172" stroke="#3a0a3c" stroke-width="0.25"/>
<path d="M512.9,327.4L512.9,358.4L503.9,342.9Z" fill="#6a2172" stroke="#3a0a3c" stroke-width="0.25"/>
<path d="M512.9,358.4L512.9,389.4L503.9,373.9Z" fill="#6a2172" stroke="#3a0a3c" stroke-width="0.25"/>
<path d="M512.9,389.4L512.9,420.4L503.9,404.9Z" fill="#6a2172" stroke="#3a0a3c" stroke-width="0.25"/>
<path d="M512.9,420.4L512.9,451.4L503.9,435.9Z" fill="#6a2172" stroke="#3a0a3c" stroke-width="0.25"/>
<path d="M512.9,451.4L512.9,482.4L503.9,466.9Z" fill="#6a2172" stroke="#3a0a3c" stroke-width="0.25"/>
<path d="M539.9,218.9L539.9,249.9L530.9,234.4Z" fill="#6a2172" stroke="#3a0a3c" stroke-width="0.25"/>
<path d="M539.9,249.9L539.9,280.9L530.9,265.4Z" fill="#6a2172" stroke="#3a0a3c" stroke-width="0.25"/>
<path d="M539.9,280.9L539.9,311.9L530.9,296.4Z" fill="#6a2172" stroke="#3a0a3c" stroke-width="0.25"/>
<path d="M539.9,311.9L539.9,342.9L530.9,327.4Z" fill="#5c9aab" stroke="#3a0a3c" stroke-width="0.25"/>
<path d="M539.9,342.9L539.9,373.9L530.9,358.4Z" fill="#5c9aab" stroke="#3a0a3c" stroke-width="0.25"/>
<path d="M539.9,373.9L539.9,404.9L530.9,389.4Z" fill="#5c9aab" stroke="#3a0a3c" stroke-width="0.25"/>
<path d="M539.9,404.9L539.9,435.9L530.9,420.4Z" fill="#6a2172" stroke="#3a0a3c" stroke-width="0.25"/>
<path d="M539.9,435.9L539.9,466.9L530.9,451.4Z" fill="#6a2172" stroke="#3a0a3c" stroke-width="0.25"/>
<path d="M566.9,203.4L566.9,234.4L557.9,218.9Z" fill="#6a2172" stroke="#3a0a3c" stroke-width="0.25"/>
<path d="M566.9,265.4L566.9,296.4L557.9,280.9Z" fill="#6a2172" stroke="#3a0a3c" stroke-width="0.25"/>
<path d="M566.9,296.4L566.9,327.4L557.9,311.9Z" fill="#5c9aab" stroke="#3a0a3c" stroke-width="0.25"/>
<path d="M566.9,358.4L566.9,389.4L557.9,373.9Z" fill="#5c9aab" stroke="#3a0a3c" stroke-width="0.25"/>
<path d="M566.9,389.4L566.9,420.4L557.9,404.9Z" fill="#6a2172" stroke="#3a0a3c" stroke-width="0.25"/>
<path d="M566.9,451.4L566.9,482.4L557.9,466.9Z" fill="#6a2172" stroke="#3a0a3c" stroke-width="0.25"/>
<path d="M593.9,218.9L593.9,249.9L584.9,234.4Z" fill="#6a2172" stroke="#3a0a3c" stroke-width="0.25"/>
<path d="M593.9,249.9L593.9,280.9L584.9,265.4Z" fill="#6a2172" stroke="#3a0a3c" stroke-width="0.25"/>
<path d="M593.9,280.9L593.9,311.9L584.9,296.4Z" fill="#5c9aab" stroke="#3a0a3c" stroke-width="0.25"/>
<path d="M593.9,373.9L593.9,404.9L584.9,389.4Z" fill="#5c9aab" stroke="#3a0a3c" stroke-width="0.25"/>
<path d="M593.9,404.9L593.9,435.9L584.9,420.4Z" fill="#6a2172" stroke="#3a0a3c" stroke-width="0.25"/>
<path d="M593.9,435.9L593.9,466.9L584.9,451.4Z" fill="#6a2172" stroke="#3a0a3c" stroke-width="0.25"/>
<path d="M620.9,203.4L620.9,234.4L611.9,218.9Z" fill="#6a2172" stroke="#3a0a3c" stroke-width="0.25"/>
<path d="M620.9,234.4L620.9,265.4L611.9,249.9Z" fill="#6a2172" stroke="#3a0a3c" stroke-width="0.25"/>
<path d="M620.9,265.4L620.9,296.4L611.9,280.9Z" fill="#5c9aab" stroke="#3a0a3c" stroke-width="0.25"/>
<path d="M620.9,296.4L620.9,327.4L611.9,311.9Z" fill="#5c9aab" stroke="#3a0a3c" stroke-width="0.25"/>
<path d="M620.9,358.4L620.9,389.4L611.9,373.9Z" fill="#5c9aab" stroke="#3a0a3c" stroke-width="0.25"/>
<path d="M620.9,389.4L620.9,420.4L611.9,404.9Z" fill="#6a2172" stroke="#3a0a3c" stroke-width="0.25"/>
<path d="M620.9,451.4L620.9,482.4L611.9,466.9Z" fill="#6a2172" stroke="#3a0a3c" stroke-width="0.25"/>
<path d="M647.9,218.9L647.9,249.9L638.9,234.4Z" fill="#6a2172" stroke="#3a0a3c" stroke-width="0.25"/>
<path d="M647.9,249.9L647.9,280.9L638.9,265.4Z" fill="#6a2172" stroke="#3a0a3c" stroke-width="0.25"/>
<path d="M647.9,280.9L647.9,311.9L638.9,296.4Z" fill="#6a2172" stroke="#3a0a3c" stroke-width="0.25"/>
<path d="M647.9,311.9L647.9,342.9L638.9,327.4Z" fill="#5c9aab" stroke="#3a0a3c" stroke-width="0.25"/>
<path d="M647.9,342.9L647.9,373.9L638.9,358.4Z" fill="#5c9aab" stroke="#3a0a3c" stroke-width="0.25"/>
<path d="M647.9,373.9L647.9,404.9L638.9,389.4Z" fill="#6a2172" stroke="#3a0a3c" stroke-width="0.25"/>
<path d="M647.9,404.9L647.9,435.9L638.9,420.4Z" fill="#6a2172" stroke="#3a0a3c" stroke-width="0.25"/>
<path d="M647.9,435.9L647.9,466.9L638.9,451.4Z" fill="#6a2172" stroke="#3a0a3c" stroke-width="0.25"/>
<path d="M674.9,203.4L674.9,234.4L665.9,218.9Z" fill="#6a2172" stroke="#3a0a3c" stroke-width="0.25"/>
<path d="M674.9,234.4L674.9,265.4L665.9,249.9Z" fill="#6a2172" stroke="#3a0a3c" stroke-width="0.25"/>
<path d="M674.9,265.4L674.9,296.4L665.9,280.9Z" fill="#6a2172" stroke="#3a0a3c" stroke-width="0.25"/>
<path d="M674.9,296.4L674.9,327.4L665.9,311.9Z" fill="#6a2172" stroke="#3a0a3c" stroke-width="0.25"/>
<path d="M674.9,327.4L674.9,358.4L665.9,342.9Z" fill="#6a2172" stroke="#3a0a3c" stroke-width="0.25"/>
<path d="M674.9,358.4L674.9,389.4L665.9,373.9Z" fill="#6a2172" stroke="#3a0a3c" stroke-width="0.25"/>
<path d="M674.9,389.4L674.9,420.4L665.9,404.9Z" fill="#6a2172" stroke="#3a0a3c" stroke-width="0.25"/>
<path d="M674.9,420.4L674.9,451.4L665.9,435.9Z" fill="#6a2172" stroke="#3a0a3c" stroke-width="0.25"/>
<path d="M674.9,451.4L674.9,482.4L665.9,466.9Z" fill="#6a2172" stroke="#3a0a3c" stroke-width="0.25"/>
<path d="M485.9,218.9L485.9,249.9L512.9,234.4Z" fill="#e06ae4" stroke="#3a0a3c" stroke-width="0.5"/>
<circle cx="494.1" cy="234.4" r="4" fill="#cf55d3"/>
<path d="M485.9,249.9L485.9,280.9L512.9,265.4Z" fill="#e06ae4" stroke="#3a0a3c" stroke-width="0.5"/>
<circle cx="494.1" cy="265.4" r="4" fill="#cf55d3"/>
<path d="M485.9,280.9L485.9,311.9L512.9,296.4Z" fill="#e06ae4" stroke="#3a0a3c" stroke-width="0.5"/>
<circle cx="494.1" cy="296.4" r="4" fill="#cf55d3"/>
<path d="M485.9,311.9L485.9,342.9L512.9,327.4Z" fill="#e06ae4" stroke="#3a0a3c" stroke-width="0.5"/>
<circle cx="494.1" cy="327.4" r="4" fill="#cf55d3"/>
<path d="M485.9,342.9L485.9,373.9L512.9,358.4Z" fill="#e06ae4" stroke="#3a0a3c" stroke-width="0.5"/>
<circle cx="494.1" cy="358.4" r="4" fill="#cf55d3"/>
<path d="M485.9,373.9L485.9,404.9L512.9,389.4Z" fill="#e06ae4" stroke="#3a0a3c" stroke-width="0.5"/>
<circle cx="494.1" cy="389.4" r="4" fill="#cf55d3"/>
<path d="M485.9,404.9L485.9,435.9L512.9,420.4Z" fill="#e06ae4" stroke="#3a0a3c" stroke-width="0.5"/>
<circle cx="494.1" cy="420.4" r="4" fill="#cf55d3"/>
<path d="M485.9,435.9L485.9,466.9L512.9,451.4Z" fill="#e06ae4" stroke="#3a0a3c" stroke-width="0.5"/>
<circle cx="494.1" cy="451.4" r="4" fill="#cf55d3"/>
<path d="M512.9,203.4L512.9,234.4L539.9,218.9Z" fill="#e06ae4" stroke="#3a0a3c" stroke-width="0.5"/>
<circle cx="521.1" cy="218.9" r="4" fill="#cf55d3"/>
<path d="M512.9,234.4L512.9,265.4L539.9,249.9Z" fill="#e06ae4" stroke="#3a0a3c" stroke-width="0.5"/>
<circle cx="521.1" cy="249.9" r="4" fill="#cf55d3"/>
<path d="M512.9,265.4L512.9,296.4L539.9,280.9Z" fill="#e06ae4" stroke="#3a0a3c" stroke-width="0.5"/>
<circle cx="521.1" cy="280.9" r="4" fill="#cf55d3"/>
<path d="M512.9,296.4L512.9,327.4L539.9,311.9Z" fill="#e06ae4" stroke="#3a0a3c" stroke-width="0.5"/>
<circle cx="521.1" cy="311.9" r="4" fill="#cf55d3"/>
<path d="M512.9,327.4L512.9,358.4L539.9,342.9Z" fill="#e06ae4" stroke="#3a0a3c" stroke-width="0.5"/>
<circle cx="521.1" cy="342.9" r="4" fill="#cf55d3"/>
<path d="M512.9,358.4L512.9,389.4L539.9,373.9Z" fill="#e06ae4" stroke="#3a0a3c" stroke-width="0.5"/>
<circle cx="521.1" cy="373.9" r="4" fill="#cf55d3"/>
<path d="M512.9,389.4L512.9,420.4L539.9,404.9Z" fill="#e06ae4" stroke="#3a0a3c" stroke-width="0.5"/>
<circle cx="521.1" cy="404.9" r="4" fill="#cf55d3"/>
<path d="M512.9,420.4L512.9,451.4L539.9,435.9Z" fill="#e06ae4" stroke="#3a0a3c" stroke-width="0.5"/>
<circle cx="521.1" cy="435.9" r="4" fill="#cf55d3"/>
<path d="M512.9,451.4L512.9,482.4L539.9,466.9Z" fill="#e06ae4" stroke="#3a0a3c" stroke-width="0.5"/>
<circle cx="521.1" cy="466.9" r="4" fill="#cf55d3"/>
<path d="M539.9,218.9L539.9,249.9L566.9,234.4Z" fill="#e06ae4" stroke="#3a0a3c" stroke-width="0.5"/>
<circle cx="548.1" cy="234.4" r="4" fill="#cf55d3"/>
<path d="M539.9,249.9L539.9,280.9L566.9,265.4Z" fill="#e06ae4" stroke="#3a0a3c" stroke-width="0.5"/>
<circle cx="548.1" cy="265.4" r="4" fill="#cf55d3"/>
<path d="M539.9,280.9L539.9,311.9L566.9,296.4Z" fill="#e06ae4" stroke="#3a0a3c" stroke-width="0.5"/>
<circle cx="548.1" cy="296.4" r="4" fill="#cf55d3"/>
<path d="M539.9,311.9L539.9,342.9L566.9,327.4Z" fill="#d3f6fa" stroke="#2d5560" stroke-width="0.5"/>
<circle cx="548.1" cy="327.4" r="4.4" fill="#bcedf6"/>
<path d="M539.9,342.9L539.9,373.9L566.9,358.4Z" fill="#d3f6fa" stroke="#2d5560" stroke-width="0.5"/>
<circle cx="548.1" cy="358.4" r="4.4" fill="#bcedf6"/>
<path d="M539.9,373.9L539.9,404.9L566.9,389.4Z" fill="#d3f6fa" stroke="#2d5560" stroke-width="0.5"/>
<circle cx="548.1" cy="389.4" r="4.4" fill="#bcedf6"/>
<path d="M539.9,404.9L539.9,435.9L566.9,420.4Z" fill="#e06ae4" stroke="#3a0a3c" stroke-width="0.5"/>
<circle cx="548.1" cy="420.4" r="4" fill="#cf55d3"/>
<path d="M539.9,435.9L539.9,466.9L566.9,451.4Z" fill="#e06ae4" stroke="#3a0a3c" stroke-width="0.5"/>
<circle cx="548.1" cy="451.4" r="4" fill="#cf55d3"/>
<path d="M566.9,203.4L566.9,234.4L593.9,218.9Z" fill="#e06ae4" stroke="#3a0a3c" stroke-width="0.5"/>
<circle cx="575.1" cy="218.9" r="4" fill="#cf55d3"/>
<path d="M566.9,265.4L566.9,296.4L593.9,280.9Z" fill="#e06ae4" stroke="#3a0a3c" stroke-width="0.5"/>
<circle cx="575.1" cy="280.9" r="4" fill="#cf55d3"/>
<path d="M566.9,296.4L566.9,327.4L593.9,311.9Z" fill="#d3f6fa" stroke="#2d5560" stroke-width="0.5"/>
<circle cx="575.1" cy="311.9" r="4.4" fill="#bcedf6"/>
<path d="M566.9,358.4L566.9,389.4L593.9,373.9Z" fill="#d3f6fa" stroke="#2d5560" stroke-width="0.5"/>
<circle cx="575.1" cy="373.9" r="4.4" fill="#bcedf6"/>
<path d="M566.9,389.4L566.9,420.4L593.9,404.9Z" fill="#e06ae4" stroke="#3a0a3c" stroke-width="0.5"/>
<circle cx="575.1" cy="404.9" r="4" fill="#cf55d3"/>
<path d="M566.9,451.4L566.9,482.4L593.9,466.9Z" fill="#e06ae4" stroke="#3a0a3c" stroke-width="0.5"/>
<circle cx="575.1" cy="466.9" r="4" fill="#cf55d3"/>
<path d="M593.9,218.9L593.9,249.9L620.9,234.4Z" fill="#e06ae4" stroke="#3a0a3c" stroke-width="0.5"/>
<circle cx="602.1" cy="234.4" r="4" fill="#cf55d3"/>
<path d="M593.9,249.9L593.9,280.9L620.9,265.4Z" fill="#e06ae4" stroke="#3a0a3c" stroke-width="0.5"/>
<circle cx="602.1" cy="265.4" r="4" fill="#cf55d3"/>
<path d="M593.9,280.9L593.9,311.9L620.9,296.4Z" fill="#d3f6fa" stroke="#2d5560" stroke-width="0.5"/>
<circle cx="602.1" cy="296.4" r="4.4" fill="#bcedf6"/>
<path d="M593.9,373.9L593.9,404.9L620.9,389.4Z" fill="#d3f6fa" stroke="#2d5560" stroke-width="0.5"/>
<circle cx="602.1" cy="389.4" r="4.4" fill="#bcedf6"/>
<path d="M593.9,404.9L593.9,435.9L620.9,420.4Z" fill="#e06ae4" stroke="#3a0a3c" stroke-width="0.5"/>
<circle cx="602.1" cy="420.4" r="4" fill="#cf55d3"/>
<path d="M593.9,435.9L593.9,466.9L620.9,451.4Z" fill="#e06ae4" stroke="#3a0a3c" stroke-width="0.5"/>
<circle cx="602.1" cy="451.4" r="4" fill="#cf55d3"/>
<path d="M620.9,203.4L620.9,234.4L647.9,218.9Z" fill="#e06ae4" stroke="#3a0a3c" stroke-width="0.5"/>
<circle cx="629.1" cy="218.9" r="4" fill="#cf55d3"/>
<path d="M620.9,234.4L620.9,265.4L647.9,249.9Z" fill="#e06ae4" stroke="#3a0a3c" stroke-width="0.5"/>
<circle cx="629.1" cy="249.9" r="4" fill="#cf55d3"/>
<path d="M620.9,265.4L620.9,296.4L647.9,280.9Z" fill="#d3f6fa" stroke="#2d5560" stroke-width="0.5"/>
<circle cx="629.1" cy="280.9" r="4.4" fill="#bcedf6"/>
<path d="M620.9,296.4L620.9,327.4L647.9,311.9Z" fill="#d3f6fa" stroke="#2d5560" stroke-width="0.5"/>
<circle cx="629.1" cy="311.9" r="4.4" fill="#bcedf6"/>
<path d="M620.9,358.4L620.9,389.4L647.9,373.9Z" fill="#d3f6fa" stroke="#2d5560" stroke-width="0.5"/>
<circle cx="629.1" cy="373.9" r="4.4" fill="#bcedf6"/>
<path d="M620.9,389.4L620.9,420.4L647.9,404.9Z" fill="#e06ae4" stroke="#3a0a3c" stroke-width="0.5"/>
<circle cx="629.1" cy="404.9" r="4" fill="#cf55d3"/>
<path d="M620.9,451.4L620.9,482.4L647.9,466.9Z" fill="#e06ae4" stroke="#3a0a3c" stroke-width="0.5"/>
<circle cx="629.1" cy="466.9" r="4" fill="#cf55d3"/>
<path d="M647.9,218.9L647.9,249.9L674.9,234.4Z" fill="#e06ae4" stroke="#3a0a3c" stroke-width="0.5"/>
<circle cx="656.1" cy="234.4" r="4" fill="#cf55d3"/>
<path d="M647.9,249.9L647.9,280.9L674.9,265.4Z" fill="#e06ae4" stroke="#3a0a3c" stroke-width="0.5"/>
<circle cx="656.1" cy="265.4" r="4" fill="#cf55d3"/>
<path d="M647.9,280.9L647.9,311.9L674.9,296.4Z" fill="#e06ae4" stroke="#3a0a3c" stroke-width="0.5"/>
<circle cx="656.1" cy="296.4" r="4" fill="#cf55d3"/>
<path d="M647.9,311.9L647.9,342.9L674.9,327.4Z" fill="#d3f6fa" stroke="#2d5560" stroke-width="0.5"/>
<circle cx="656.1" cy="327.4" r="4.4" fill="#bcedf6"/>
<path d="M647.9,342.9L647.9,373.9L674.9,358.4Z" fill="#d3f6fa" stroke="#2d5560" stroke-width="0.5"/>
<circle cx="656.1" cy="358.4" r="4.4" fill="#bcedf6"/>
<path d="M647.9,373.9L647.9,404.9L674.9,389.4Z" fill="#e06ae4" stroke="#3a0a3c" stroke-width="0.5"/>
<circle cx="656.1" cy="389.4" r="4" fill="#cf55d3"/>
<path d="M647.9,404.9L647.9,435.9L674.9,420.4Z" fill="#e06ae4" stroke="#3a0a3c" stroke-width="0.5"/>
<circle cx="656.1" cy="420.4" r="4" fill="#cf55d3"/>
<path d="M647.9,435.9L647.9,466.9L674.9,451.4Z" fill="#e06ae4" stroke="#3a0a3c" stroke-width="0.5"/>
<circle cx="656.1" cy="451.4" r="4" fill="#cf55d3"/>
<path d="M674.9,203.4L674.9,234.4L701.9,218.9Z" fill="#e06ae4" stroke="#3a0a3c" stroke-width="0.5"/>
<circle cx="683.1" cy="218.9" r="4" fill="#cf55d3"/>
<path d="M674.9,234.4L674.9,265.4L701.9,249.9Z" fill="#e06ae4" stroke="#3a0a3c" stroke-width="0.5"/>
<circle cx="683.1" cy="249.9" r="4" fill="#cf55d3"/>
<path d="M674.9,265.4L674.9,296.4L701.9,280.9Z" fill="#e06ae4" stroke="#3a0a3c" stroke-width="0.5"/>
<circle cx="683.1" cy="280.9" r="4" fill="#cf55d3"/>
<path d="M674.9,296.4L674.9,327.4L701.9,311.9Z" fill="#e06ae4" stroke="#3a0a3c" stroke-width="0.5"/>
<circle cx="683.1" cy="311.9" r="4" fill="#cf55d3"/>
<path d="M674.9,327.4L674.9,358.4L701.9,342.9Z" fill="#e06ae4" stroke="#3a0a3c" stroke-width="0.5"/>
<circle cx="683.1" cy="342.9" r="4" fill="#cf55d3"/>
<path d="M674.9,358.4L674.9,389.4L701.9,373.9Z" fill="#e06ae4" stroke="#3a0a3c" stroke-width="0.5"/>
<circle cx="683.1" cy="373.9" r="4" fill="#cf55d3"/>
<path d="M674.9,389.4L674.9,420.4L701.9,404.9Z" fill="#e06ae4" stroke="#3a0a3c" stroke-width="0.5"/>
<circle cx="683.1" cy="404.9" r="4" fill="#cf55d3"/>
<path d="M674.9,420.4L674.9,451.4L701.9,435.9Z" fill="#e06ae4" stroke="#3a0a3c" stroke-width="0.5"/>
<circle cx="683.1" cy="435.9" r="4" fill="#cf55d3"/>
<path d="M674.9,451.4L674.9,482.4L701.9,466.9Z" fill="#e06ae4" stroke="#3a0a3c" stroke-width="0.5"/>
<circle cx="683.1" cy="466.9" r="4" fill="#cf55d3"/>
<path d="M593.9,337.4L612.2,348.3" stroke="#9a9a9a" stroke-width="1.7"/>
<circle cx="485.9" cy="218.9" r="4.1" fill="url(#rg)"/>
<circle cx="485.9" cy="249.9" r="4.1" fill="url(#rg)"/>
<circle cx="512.9" cy="234.4" r="4.1" fill="url(#rg)"/>
<circle cx="485.9" cy="280.9" r="4.1" fill="url(#rg)"/>
<circle cx="512.9" cy="265.4" r="4.1" fill="url(#rg)"/>
<circle cx="485.9" cy="311.9" r="4.1" fill="url(#rg)"/>
<circle cx="512.9" cy="296.4" r="4.1" fill="url(#rg)"/>
<circle cx="485.9" cy="342.9" r="4.1" fill="url(#rg)"/>
<circle cx="512.9" cy="327.4" r="4.1" fill="url(#rg)"/>
<circle cx="485.9" cy="373.9" r="4.1" fill="url(#rg)"/>
<circle cx="512.9" cy="358.4" r="4.1" fill="url(#rg)"/>
<circle cx="485.9" cy="404.9" r="4.1" fill="url(#rg)"/>
<circle cx="512.9" cy="389.4" r="4.1" fill="url(#rg)"/>
<circle cx="485.9" cy="435.9" r="4.1" fill="url(#rg)"/>
<circle cx="512.9" cy="420.4" r="4.1" fill="url(#rg)"/>
<circle cx="485.9" cy="466.9" r="4.1" fill="url(#rg)"/>
<circle cx="512.9" cy="451.4" r="4.1" fill="url(#rg)"/>
<circle cx="512.9" cy="203.4" r="4.1" fill="url(#rg)"/>
<circle cx="539.9" cy="218.9" r="4.1" fill="url(#rg)"/>
<circle cx="539.9" cy="249.9" r="4.1" fill="url(#rg)"/>
<circle cx="539.9" cy="280.9" r="4.1" fill="url(#rg)"/>
<circle cx="539.9" cy="311.9" r="4.1" fill="url(#rg)"/>
<circle cx="539.9" cy="342.9" r="4.1" fill="url(#rg)"/>
<circle cx="539.9" cy="373.9" r="4.1" fill="url(#rg)"/>
<circle cx="539.9" cy="404.9" r="4.1" fill="url(#rg)"/>
<circle cx="539.9" cy="435.9" r="4.1" fill="url(#rg)"/>
<circle cx="512.9" cy="482.4" r="4.1" fill="url(#rg)"/>
<circle cx="539.9" cy="466.9" r="4.1" fill="url(#rg)"/>
<circle cx="566.9" cy="234.4" r="4.1" fill="url(#rg)"/>
<circle cx="566.9" cy="265.4" r="4.1" fill="url(#rg)"/>
<circle cx="566.9" cy="296.4" r="4.1" fill="url(#rg)"/>
<circle cx="566.9" cy="327.4" r="4.1" fill="url(#rg)"/>
<circle cx="566.9" cy="358.4" r="4.1" fill="url(#rg)"/>
<circle cx="566.9" cy="389.4" r="4.1" fill="url(#rg)"/>
<circle cx="566.9" cy="420.4" r="4.1" fill="url(#rg)"/>
<circle cx="566.9" cy="451.4" r="4.1" fill="url(#rg)"/>
<circle cx="566.9" cy="203.4" r="4.1" fill="url(#rg)"/>
<circle cx="593.9" cy="218.9" r="4.1" fill="url(#rg)"/>
<circle cx="593.9" cy="280.9" r="4.1" fill="url(#rg)"/>
<circle cx="593.9" cy="311.9" r="4.1" fill="url(#rg)"/>
<circle cx="593.9" cy="373.9" r="4.1" fill="url(#rg)"/>
<circle cx="593.9" cy="404.9" r="4.1" fill="url(#rg)"/>
<circle cx="566.9" cy="482.4" r="4.1" fill="url(#rg)"/>
<circle cx="593.9" cy="466.9" r="4.1" fill="url(#rg)"/>
<circle cx="593.9" cy="249.9" r="4.1" fill="url(#rg)"/>
<circle cx="620.9" cy="234.4" r="4.1" fill="url(#rg)"/>
<circle cx="620.9" cy="265.4" r="4.1" fill="url(#rg)"/>
<circle cx="620.9" cy="296.4" r="4.1" fill="url(#rg)"/>
<circle cx="620.9" cy="389.4" r="4.1" fill="url(#rg)"/>
<circle cx="593.9" cy="435.9" r="4.1" fill="url(#rg)"/>
<circle cx="620.9" cy="420.4" r="4.1" fill="url(#rg)"/>
<circle cx="620.9" cy="451.4" r="4.1" fill="url(#rg)"/>
<circle cx="620.9" cy="203.4" r="4.1" fill="url(#rg)"/>
<circle cx="647.9" cy="218.9" r="4.1" fill="url(#rg)"/>
<circle cx="647.9" cy="249.9" r="4.1" fill="url(#rg)"/>
<circle cx="647.9" cy="280.9" r="4.1" fill="url(#rg)"/>
<circle cx="620.9" cy="327.4" r="4.1" fill="url(#rg)"/>
<circle cx="647.9" cy="311.9" r="4.1" fill="url(#rg)"/>
<circle cx="620.9" cy="358.4" r="4.1" fill="url(#rg)"/>
<circle cx="647.9" cy="373.9" r="4.1" fill="url(#rg)"/>
<circle cx="647.9" cy="404.9" r="4.1" fill="url(#rg)"/>
<circle cx="620.9" cy="482.4" r="4.1" fill="url(#rg)"/>
<circle cx="647.9" cy="466.9" r="4.1" fill="url(#rg)"/>
<circle cx="674.9" cy="234.4" r="4.1" fill="url(#rg)"/>
<circle cx="674.9" cy="265.4" r="4.1" fill="url(#rg)"/>
<circle cx="674.9" cy="296.4" r="4.1" fill="url(#rg)"/>
<circle cx="647.9" cy="342.9" r="4.1" fill="url(#rg)"/>
<circle cx="674.9" cy="327.4" r="4.1" fill="url(#rg)"/>
<circle cx="674.9" cy="358.4" r="4.1" fill="url(#rg)"/>
<circle cx="674.9" cy="389.4" r="4.1" fill="url(#rg)"/>
<circle cx="647.9" cy="435.9" r="4.1" fill="url(#rg)"/>
<circle cx="674.9" cy="420.4" r="4.1" fill="url(#rg)"/>
<circle cx="674.9" cy="451.4" r="4.1" fill="url(#rg)"/>
<circle cx="674.9" cy="203.4" r="4.1" fill="url(#rg)"/>
<circle cx="701.9" cy="218.9" r="4.1" fill="url(#rg)"/>
<circle cx="701.9" cy="249.9" r="4.1" fill="url(#rg)"/>
<circle cx="701.9" cy="280.9" r="4.1" fill="url(#rg)"/>
<circle cx="701.9" cy="311.9" r="4.1" fill="url(#rg)"/>
<circle cx="701.9" cy="342.9" r="4.1" fill="url(#rg)"/>
<circle cx="701.9" cy="373.9" r="4.1" fill="url(#rg)"/>
<circle cx="701.9" cy="404.9" r="4.1" fill="url(#rg)"/>
<circle cx="701.9" cy="435.9" r="4.1" fill="url(#rg)"/>
<circle cx="674.9" cy="482.4" r="4.1" fill="url(#rg)"/>
<circle cx="701.9" cy="466.9" r="4.1" fill="url(#rg)"/>
<circle cx="593.9" cy="337.4" r="4.1" fill="url(#rg)"/>
<circle cx="612.2" cy="348.3" r="4.1" fill="url(#rg)"/>
</g>
<text x="508.3" y="35" font-size="10.8"><tspan>TM</tspan><tspan dx="-0.4">–</tspan><tspan dx="-0.4">O</tspan><tspan font-size="7.8" dy="-4.6">2</tspan><tspan font-size="6.6" dx="0.2" dy="-0.6">–</tspan></text>
<path d="M528.5,36.6L551.28,64.89" stroke="#111" stroke-width="0.85" fill="none"/><path d="M554.1,68.4L548.94,65.5L552.36,62.74Z" fill="#111"/>
<text x="646.1" y="25.5" font-size="10.8">O<tspan font-size="7.2" dy="2.8">2</tspan></text>
<path d="M648.6,31.4L625.32,87.54" stroke="#111" stroke-width="0.85" fill="none"/><path d="M623.6,91.7L623.67,85.78L627.74,87.46Z" fill="#111"/>
<path d="M598.9,201.9L598.9,242.8" stroke="#111" stroke-width="1.3" fill="none"/><path d="M598.9,248.8L596.3,241.8L601.5,241.8Z" fill="#111"/>
<text x="607.6" y="224.6" font-size="10.9" textLength="59.8" lengthAdjust="spacingAndGlyphs">Discharging</text>
<text x="530.3" y="253.5" font-size="10.8">Li–O<tspan font-size="7.8" dy="-4.6">2</tspan><tspan font-size="6.6" dx="0.2" dy="-0.6">–</tspan></text>
<path d="M548,259L570.11,306.62" stroke="#111" stroke-width="0.85" fill="none"/><path d="M572,310.7L567.69,306.64L571.68,304.78Z" fill="#111"/>
<text x="645.8" y="256.9" font-size="10.8">O<tspan font-size="7.2" dy="2.8">2</tspan></text>
<path d="M646.6,261.9L604.61,336.18" stroke="#111" stroke-width="0.85" fill="none"/><path d="M602.4,340.1L603.19,334.23L607.02,336.39Z" fill="#111"/>
</svg></body></html>
